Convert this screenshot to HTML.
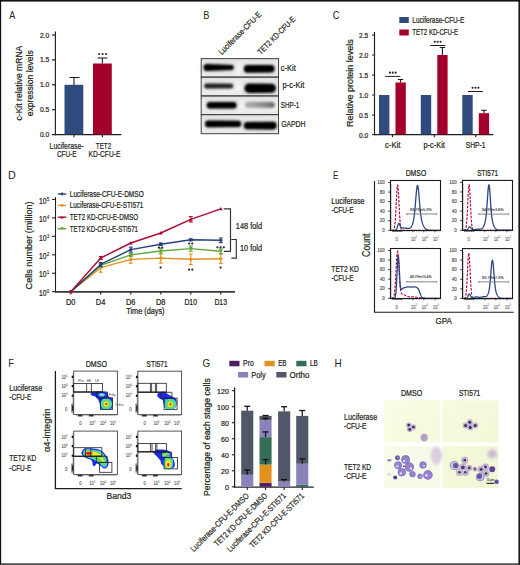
<!DOCTYPE html>
<html><head><meta charset="utf-8"><style>
html,body{margin:0;padding:0;background:#fff;overflow:hidden;}
svg{display:block;}
text{font-family:"Liberation Sans",sans-serif;}
</style></head><body>
<svg width="520" height="565" viewBox="0 0 520 565">
<rect x="0" y="0" width="520" height="565" fill="#fff"/>
<text x="9.18" y="19.00" font-size="11.2" fill="#231f20" textLength="6.02" lengthAdjust="spacingAndGlyphs">A</text>
<line x1="55.40" y1="31.50" x2="55.40" y2="135.20" stroke="#231f20" stroke-width="1.15"/>
<line x1="54.60" y1="134.60" x2="121.20" y2="134.60" stroke="#231f20" stroke-width="1.3"/>
<line x1="52.00" y1="35.00" x2="55.00" y2="35.00" stroke="#231f20" stroke-width="1.2"/>
<text x="39.90" y="37.55" font-size="7.2" fill="#231f20" textLength="9.30" lengthAdjust="spacingAndGlyphs" stroke="#231f20" stroke-width="0.22">2.0</text>
<line x1="52.00" y1="59.90" x2="55.00" y2="59.90" stroke="#231f20" stroke-width="1.2"/>
<text x="39.90" y="62.45" font-size="7.2" fill="#231f20" textLength="9.30" lengthAdjust="spacingAndGlyphs" stroke="#231f20" stroke-width="0.22">1.5</text>
<line x1="52.00" y1="84.80" x2="55.00" y2="84.80" stroke="#231f20" stroke-width="1.2"/>
<text x="39.90" y="87.35" font-size="7.2" fill="#231f20" textLength="9.30" lengthAdjust="spacingAndGlyphs" stroke="#231f20" stroke-width="0.22">1.0</text>
<line x1="52.00" y1="109.70" x2="55.00" y2="109.70" stroke="#231f20" stroke-width="1.2"/>
<text x="39.90" y="112.25" font-size="7.2" fill="#231f20" textLength="9.30" lengthAdjust="spacingAndGlyphs" stroke="#231f20" stroke-width="0.22">0.5</text>
<line x1="52.00" y1="134.60" x2="55.00" y2="134.60" stroke="#231f20" stroke-width="1.2"/>
<text x="39.90" y="137.15" font-size="7.2" fill="#231f20" textLength="9.30" lengthAdjust="spacingAndGlyphs" stroke="#231f20" stroke-width="0.22">0.0</text>
<rect x="64.50" y="84.80" width="18.80" height="49.60" fill="#2f4b7d"/>
<rect x="93.00" y="63.50" width="18.80" height="70.90" fill="#a3012b"/>
<line x1="74.00" y1="85.00" x2="74.00" y2="77.50" stroke="#231f20" stroke-width="1.1"/>
<line x1="69.50" y1="77.50" x2="79.50" y2="77.50" stroke="#231f20" stroke-width="1.1"/>
<line x1="102.40" y1="63.50" x2="102.40" y2="58.00" stroke="#231f20" stroke-width="1.1"/>
<line x1="97.50" y1="58.00" x2="107.50" y2="58.00" stroke="#231f20" stroke-width="1.1"/>
<line x1="74.00" y1="134.60" x2="74.00" y2="137.30" stroke="#231f20" stroke-width="1.1"/>
<line x1="102.40" y1="134.60" x2="102.40" y2="137.30" stroke="#231f20" stroke-width="1.1"/>
<circle cx="99.15" cy="54.00" r="1.05" fill="#222"/>
<circle cx="102.60" cy="54.00" r="1.05" fill="#222"/>
<circle cx="106.05" cy="54.00" r="1.05" fill="#222"/>
<text x="49.60" y="148.50" font-size="8.7" fill="#231f20" textLength="33.90" lengthAdjust="spacingAndGlyphs" stroke="#231f20" stroke-width="0.22">Luciferase-</text>
<text x="57.00" y="157.20" font-size="8.7" fill="#231f20" textLength="19.50" lengthAdjust="spacingAndGlyphs" stroke="#231f20" stroke-width="0.22">CFU-E</text>
<text x="95.80" y="148.50" font-size="8.7" fill="#231f20" textLength="15.40" lengthAdjust="spacingAndGlyphs" stroke="#231f20" stroke-width="0.22">TET2</text>
<text x="88.50" y="157.20" font-size="8.7" fill="#231f20" textLength="31.90" lengthAdjust="spacingAndGlyphs" stroke="#231f20" stroke-width="0.22">KD-CFU-E</text>
<g transform="translate(21.60,83.10) rotate(-90)"><text x="-37.40" y="0" font-size="9" fill="#231f20" textLength="74.80" lengthAdjust="spacingAndGlyphs" stroke="#231f20" stroke-width="0.22">c-Kit relative mRNA</text></g>
<g transform="translate(32.60,83.25) rotate(-90)"><text x="-33.00" y="0" font-size="9" fill="#231f20" textLength="66.00" lengthAdjust="spacingAndGlyphs" stroke="#231f20" stroke-width="0.22">expression levels</text></g>
<text x="203.24" y="18.90" font-size="11.2" fill="#231f20" textLength="6.16" lengthAdjust="spacingAndGlyphs">B</text>
<g transform="translate(221.80,55.20) rotate(-45)"><text x="0.00" y="0" font-size="8.2" fill="#231f20" textLength="56.50" lengthAdjust="spacingAndGlyphs" stroke="#231f20" stroke-width="0.22">Luciferase-CFU-E</text></g>
<g transform="translate(260.80,55.00) rotate(-45)"><text x="0.00" y="0" font-size="8.2" fill="#231f20" textLength="49.50" lengthAdjust="spacingAndGlyphs" stroke="#231f20" stroke-width="0.22">TET2 KD-CFU-E</text></g>
<defs><filter id="bl1" x="-30%" y="-100%" width="160%" height="300%"><feGaussianBlur stdDeviation="1.25 1.1"/></filter><linearGradient id="blotbg" x1="0" x2="0" y1="0" y2="1"><stop offset="0" stop-color="#dcdcdc"/><stop offset="0.25" stop-color="#eeeeee"/><stop offset="0.6" stop-color="#f6f6f6"/><stop offset="1" stop-color="#e6e6e6"/></linearGradient></defs>
<rect x="201.20" y="58.60" width="77.30" height="18.50" fill="url(#blotbg)"/>
<rect x="201.20" y="77.10" width="77.30" height="18.80" fill="url(#blotbg)"/>
<rect x="201.20" y="95.90" width="77.30" height="18.70" fill="url(#blotbg)"/>
<rect x="201.20" y="114.60" width="77.30" height="19.10" fill="url(#blotbg)"/>
<defs><linearGradient id="shpg" x1="0" x2="1" y1="0" y2="0"><stop offset="0" stop-color="#acacac"/><stop offset="0.5" stop-color="#959595"/><stop offset="1" stop-color="#6a6a6a"/></linearGradient></defs>
<defs><filter id="bl2" x="-30%" y="-150%" width="160%" height="400%"><feGaussianBlur stdDeviation="2.2 1.8"/></filter></defs>
<rect x="202.50" y="62.50" width="32.30" height="10.00" rx="3" fill="#d2d2d2" filter="url(#bl2)"/>
<rect x="242.80" y="63.40" width="32.80" height="10.80" rx="3" fill="#d2d2d2" filter="url(#bl2)"/>
<rect x="203.30" y="82.00" width="30.90" height="8.00" rx="3" fill="#d2d2d2" filter="url(#bl2)"/>
<rect x="243.40" y="82.10" width="33.50" height="12.40" rx="3" fill="#d2d2d2" filter="url(#bl2)"/>
<rect x="205.70" y="100.50" width="31.90" height="9.60" rx="3" fill="#d2d2d2" filter="url(#bl2)"/>
<rect x="244.30" y="100.40" width="31.40" height="8.80" rx="3" fill="#e0e0e0" filter="url(#bl2)"/>
<rect x="204.10" y="119.00" width="38.10" height="9.80" rx="3" fill="#d2d2d2" filter="url(#bl2)"/>
<rect x="242.80" y="120.30" width="34.90" height="10.60" rx="3" fill="#d2d2d2" filter="url(#bl2)"/>
<path d="M207.00,64.00 L231.30,65.00 A2.50,2.50 0 0 1 231.30,70.00 L207.00,71.00 A3.50,3.50 0 0 1 207.00,64.00Z" fill="#000" filter="url(#bl1)"/>
<path d="M247.70,64.90 L270.90,65.10 A3.70,3.70 0 0 1 270.90,72.50 L247.70,72.70 A3.90,3.90 0 0 1 247.70,64.90Z" fill="#000" filter="url(#bl1)"/>
<path d="M206.80,83.50 L231.00,83.80 A2.20,2.20 0 0 1 231.00,88.20 L206.80,88.50 A2.50,2.50 0 0 1 206.80,83.50Z" fill="#222" filter="url(#bl1)"/>
<path d="M249.10,83.60 L271.40,83.80 A4.50,4.50 0 0 1 271.40,92.80 L249.10,93.00 A4.70,4.70 0 0 1 249.10,83.60Z" fill="#000" filter="url(#bl1)"/>
<path d="M210.00,102.00 L233.40,102.10 A3.20,3.20 0 0 1 233.40,108.50 L210.00,108.60 A3.30,3.30 0 0 1 210.00,102.00Z" fill="#000" filter="url(#bl1)"/>
<path d="M248.00,102.10 L271.80,101.90 A2.90,2.90 0 0 1 271.80,107.70 L248.00,107.50 A2.70,2.70 0 0 1 248.00,102.10Z" fill="url(#shpg)" filter="url(#bl1)"/>
<path d="M208.50,120.50 L238.10,120.80 A3.10,3.10 0 0 1 238.10,127.00 L208.50,127.30 A3.40,3.40 0 0 1 208.50,120.50Z" fill="#000" filter="url(#bl1)"/>
<path d="M247.50,121.90 L272.90,121.80 A3.80,3.80 0 0 1 272.90,129.40 L247.50,129.30 A3.70,3.70 0 0 1 247.50,121.90Z" fill="#000" filter="url(#bl1)"/>
<rect x="201.20" y="58.60" width="77.30" height="18.50" fill="none" stroke="#444" stroke-width="1.0"/>
<rect x="201.20" y="77.10" width="77.30" height="18.80" fill="none" stroke="#444" stroke-width="1.0"/>
<rect x="201.20" y="95.90" width="77.30" height="18.70" fill="none" stroke="#444" stroke-width="1.0"/>
<rect x="201.20" y="114.60" width="77.30" height="19.10" fill="none" stroke="#444" stroke-width="1.0"/>
<text x="280.80" y="71.00" font-size="8.5" fill="#231f20" textLength="15.00" lengthAdjust="spacingAndGlyphs" stroke="#231f20" stroke-width="0.22">c-Kit</text>
<text x="282.50" y="87.80" font-size="8.5" fill="#231f20" textLength="21.80" lengthAdjust="spacingAndGlyphs" stroke="#231f20" stroke-width="0.22">p-c-Kit</text>
<text x="280.80" y="108.20" font-size="8.5" fill="#231f20" textLength="18.50" lengthAdjust="spacingAndGlyphs" stroke="#231f20" stroke-width="0.22">SHP-1</text>
<text x="281.20" y="127.30" font-size="8.5" fill="#231f20" textLength="24.30" lengthAdjust="spacingAndGlyphs" stroke="#231f20" stroke-width="0.22">GAPDH</text>
<text x="332.63" y="18.90" font-size="11.2" fill="#231f20" textLength="6.67" lengthAdjust="spacingAndGlyphs">C</text>
<rect x="399.30" y="17.00" width="9.50" height="6.00" fill="#2f4b7d"/>
<text x="412.30" y="22.90" font-size="8.2" fill="#231f20" textLength="52.00" lengthAdjust="spacingAndGlyphs" stroke="#231f20" stroke-width="0.22">Luciferase-CFU-E</text>
<rect x="399.30" y="29.50" width="9.50" height="6.00" fill="#a3012b"/>
<text x="412.30" y="35.30" font-size="8.2" fill="#231f20" textLength="45.70" lengthAdjust="spacingAndGlyphs" stroke="#231f20" stroke-width="0.22">TET2 KD-CFU-E</text>
<line x1="374.50" y1="32.00" x2="374.50" y2="135.20" stroke="#231f20" stroke-width="1.15"/>
<line x1="374.00" y1="134.60" x2="493.30" y2="134.60" stroke="#231f20" stroke-width="1.3"/>
<line x1="372.00" y1="35.00" x2="374.50" y2="35.00" stroke="#231f20" stroke-width="1"/>
<text x="359.10" y="37.90" font-size="7.1" fill="#231f20" textLength="9.20" lengthAdjust="spacingAndGlyphs" stroke="#231f20" stroke-width="0.22">2.5</text>
<line x1="372.00" y1="55.00" x2="374.50" y2="55.00" stroke="#231f20" stroke-width="1"/>
<text x="359.10" y="57.90" font-size="7.1" fill="#231f20" textLength="9.20" lengthAdjust="spacingAndGlyphs" stroke="#231f20" stroke-width="0.22">2.0</text>
<line x1="372.00" y1="75.00" x2="374.50" y2="75.00" stroke="#231f20" stroke-width="1"/>
<text x="359.10" y="77.90" font-size="7.1" fill="#231f20" textLength="9.20" lengthAdjust="spacingAndGlyphs" stroke="#231f20" stroke-width="0.22">1.5</text>
<line x1="372.00" y1="95.00" x2="374.50" y2="95.00" stroke="#231f20" stroke-width="1"/>
<text x="359.10" y="97.90" font-size="7.1" fill="#231f20" textLength="9.20" lengthAdjust="spacingAndGlyphs" stroke="#231f20" stroke-width="0.22">1.0</text>
<line x1="372.00" y1="115.00" x2="374.50" y2="115.00" stroke="#231f20" stroke-width="1"/>
<text x="359.10" y="117.90" font-size="7.1" fill="#231f20" textLength="9.20" lengthAdjust="spacingAndGlyphs" stroke="#231f20" stroke-width="0.22">0.5</text>
<line x1="372.00" y1="134.60" x2="374.50" y2="134.60" stroke="#231f20" stroke-width="1"/>
<text x="359.10" y="137.50" font-size="7.1" fill="#231f20" textLength="9.20" lengthAdjust="spacingAndGlyphs" stroke="#231f20" stroke-width="0.22">0.0</text>
<rect x="379.00" y="95.00" width="10.40" height="39.40" fill="#2f4b7d"/>
<rect x="395.50" y="82.50" width="10.30" height="51.90" fill="#a3012b"/>
<line x1="400.60" y1="82.50" x2="400.60" y2="79.50" stroke="#231f20" stroke-width="1.1"/>
<line x1="397.90" y1="79.50" x2="403.30" y2="79.50" stroke="#231f20" stroke-width="1.1"/>
<line x1="392.50" y1="134.60" x2="392.50" y2="137.20" stroke="#231f20" stroke-width="1.1"/>
<rect x="420.80" y="95.00" width="10.40" height="39.40" fill="#2f4b7d"/>
<rect x="437.30" y="55.00" width="10.30" height="79.40" fill="#a3012b"/>
<line x1="442.40" y1="55.00" x2="442.40" y2="47.50" stroke="#231f20" stroke-width="1.1"/>
<line x1="439.70" y1="47.50" x2="445.10" y2="47.50" stroke="#231f20" stroke-width="1.1"/>
<line x1="434.30" y1="134.60" x2="434.30" y2="137.20" stroke="#231f20" stroke-width="1.1"/>
<rect x="462.30" y="95.00" width="10.40" height="39.40" fill="#2f4b7d"/>
<rect x="478.80" y="113.20" width="10.30" height="21.20" fill="#a3012b"/>
<line x1="483.90" y1="113.20" x2="483.90" y2="110.30" stroke="#231f20" stroke-width="1.1"/>
<line x1="481.20" y1="110.30" x2="486.60" y2="110.30" stroke="#231f20" stroke-width="1.1"/>
<line x1="475.80" y1="134.60" x2="475.80" y2="137.20" stroke="#231f20" stroke-width="1.1"/>
<line x1="385.20" y1="76.40" x2="400.30" y2="76.40" stroke="#231f20" stroke-width="1.0"/>
<circle cx="389.85" cy="72.65" r="1.05" fill="#222"/>
<circle cx="392.75" cy="72.65" r="1.05" fill="#222"/>
<circle cx="395.65" cy="72.65" r="1.05" fill="#222"/>
<line x1="430.20" y1="45.50" x2="445.20" y2="45.50" stroke="#231f20" stroke-width="1.0"/>
<circle cx="434.80" cy="41.75" r="1.05" fill="#222"/>
<circle cx="437.70" cy="41.75" r="1.05" fill="#222"/>
<circle cx="440.60" cy="41.75" r="1.05" fill="#222"/>
<line x1="468.00" y1="91.50" x2="483.00" y2="91.50" stroke="#231f20" stroke-width="1.0"/>
<circle cx="472.60" cy="87.75" r="1.05" fill="#222"/>
<circle cx="475.50" cy="87.75" r="1.05" fill="#222"/>
<circle cx="478.40" cy="87.75" r="1.05" fill="#222"/>
<text x="384.95" y="147.60" font-size="8.5" fill="#231f20" textLength="15.50" lengthAdjust="spacingAndGlyphs" stroke="#231f20" stroke-width="0.22">c-Kit</text>
<text x="423.55" y="147.60" font-size="8.5" fill="#231f20" textLength="21.30" lengthAdjust="spacingAndGlyphs" stroke="#231f20" stroke-width="0.22">p-c-Kit</text>
<text x="465.70" y="147.60" font-size="8.5" fill="#231f20" textLength="19.80" lengthAdjust="spacingAndGlyphs" stroke="#231f20" stroke-width="0.22">SHP-1</text>
<g transform="translate(352.90,83.10) rotate(-90)"><text x="-43.80" y="0" font-size="9" fill="#231f20" textLength="87.60" lengthAdjust="spacingAndGlyphs" stroke="#231f20" stroke-width="0.22">Relative protein levels</text></g>
<text x="8.12" y="179.00" font-size="11.2" fill="#231f20" textLength="7.78" lengthAdjust="spacingAndGlyphs">D</text>
<line x1="55.50" y1="197.10" x2="55.50" y2="291.50" stroke="#231f20" stroke-width="1.1"/>
<line x1="54.90" y1="291.90" x2="235.00" y2="291.90" stroke="#383838" stroke-width="1.8"/>
<line x1="52.10" y1="291.70" x2="55.50" y2="291.70" stroke="#231f20" stroke-width="1.1"/>
<text x="39.00" y="295.90" font-size="8.2" fill="#231f20" textLength="7.50" lengthAdjust="spacingAndGlyphs" stroke="#231f20" stroke-width="0.22">10</text>
<text x="46.80" y="292.90" font-size="6.2" fill="#231f20" textLength="2.60" lengthAdjust="spacingAndGlyphs" stroke="#231f20" stroke-width="0.12">0</text>
<line x1="52.10" y1="273.25" x2="55.50" y2="273.25" stroke="#231f20" stroke-width="1.1"/>
<text x="39.00" y="277.45" font-size="8.2" fill="#231f20" textLength="7.50" lengthAdjust="spacingAndGlyphs" stroke="#231f20" stroke-width="0.22">10</text>
<text x="46.80" y="274.45" font-size="6.2" fill="#231f20" textLength="2.60" lengthAdjust="spacingAndGlyphs" stroke="#231f20" stroke-width="0.12">1</text>
<line x1="52.10" y1="254.80" x2="55.50" y2="254.80" stroke="#231f20" stroke-width="1.1"/>
<text x="39.00" y="259.00" font-size="8.2" fill="#231f20" textLength="7.50" lengthAdjust="spacingAndGlyphs" stroke="#231f20" stroke-width="0.22">10</text>
<text x="46.80" y="256.00" font-size="6.2" fill="#231f20" textLength="2.60" lengthAdjust="spacingAndGlyphs" stroke="#231f20" stroke-width="0.12">2</text>
<line x1="52.10" y1="236.35" x2="55.50" y2="236.35" stroke="#231f20" stroke-width="1.1"/>
<text x="39.00" y="240.55" font-size="8.2" fill="#231f20" textLength="7.50" lengthAdjust="spacingAndGlyphs" stroke="#231f20" stroke-width="0.22">10</text>
<text x="46.80" y="237.55" font-size="6.2" fill="#231f20" textLength="2.60" lengthAdjust="spacingAndGlyphs" stroke="#231f20" stroke-width="0.12">3</text>
<line x1="52.10" y1="217.90" x2="55.50" y2="217.90" stroke="#231f20" stroke-width="1.1"/>
<text x="39.00" y="222.10" font-size="8.2" fill="#231f20" textLength="7.50" lengthAdjust="spacingAndGlyphs" stroke="#231f20" stroke-width="0.22">10</text>
<text x="46.80" y="219.10" font-size="6.2" fill="#231f20" textLength="2.60" lengthAdjust="spacingAndGlyphs" stroke="#231f20" stroke-width="0.12">4</text>
<line x1="52.10" y1="199.45" x2="55.50" y2="199.45" stroke="#231f20" stroke-width="1.1"/>
<text x="39.00" y="203.65" font-size="8.2" fill="#231f20" textLength="7.50" lengthAdjust="spacingAndGlyphs" stroke="#231f20" stroke-width="0.22">10</text>
<text x="46.80" y="200.65" font-size="6.2" fill="#231f20" textLength="2.60" lengthAdjust="spacingAndGlyphs" stroke="#231f20" stroke-width="0.12">5</text>
<line x1="70.80" y1="291.70" x2="70.80" y2="294.50" stroke="#231f20" stroke-width="1.1"/>
<text x="65.95" y="304.60" font-size="8.3" fill="#231f20" textLength="9.50" lengthAdjust="spacingAndGlyphs" stroke="#231f20" stroke-width="0.22">D0</text>
<line x1="100.70" y1="291.70" x2="100.70" y2="294.50" stroke="#231f20" stroke-width="1.1"/>
<text x="95.85" y="304.60" font-size="8.3" fill="#231f20" textLength="9.50" lengthAdjust="spacingAndGlyphs" stroke="#231f20" stroke-width="0.22">D4</text>
<line x1="130.80" y1="291.70" x2="130.80" y2="294.50" stroke="#231f20" stroke-width="1.1"/>
<text x="125.95" y="304.60" font-size="8.3" fill="#231f20" textLength="9.50" lengthAdjust="spacingAndGlyphs" stroke="#231f20" stroke-width="0.22">D6</text>
<line x1="160.80" y1="291.70" x2="160.80" y2="294.50" stroke="#231f20" stroke-width="1.1"/>
<text x="155.95" y="304.60" font-size="8.3" fill="#231f20" textLength="9.50" lengthAdjust="spacingAndGlyphs" stroke="#231f20" stroke-width="0.22">D8</text>
<line x1="190.80" y1="291.70" x2="190.80" y2="294.50" stroke="#231f20" stroke-width="1.1"/>
<text x="184.40" y="304.60" font-size="8.3" fill="#231f20" textLength="12.60" lengthAdjust="spacingAndGlyphs" stroke="#231f20" stroke-width="0.22">D10</text>
<line x1="220.80" y1="291.70" x2="220.80" y2="294.50" stroke="#231f20" stroke-width="1.1"/>
<text x="214.40" y="304.60" font-size="8.3" fill="#231f20" textLength="12.60" lengthAdjust="spacingAndGlyphs" stroke="#231f20" stroke-width="0.22">D13</text>
<text x="126.25" y="313.80" font-size="8.3" fill="#231f20" textLength="38.30" lengthAdjust="spacingAndGlyphs" stroke="#231f20" stroke-width="0.22">Time (days)</text>
<g transform="translate(31.70,245.40) rotate(-90)"><text x="-44.00" y="0" font-size="8.6" fill="#231f20" textLength="88.00" lengthAdjust="spacingAndGlyphs" stroke="#231f20" stroke-width="0.22">Cells number (million)</text></g>
<polyline points="70.8,291.7 100.7,267.7 130.8,259.4 160.8,258.1 190.8,259.3 220.8,258.8" fill="none" stroke="#e3901a" stroke-width="1.4" stroke-linejoin="round"/>
<circle cx="70.80" cy="291.70" r="1.61" fill="#e3901a"/>
<line x1="100.70" y1="263.20" x2="100.70" y2="272.20" stroke="#e3901a" stroke-width="1.1"/>
<line x1="98.70" y1="263.20" x2="102.70" y2="263.20" stroke="#e3901a" stroke-width="1.1"/>
<line x1="98.70" y1="272.20" x2="102.70" y2="272.20" stroke="#e3901a" stroke-width="1.1"/>
<circle cx="100.70" cy="267.70" r="1.61" fill="#e3901a"/>
<line x1="130.80" y1="255.60" x2="130.80" y2="263.20" stroke="#e3901a" stroke-width="1.1"/>
<line x1="128.80" y1="255.60" x2="132.80" y2="255.60" stroke="#e3901a" stroke-width="1.1"/>
<line x1="128.80" y1="263.20" x2="132.80" y2="263.20" stroke="#e3901a" stroke-width="1.1"/>
<circle cx="130.80" cy="259.40" r="1.61" fill="#e3901a"/>
<line x1="160.80" y1="253.10" x2="160.80" y2="263.10" stroke="#e3901a" stroke-width="1.1"/>
<line x1="158.80" y1="253.10" x2="162.80" y2="253.10" stroke="#e3901a" stroke-width="1.1"/>
<line x1="158.80" y1="263.10" x2="162.80" y2="263.10" stroke="#e3901a" stroke-width="1.1"/>
<circle cx="160.80" cy="258.10" r="1.61" fill="#e3901a"/>
<line x1="190.80" y1="254.00" x2="190.80" y2="264.60" stroke="#e3901a" stroke-width="1.1"/>
<line x1="188.80" y1="254.00" x2="192.80" y2="254.00" stroke="#e3901a" stroke-width="1.1"/>
<line x1="188.80" y1="264.60" x2="192.80" y2="264.60" stroke="#e3901a" stroke-width="1.1"/>
<circle cx="190.80" cy="259.30" r="1.61" fill="#e3901a"/>
<line x1="220.80" y1="254.20" x2="220.80" y2="263.40" stroke="#e3901a" stroke-width="1.1"/>
<line x1="218.80" y1="254.20" x2="222.80" y2="254.20" stroke="#e3901a" stroke-width="1.1"/>
<line x1="218.80" y1="263.40" x2="222.80" y2="263.40" stroke="#e3901a" stroke-width="1.1"/>
<circle cx="220.80" cy="258.80" r="1.61" fill="#e3901a"/>
<polyline points="70.8,291.7 100.7,265.4 130.8,254.9 160.8,251.0 190.8,248.6 220.8,251.2" fill="none" stroke="#5fa737" stroke-width="1.4" stroke-linejoin="round"/>
<path d="M70.80,293.60 L72.70,290.18 L68.90,290.18Z" fill="#5fa737"/>
<line x1="100.70" y1="263.90" x2="100.70" y2="266.90" stroke="#5fa737" stroke-width="1.1"/>
<line x1="98.70" y1="263.90" x2="102.70" y2="263.90" stroke="#5fa737" stroke-width="1.1"/>
<line x1="98.70" y1="266.90" x2="102.70" y2="266.90" stroke="#5fa737" stroke-width="1.1"/>
<path d="M100.70,267.30 L102.60,263.88 L98.80,263.88Z" fill="#5fa737"/>
<line x1="130.80" y1="253.40" x2="130.80" y2="256.40" stroke="#5fa737" stroke-width="1.1"/>
<line x1="128.80" y1="253.40" x2="132.80" y2="253.40" stroke="#5fa737" stroke-width="1.1"/>
<line x1="128.80" y1="256.40" x2="132.80" y2="256.40" stroke="#5fa737" stroke-width="1.1"/>
<path d="M130.80,256.80 L132.70,253.38 L128.90,253.38Z" fill="#5fa737"/>
<line x1="160.80" y1="248.20" x2="160.80" y2="253.80" stroke="#5fa737" stroke-width="1.1"/>
<line x1="158.80" y1="248.20" x2="162.80" y2="248.20" stroke="#5fa737" stroke-width="1.1"/>
<line x1="158.80" y1="253.80" x2="162.80" y2="253.80" stroke="#5fa737" stroke-width="1.1"/>
<path d="M160.80,252.90 L162.70,249.48 L158.90,249.48Z" fill="#5fa737"/>
<line x1="190.80" y1="246.00" x2="190.80" y2="251.20" stroke="#5fa737" stroke-width="1.1"/>
<line x1="188.80" y1="246.00" x2="192.80" y2="246.00" stroke="#5fa737" stroke-width="1.1"/>
<line x1="188.80" y1="251.20" x2="192.80" y2="251.20" stroke="#5fa737" stroke-width="1.1"/>
<path d="M190.80,250.50 L192.70,247.08 L188.90,247.08Z" fill="#5fa737"/>
<line x1="220.80" y1="248.90" x2="220.80" y2="253.50" stroke="#5fa737" stroke-width="1.1"/>
<line x1="218.80" y1="248.90" x2="222.80" y2="248.90" stroke="#5fa737" stroke-width="1.1"/>
<line x1="218.80" y1="253.50" x2="222.80" y2="253.50" stroke="#5fa737" stroke-width="1.1"/>
<path d="M220.80,253.10 L222.70,249.68 L218.90,249.68Z" fill="#5fa737"/>
<polyline points="70.8,291.7 100.7,264.4 130.8,249.6 160.8,244.2 190.8,239.8 220.8,240.3" fill="none" stroke="#27417f" stroke-width="1.4" stroke-linejoin="round"/>
<circle cx="70.80" cy="291.70" r="1.61" fill="#27417f"/>
<line x1="100.70" y1="262.40" x2="100.70" y2="266.40" stroke="#27417f" stroke-width="1.1"/>
<line x1="98.70" y1="262.40" x2="102.70" y2="262.40" stroke="#27417f" stroke-width="1.1"/>
<line x1="98.70" y1="266.40" x2="102.70" y2="266.40" stroke="#27417f" stroke-width="1.1"/>
<circle cx="100.70" cy="264.40" r="1.61" fill="#27417f"/>
<line x1="130.80" y1="247.10" x2="130.80" y2="252.10" stroke="#27417f" stroke-width="1.1"/>
<line x1="128.80" y1="247.10" x2="132.80" y2="247.10" stroke="#27417f" stroke-width="1.1"/>
<line x1="128.80" y1="252.10" x2="132.80" y2="252.10" stroke="#27417f" stroke-width="1.1"/>
<circle cx="130.80" cy="249.60" r="1.61" fill="#27417f"/>
<line x1="160.80" y1="243.00" x2="160.80" y2="245.40" stroke="#27417f" stroke-width="1.1"/>
<line x1="158.80" y1="243.00" x2="162.80" y2="243.00" stroke="#27417f" stroke-width="1.1"/>
<line x1="158.80" y1="245.40" x2="162.80" y2="245.40" stroke="#27417f" stroke-width="1.1"/>
<circle cx="160.80" cy="244.20" r="1.61" fill="#27417f"/>
<line x1="190.80" y1="238.80" x2="190.80" y2="240.80" stroke="#27417f" stroke-width="1.1"/>
<line x1="188.80" y1="238.80" x2="192.80" y2="238.80" stroke="#27417f" stroke-width="1.1"/>
<line x1="188.80" y1="240.80" x2="192.80" y2="240.80" stroke="#27417f" stroke-width="1.1"/>
<circle cx="190.80" cy="239.80" r="1.61" fill="#27417f"/>
<line x1="220.80" y1="238.00" x2="220.80" y2="242.60" stroke="#27417f" stroke-width="1.1"/>
<line x1="218.80" y1="238.00" x2="222.80" y2="238.00" stroke="#27417f" stroke-width="1.1"/>
<line x1="218.80" y1="242.60" x2="222.80" y2="242.60" stroke="#27417f" stroke-width="1.1"/>
<circle cx="220.80" cy="240.30" r="1.61" fill="#27417f"/>
<polyline points="70.8,291.7 100.7,258.0 130.8,243.0 160.8,233.0 190.8,219.3 220.8,208.8" fill="none" stroke="#ae0a31" stroke-width="1.4" stroke-linejoin="round"/>
<path d="M70.80,289.80 L72.70,293.22 L68.90,293.22Z" fill="#ae0a31"/>
<line x1="100.70" y1="256.50" x2="100.70" y2="259.50" stroke="#ae0a31" stroke-width="1.1"/>
<line x1="98.70" y1="256.50" x2="102.70" y2="256.50" stroke="#ae0a31" stroke-width="1.1"/>
<line x1="98.70" y1="259.50" x2="102.70" y2="259.50" stroke="#ae0a31" stroke-width="1.1"/>
<path d="M100.70,256.10 L102.60,259.52 L98.80,259.52Z" fill="#ae0a31"/>
<path d="M130.80,241.10 L132.70,244.52 L128.90,244.52Z" fill="#ae0a31"/>
<path d="M160.80,231.10 L162.70,234.52 L158.90,234.52Z" fill="#ae0a31"/>
<line x1="190.80" y1="216.60" x2="190.80" y2="222.00" stroke="#ae0a31" stroke-width="1.1"/>
<line x1="188.80" y1="216.60" x2="192.80" y2="216.60" stroke="#ae0a31" stroke-width="1.1"/>
<line x1="188.80" y1="222.00" x2="192.80" y2="222.00" stroke="#ae0a31" stroke-width="1.1"/>
<path d="M190.80,217.40 L192.70,220.82 L188.90,220.82Z" fill="#ae0a31"/>
<path d="M220.80,206.90 L222.70,210.32 L218.90,210.32Z" fill="#ae0a31"/>
<circle cx="160.60" cy="267.60" r="1.1" fill="#222"/>
<circle cx="189.10" cy="269.60" r="1.1" fill="#222"/>
<circle cx="192.30" cy="269.60" r="1.1" fill="#222"/>
<circle cx="220.60" cy="267.60" r="1.1" fill="#222"/>
<circle cx="189.10" cy="243.50" r="1.1" fill="#222"/>
<circle cx="192.30" cy="243.50" r="1.1" fill="#222"/>
<circle cx="217.40" cy="247.30" r="1.1" fill="#222"/>
<circle cx="220.60" cy="247.30" r="1.1" fill="#222"/>
<circle cx="223.80" cy="247.30" r="1.1" fill="#222"/>
<circle cx="159.00" cy="247.60" r="1.1" fill="#222"/>
<circle cx="162.20" cy="247.60" r="1.1" fill="#222"/>
<path d="M223.8,208.8 H230.5 V251.3 H223.8" stroke="#333" stroke-width="1.15" fill="none"/>
<path d="M231.3,239.5 H236.3 V258.1 H231.3" stroke="#333" stroke-width="1.15" fill="none"/>
<text x="235.80" y="229.00" font-size="8.2" fill="#231f20" textLength="26.30" lengthAdjust="spacingAndGlyphs" stroke="#231f20" stroke-width="0.22">148 fold</text>
<text x="240.00" y="251.10" font-size="8.2" fill="#231f20" textLength="22.00" lengthAdjust="spacingAndGlyphs" stroke="#231f20" stroke-width="0.22">10 fold</text>
<line x1="57.80" y1="194.00" x2="66.30" y2="194.00" stroke="#27417f" stroke-width="1.35"/>
<circle cx="62.00" cy="194.00" r="1.44" fill="#27417f"/>
<text x="69.75" y="196.90" font-size="8.5" fill="#231f20" textLength="74.00" lengthAdjust="spacingAndGlyphs" stroke="#231f20" stroke-width="0.22">Luciferase-CFU-E-DMSO</text>
<line x1="57.80" y1="205.40" x2="66.30" y2="205.40" stroke="#e3901a" stroke-width="1.35"/>
<circle cx="62.00" cy="205.40" r="1.44" fill="#e3901a"/>
<text x="69.75" y="208.30" font-size="8.5" fill="#231f20" textLength="73.50" lengthAdjust="spacingAndGlyphs" stroke="#231f20" stroke-width="0.22">Luciferase-CFU-E-STI571</text>
<line x1="57.80" y1="217.20" x2="66.30" y2="217.20" stroke="#ae0a31" stroke-width="1.35"/>
<path d="M62.00,215.50 L63.70,218.56 L60.30,218.56Z" fill="#ae0a31"/>
<text x="69.75" y="220.10" font-size="8.5" fill="#231f20" textLength="68.30" lengthAdjust="spacingAndGlyphs" stroke="#231f20" stroke-width="0.22">TET2 KD-CFU-E-DMSO</text>
<line x1="57.80" y1="228.70" x2="66.30" y2="228.70" stroke="#5fa737" stroke-width="1.35"/>
<path d="M62.00,230.40 L63.70,227.34 L60.30,227.34Z" fill="#5fa737"/>
<text x="69.75" y="231.60" font-size="8.5" fill="#231f20" textLength="68.30" lengthAdjust="spacingAndGlyphs" stroke="#231f20" stroke-width="0.22">TET2 KD-CFU-E-STI571</text>
<text x="333.03" y="179.00" font-size="11.2" fill="#231f20" textLength="5.43" lengthAdjust="spacingAndGlyphs">E</text>
<text x="405.65" y="175.90" font-size="8.4" fill="#231f20" textLength="20.60" lengthAdjust="spacingAndGlyphs" stroke="#231f20" stroke-width="0.22">DMSO</text>
<text x="477.15" y="175.90" font-size="8.4" fill="#231f20" textLength="21.00" lengthAdjust="spacingAndGlyphs" stroke="#231f20" stroke-width="0.22">STI571</text>
<text x="331.30" y="203.80" font-size="8.2" fill="#231f20" textLength="33.20" lengthAdjust="spacingAndGlyphs" stroke="#231f20" stroke-width="0.22">Luciferase</text>
<text x="331.40" y="212.90" font-size="8.2" fill="#231f20" textLength="22.10" lengthAdjust="spacingAndGlyphs" stroke="#231f20" stroke-width="0.22">-CFU-E</text>
<text x="331.30" y="271.60" font-size="8.2" fill="#231f20" textLength="27.50" lengthAdjust="spacingAndGlyphs" stroke="#231f20" stroke-width="0.22">TET2 KD</text>
<text x="331.40" y="281.40" font-size="8.2" fill="#231f20" textLength="22.10" lengthAdjust="spacingAndGlyphs" stroke="#231f20" stroke-width="0.22">-CFU-E</text>
<g transform="translate(370.40,245.20) rotate(-90)"><text x="-11.70" y="0" font-size="10" fill="#231f20" textLength="23.40" lengthAdjust="spacingAndGlyphs" stroke="#231f20" stroke-width="0.22">Count</text></g>
<text x="435.45" y="323.80" font-size="9.2" fill="#231f20" textLength="16.30" lengthAdjust="spacingAndGlyphs" stroke="#231f20" stroke-width="0.22">GPA</text>
<path d="M374.5,180.9 V312.2 H513.7" stroke="#1a1a1a" stroke-width="1.1" fill="none"/>
<line x1="388.00" y1="230.30" x2="390.50" y2="230.30" stroke="#222" stroke-width="0.8"/>
<text x="382.35" y="232.00" font-size="4.9" fill="#444" textLength="2.55" lengthAdjust="spacingAndGlyphs" stroke="#444" stroke-width="0.1">0</text>
<line x1="388.00" y1="220.74" x2="390.50" y2="220.74" stroke="#222" stroke-width="0.8"/>
<text x="379.80" y="222.44" font-size="4.9" fill="#444" textLength="5.10" lengthAdjust="spacingAndGlyphs" stroke="#444" stroke-width="0.1">20</text>
<line x1="388.00" y1="211.18" x2="390.50" y2="211.18" stroke="#222" stroke-width="0.8"/>
<text x="379.80" y="212.88" font-size="4.9" fill="#444" textLength="5.10" lengthAdjust="spacingAndGlyphs" stroke="#444" stroke-width="0.1">40</text>
<line x1="388.00" y1="201.62" x2="390.50" y2="201.62" stroke="#222" stroke-width="0.8"/>
<text x="379.80" y="203.32" font-size="4.9" fill="#444" textLength="5.10" lengthAdjust="spacingAndGlyphs" stroke="#444" stroke-width="0.1">60</text>
<line x1="388.00" y1="192.06" x2="390.50" y2="192.06" stroke="#222" stroke-width="0.8"/>
<text x="379.80" y="193.76" font-size="4.9" fill="#444" textLength="5.10" lengthAdjust="spacingAndGlyphs" stroke="#444" stroke-width="0.1">80</text>
<line x1="388.00" y1="182.50" x2="390.50" y2="182.50" stroke="#222" stroke-width="0.8"/>
<text x="377.25" y="184.20" font-size="4.9" fill="#444" textLength="7.65" lengthAdjust="spacingAndGlyphs" stroke="#444" stroke-width="0.1">100</text>
<line x1="390.50" y1="228.58" x2="391.60" y2="228.58" stroke="#222" stroke-width="0.5"/>
<line x1="390.50" y1="226.66" x2="391.60" y2="226.66" stroke="#222" stroke-width="0.5"/>
<line x1="390.50" y1="224.74" x2="391.60" y2="224.74" stroke="#222" stroke-width="0.5"/>
<line x1="390.50" y1="222.82" x2="391.60" y2="222.82" stroke="#222" stroke-width="0.5"/>
<line x1="390.50" y1="220.90" x2="391.60" y2="220.90" stroke="#222" stroke-width="0.5"/>
<line x1="390.50" y1="218.98" x2="391.60" y2="218.98" stroke="#222" stroke-width="0.5"/>
<line x1="390.50" y1="217.06" x2="391.60" y2="217.06" stroke="#222" stroke-width="0.5"/>
<line x1="390.50" y1="215.14" x2="391.60" y2="215.14" stroke="#222" stroke-width="0.5"/>
<line x1="390.50" y1="213.22" x2="391.60" y2="213.22" stroke="#222" stroke-width="0.5"/>
<line x1="390.50" y1="211.30" x2="391.60" y2="211.30" stroke="#222" stroke-width="0.5"/>
<line x1="390.50" y1="209.38" x2="391.60" y2="209.38" stroke="#222" stroke-width="0.5"/>
<line x1="390.50" y1="207.46" x2="391.60" y2="207.46" stroke="#222" stroke-width="0.5"/>
<line x1="390.50" y1="205.54" x2="391.60" y2="205.54" stroke="#222" stroke-width="0.5"/>
<line x1="390.50" y1="203.62" x2="391.60" y2="203.62" stroke="#222" stroke-width="0.5"/>
<line x1="390.50" y1="201.70" x2="391.60" y2="201.70" stroke="#222" stroke-width="0.5"/>
<line x1="390.50" y1="199.78" x2="391.60" y2="199.78" stroke="#222" stroke-width="0.5"/>
<line x1="390.50" y1="197.86" x2="391.60" y2="197.86" stroke="#222" stroke-width="0.5"/>
<line x1="390.50" y1="195.94" x2="391.60" y2="195.94" stroke="#222" stroke-width="0.5"/>
<line x1="390.50" y1="194.02" x2="391.60" y2="194.02" stroke="#222" stroke-width="0.5"/>
<line x1="390.50" y1="192.10" x2="391.60" y2="192.10" stroke="#222" stroke-width="0.5"/>
<line x1="390.50" y1="190.18" x2="391.60" y2="190.18" stroke="#222" stroke-width="0.5"/>
<line x1="390.50" y1="188.26" x2="391.60" y2="188.26" stroke="#222" stroke-width="0.5"/>
<line x1="390.50" y1="186.34" x2="391.60" y2="186.34" stroke="#222" stroke-width="0.5"/>
<line x1="390.50" y1="184.42" x2="391.60" y2="184.42" stroke="#222" stroke-width="0.5"/>
<path d="M391.50,230.30 L391.74,230.30 L391.98,230.29 L392.22,230.28 L392.46,230.27 L392.70,230.24 L392.94,230.18 L393.18,230.09 L393.42,229.92 L393.66,229.66 L393.90,229.24 L394.14,228.60 L394.38,227.66 L394.62,226.33 L394.86,224.51 L395.10,222.13 L395.34,219.12 L395.58,215.48 L395.82,211.26 L396.06,206.61 L396.30,201.74 L396.54,196.94 L396.78,192.54 L397.02,188.89 L397.26,186.31 L397.50,185.01 L397.74,185.13 L397.98,186.65 L398.22,189.44 L398.46,193.23 L398.70,197.72 L398.94,202.55 L399.18,207.41 L399.42,212.00 L399.66,216.12 L399.90,219.66 L400.14,222.57 L400.38,224.85 L400.62,226.58 L400.86,227.84 L401.10,228.72 L401.34,229.32 L401.58,229.71 L401.82,229.96 L402.06,230.11 L402.30,230.19 L402.54,230.24 L402.78,230.27 L403.02,230.29 L403.26,230.29 L403.50,230.30 L403.74,230.30 L403.98,230.30 L404.22,230.30 L404.46,230.30 L404.70,230.30 L404.94,230.30 L405.18,230.30 L405.42,230.30 L405.66,230.30 L405.90,230.30 L406.14,230.30 L406.38,230.30 L406.62,230.30 L406.86,230.30 L407.10,230.30 L407.34,230.30 L407.58,230.30 L407.82,230.30 L408.06,230.30 L408.30,230.30 L408.54,230.30 L408.78,230.30 L409.02,230.30 L409.26,230.30 L409.50,230.30 L409.74,230.30 L409.98,230.30 L410.22,230.30 L410.46,230.30 L410.70,230.30 L410.94,230.30 L411.18,230.30 L411.42,230.30 L411.66,230.30 L411.90,230.30 L412.14,230.30 L412.38,230.30 L412.62,230.30 L412.86,230.30 L413.10,230.30 L413.34,230.30 L413.58,230.30 L413.82,230.30 L414.06,230.30 L414.30,230.30 L414.54,230.30 L414.78,230.30 L415.02,230.30 L415.26,230.30 L415.50,230.30 L415.74,230.30 L415.98,230.30 L416.22,230.30 L416.46,230.30 L416.70,230.30 L416.94,230.30 L417.18,230.30 L417.42,230.30 L417.66,230.30 L417.90,230.30 L418.14,230.30 L418.38,230.30 L418.62,230.30 L418.86,230.30 L419.10,230.30 L419.34,230.30 L419.58,230.30 L419.82,230.30 L420.06,230.30 L420.30,230.30 L420.54,230.30 L420.78,230.30 L421.02,230.30 L421.26,230.30 L421.50,230.30 L421.74,230.30 L421.98,230.30 L422.22,230.30 L422.46,230.30 L422.70,230.30 L422.94,230.30 L423.18,230.30 L423.42,230.30 L423.66,230.30 L423.90,230.30 L424.14,230.30 L424.38,230.30 L424.62,230.30 L424.86,230.30 L425.10,230.30 L425.34,230.30 L425.58,230.30 L425.82,230.30 L426.06,230.30 L426.30,230.30 L426.54,230.30 L426.78,230.30 L427.02,230.30 L427.26,230.30 L427.50,230.30 L427.74,230.30 L427.98,230.30 L428.22,230.30 L428.46,230.30 L428.70,230.30 L428.94,230.30 L429.18,230.30 L429.42,230.30 L429.66,230.30 L429.90,230.30 L430.14,230.30 L430.38,230.30 L430.62,230.30 L430.86,230.30 L431.10,230.30 L431.34,230.30 L431.58,230.30 L431.82,230.30 L432.06,230.30 L432.30,230.30 L432.54,230.30 L432.78,230.30 L433.02,230.30 L433.26,230.30 L433.50,230.30 L433.74,230.30 L433.98,230.30 L434.22,230.30 L434.46,230.30 L434.70,230.30 L434.94,230.30 L435.18,230.30 L435.42,230.30 L435.66,230.30 L435.90,230.30 L436.14,230.30 L436.38,230.30 L436.62,230.30 L436.86,230.30 L437.10,230.30 L437.34,230.30 L437.58,230.30 L437.82,230.30 L438.06,230.30 L438.30,230.30 L438.54,230.30 L438.78,230.30 L439.02,230.30 L439.26,230.30 L439.50,230.30" stroke="#b30632" stroke-width="1.15" fill="none" stroke-dasharray="2.6 1.3"/>
<path d="M391.50,230.30 L391.74,230.30 L391.98,230.30 L392.22,230.30 L392.46,230.30 L392.70,230.30 L392.94,230.30 L393.18,230.30 L393.42,230.30 L393.66,230.30 L393.90,230.30 L394.14,230.30 L394.38,230.29 L394.62,230.28 L394.86,230.27 L395.10,230.24 L395.34,230.19 L395.58,230.12 L395.82,229.99 L396.06,229.80 L396.30,229.53 L396.54,229.16 L396.78,228.67 L397.02,228.05 L397.26,227.34 L397.50,226.54 L397.74,225.71 L397.98,224.91 L398.22,224.22 L398.46,223.70 L398.70,223.39 L398.94,223.34 L399.18,223.52 L399.42,223.91 L399.66,224.45 L399.90,225.07 L400.14,225.71 L400.38,226.30 L400.62,226.80 L400.86,227.20 L401.10,227.48 L401.34,227.67 L401.58,227.77 L401.82,227.83 L402.06,227.85 L402.30,227.86 L402.54,227.88 L402.78,227.90 L403.02,227.92 L403.26,227.96 L403.50,228.01 L403.74,228.05 L403.98,228.09 L404.22,228.13 L404.46,228.16 L404.70,228.18 L404.94,228.20 L405.18,228.21 L405.42,228.21 L405.66,228.22 L405.90,228.22 L406.14,228.23 L406.38,228.24 L406.62,228.26 L406.86,228.29 L407.10,228.31 L407.34,228.34 L407.58,228.37 L407.82,228.40 L408.06,228.43 L408.30,228.44 L408.54,228.44 L408.78,228.43 L409.02,228.40 L409.26,228.35 L409.50,228.27 L409.74,228.17 L409.98,228.03 L410.22,227.87 L410.46,227.66 L410.70,227.43 L410.94,227.15 L411.18,226.83 L411.42,226.47 L411.66,226.06 L411.90,225.60 L412.14,225.08 L412.38,224.49 L412.62,223.82 L412.86,223.05 L413.10,222.17 L413.34,221.16 L413.58,219.98 L413.82,218.61 L414.06,217.03 L414.30,215.21 L414.54,213.15 L414.78,210.84 L415.02,208.29 L415.26,205.54 L415.50,202.63 L415.74,199.66 L415.98,196.70 L416.22,193.86 L416.46,191.28 L416.70,189.05 L416.94,187.29 L417.18,186.09 L417.42,185.50 L417.66,185.57 L417.90,186.28 L418.14,187.60 L418.38,189.44 L418.62,191.72 L418.86,194.33 L419.10,197.15 L419.34,200.06 L419.58,202.96 L419.82,205.76 L420.06,208.40 L420.30,210.83 L420.54,213.03 L420.78,214.98 L421.02,216.69 L421.26,218.19 L421.50,219.49 L421.74,220.62 L421.98,221.60 L422.22,222.47 L422.46,223.24 L422.70,223.92 L422.94,224.54 L423.18,225.10 L423.42,225.62 L423.66,226.09 L423.90,226.53 L424.14,226.93 L424.38,227.30 L424.62,227.64 L424.86,227.95 L425.10,228.24 L425.34,228.49 L425.58,228.73 L425.82,228.94 L426.06,229.12 L426.30,229.29 L426.54,229.43 L426.78,229.56 L427.02,229.68 L427.26,229.77 L427.50,229.86 L427.74,229.93 L427.98,229.99 L428.22,230.05 L428.46,230.09 L428.70,230.13 L428.94,230.16 L429.18,230.19 L429.42,230.21 L429.66,230.23 L429.90,230.24 L430.14,230.25 L430.38,230.26 L430.62,230.27 L430.86,230.28 L431.10,230.28 L431.34,230.29 L431.58,230.29 L431.82,230.29 L432.06,230.29 L432.30,230.30 L432.54,230.30 L432.78,230.30 L433.02,230.30 L433.26,230.30 L433.50,230.30 L433.74,230.30 L433.98,230.30 L434.22,230.30 L434.46,230.30 L434.70,230.30 L434.94,230.30 L435.18,230.30 L435.42,230.30 L435.66,230.30 L435.90,230.30 L436.14,230.30 L436.38,230.30 L436.62,230.30 L436.86,230.30 L437.10,230.30 L437.34,230.30 L437.58,230.30 L437.82,230.30 L438.06,230.30 L438.30,230.30 L438.54,230.30 L438.78,230.30 L439.02,230.30 L439.26,230.30 L439.50,230.30" stroke="#2a4785" stroke-width="1.3" fill="none" stroke-linejoin="round"/>
<line x1="392.50" y1="230.50" x2="392.50" y2="231.60" stroke="#333" stroke-width="0.45"/>
<line x1="394.20" y1="230.50" x2="394.20" y2="231.60" stroke="#333" stroke-width="0.45"/>
<line x1="395.90" y1="230.50" x2="395.90" y2="231.60" stroke="#333" stroke-width="0.45"/>
<line x1="397.60" y1="230.50" x2="397.60" y2="231.60" stroke="#333" stroke-width="0.45"/>
<line x1="399.30" y1="230.50" x2="399.30" y2="231.60" stroke="#333" stroke-width="0.45"/>
<line x1="401.00" y1="230.50" x2="401.00" y2="231.60" stroke="#333" stroke-width="0.45"/>
<line x1="402.70" y1="230.50" x2="402.70" y2="231.60" stroke="#333" stroke-width="0.45"/>
<line x1="404.40" y1="230.50" x2="404.40" y2="231.60" stroke="#333" stroke-width="0.45"/>
<line x1="406.10" y1="230.50" x2="406.10" y2="231.60" stroke="#333" stroke-width="0.45"/>
<line x1="407.80" y1="230.50" x2="407.80" y2="231.60" stroke="#333" stroke-width="0.45"/>
<line x1="409.50" y1="230.50" x2="409.50" y2="231.60" stroke="#333" stroke-width="0.45"/>
<line x1="411.20" y1="230.50" x2="411.20" y2="231.60" stroke="#333" stroke-width="0.45"/>
<line x1="412.90" y1="230.50" x2="412.90" y2="231.60" stroke="#333" stroke-width="0.45"/>
<line x1="414.60" y1="230.50" x2="414.60" y2="231.60" stroke="#333" stroke-width="0.45"/>
<line x1="416.30" y1="230.50" x2="416.30" y2="231.60" stroke="#333" stroke-width="0.45"/>
<line x1="418.00" y1="230.50" x2="418.00" y2="231.60" stroke="#333" stroke-width="0.45"/>
<line x1="419.70" y1="230.50" x2="419.70" y2="231.60" stroke="#333" stroke-width="0.45"/>
<line x1="421.40" y1="230.50" x2="421.40" y2="231.60" stroke="#333" stroke-width="0.45"/>
<line x1="423.10" y1="230.50" x2="423.10" y2="231.60" stroke="#333" stroke-width="0.45"/>
<line x1="424.80" y1="230.50" x2="424.80" y2="231.60" stroke="#333" stroke-width="0.45"/>
<line x1="426.50" y1="230.50" x2="426.50" y2="231.60" stroke="#333" stroke-width="0.45"/>
<line x1="428.20" y1="230.50" x2="428.20" y2="231.60" stroke="#333" stroke-width="0.45"/>
<line x1="429.90" y1="230.50" x2="429.90" y2="231.60" stroke="#333" stroke-width="0.45"/>
<line x1="431.60" y1="230.50" x2="431.60" y2="231.60" stroke="#333" stroke-width="0.45"/>
<line x1="433.30" y1="230.50" x2="433.30" y2="231.60" stroke="#333" stroke-width="0.45"/>
<line x1="435.00" y1="230.50" x2="435.00" y2="231.60" stroke="#333" stroke-width="0.45"/>
<line x1="436.70" y1="230.50" x2="436.70" y2="231.60" stroke="#333" stroke-width="0.45"/>
<line x1="438.40" y1="230.50" x2="438.40" y2="231.60" stroke="#333" stroke-width="0.45"/>
<line x1="392.70" y1="230.50" x2="392.70" y2="232.00" stroke="#222" stroke-width="0.5"/>
<line x1="393.55" y1="230.50" x2="393.55" y2="232.00" stroke="#222" stroke-width="0.5"/>
<line x1="394.40" y1="230.50" x2="394.40" y2="232.00" stroke="#222" stroke-width="0.5"/>
<line x1="395.25" y1="230.50" x2="395.25" y2="232.00" stroke="#222" stroke-width="0.5"/>
<line x1="396.10" y1="230.50" x2="396.10" y2="232.00" stroke="#222" stroke-width="0.5"/>
<line x1="396.95" y1="230.50" x2="396.95" y2="232.00" stroke="#222" stroke-width="0.5"/>
<line x1="397.80" y1="230.50" x2="397.80" y2="232.00" stroke="#222" stroke-width="0.5"/>
<line x1="398.65" y1="230.50" x2="398.65" y2="232.00" stroke="#222" stroke-width="0.5"/>
<line x1="399.50" y1="230.50" x2="399.50" y2="232.00" stroke="#222" stroke-width="0.5"/>
<line x1="400.35" y1="230.50" x2="400.35" y2="232.00" stroke="#222" stroke-width="0.5"/>
<line x1="401.20" y1="230.50" x2="401.20" y2="232.00" stroke="#222" stroke-width="0.5"/>
<line x1="402.05" y1="230.50" x2="402.05" y2="232.00" stroke="#222" stroke-width="0.5"/>
<line x1="412.90" y1="230.50" x2="412.90" y2="232.30" stroke="#222" stroke-width="0.7"/>
<line x1="423.80" y1="230.50" x2="423.80" y2="232.30" stroke="#222" stroke-width="0.7"/>
<line x1="435.00" y1="230.50" x2="435.00" y2="232.30" stroke="#222" stroke-width="0.7"/>
<rect x="390.50" y="180.50" width="50.00" height="50.00" fill="none" stroke="#1a1a1a" stroke-width="1.1"/>
<line x1="406.70" y1="214.00" x2="436.70" y2="214.00" stroke="#777" stroke-width="0.9"/>
<line x1="406.70" y1="213.00" x2="406.70" y2="215.00" stroke="#777" stroke-width="0.7"/>
<line x1="436.70" y1="213.00" x2="436.70" y2="215.00" stroke="#777" stroke-width="0.7"/>
<text x="410.05" y="210.60" font-size="4.4" fill="#333" textLength="21.50" lengthAdjust="spacingAndGlyphs" stroke="#333" stroke-width="0.12">89.2%±5.3%</text>
<text x="395.60" y="241.20" font-size="5.3" fill="#555" textLength="2.40" lengthAdjust="spacingAndGlyphs" stroke="#555" stroke-width="0.1">0</text>
<text x="410.95" y="241.20" font-size="5.3" fill="#555" textLength="4.50" lengthAdjust="spacingAndGlyphs" stroke="#555" stroke-width="0.1">10</text>
<text x="415.60" y="238.20" font-size="3.2" fill="#555" textLength="1.20" lengthAdjust="spacingAndGlyphs" stroke="#555" stroke-width="0.05">3</text>
<text x="421.85" y="241.20" font-size="5.3" fill="#555" textLength="4.50" lengthAdjust="spacingAndGlyphs" stroke="#555" stroke-width="0.1">10</text>
<text x="426.50" y="238.20" font-size="3.2" fill="#555" textLength="1.20" lengthAdjust="spacingAndGlyphs" stroke="#555" stroke-width="0.05">4</text>
<text x="433.05" y="241.20" font-size="5.3" fill="#555" textLength="4.50" lengthAdjust="spacingAndGlyphs" stroke="#555" stroke-width="0.1">10</text>
<text x="437.70" y="238.20" font-size="3.2" fill="#555" textLength="1.20" lengthAdjust="spacingAndGlyphs" stroke="#555" stroke-width="0.05">5</text>
<line x1="460.00" y1="230.20" x2="462.50" y2="230.20" stroke="#222" stroke-width="0.8"/>
<text x="454.35" y="231.90" font-size="4.9" fill="#444" textLength="2.55" lengthAdjust="spacingAndGlyphs" stroke="#444" stroke-width="0.1">0</text>
<line x1="460.00" y1="220.64" x2="462.50" y2="220.64" stroke="#222" stroke-width="0.8"/>
<text x="451.80" y="222.34" font-size="4.9" fill="#444" textLength="5.10" lengthAdjust="spacingAndGlyphs" stroke="#444" stroke-width="0.1">20</text>
<line x1="460.00" y1="211.08" x2="462.50" y2="211.08" stroke="#222" stroke-width="0.8"/>
<text x="451.80" y="212.78" font-size="4.9" fill="#444" textLength="5.10" lengthAdjust="spacingAndGlyphs" stroke="#444" stroke-width="0.1">40</text>
<line x1="460.00" y1="201.52" x2="462.50" y2="201.52" stroke="#222" stroke-width="0.8"/>
<text x="451.80" y="203.22" font-size="4.9" fill="#444" textLength="5.10" lengthAdjust="spacingAndGlyphs" stroke="#444" stroke-width="0.1">60</text>
<line x1="460.00" y1="191.96" x2="462.50" y2="191.96" stroke="#222" stroke-width="0.8"/>
<text x="451.80" y="193.66" font-size="4.9" fill="#444" textLength="5.10" lengthAdjust="spacingAndGlyphs" stroke="#444" stroke-width="0.1">80</text>
<line x1="460.00" y1="182.40" x2="462.50" y2="182.40" stroke="#222" stroke-width="0.8"/>
<text x="449.25" y="184.10" font-size="4.9" fill="#444" textLength="7.65" lengthAdjust="spacingAndGlyphs" stroke="#444" stroke-width="0.1">100</text>
<line x1="462.50" y1="228.48" x2="463.60" y2="228.48" stroke="#222" stroke-width="0.5"/>
<line x1="462.50" y1="226.56" x2="463.60" y2="226.56" stroke="#222" stroke-width="0.5"/>
<line x1="462.50" y1="224.64" x2="463.60" y2="224.64" stroke="#222" stroke-width="0.5"/>
<line x1="462.50" y1="222.72" x2="463.60" y2="222.72" stroke="#222" stroke-width="0.5"/>
<line x1="462.50" y1="220.80" x2="463.60" y2="220.80" stroke="#222" stroke-width="0.5"/>
<line x1="462.50" y1="218.88" x2="463.60" y2="218.88" stroke="#222" stroke-width="0.5"/>
<line x1="462.50" y1="216.96" x2="463.60" y2="216.96" stroke="#222" stroke-width="0.5"/>
<line x1="462.50" y1="215.04" x2="463.60" y2="215.04" stroke="#222" stroke-width="0.5"/>
<line x1="462.50" y1="213.12" x2="463.60" y2="213.12" stroke="#222" stroke-width="0.5"/>
<line x1="462.50" y1="211.20" x2="463.60" y2="211.20" stroke="#222" stroke-width="0.5"/>
<line x1="462.50" y1="209.28" x2="463.60" y2="209.28" stroke="#222" stroke-width="0.5"/>
<line x1="462.50" y1="207.36" x2="463.60" y2="207.36" stroke="#222" stroke-width="0.5"/>
<line x1="462.50" y1="205.44" x2="463.60" y2="205.44" stroke="#222" stroke-width="0.5"/>
<line x1="462.50" y1="203.52" x2="463.60" y2="203.52" stroke="#222" stroke-width="0.5"/>
<line x1="462.50" y1="201.60" x2="463.60" y2="201.60" stroke="#222" stroke-width="0.5"/>
<line x1="462.50" y1="199.68" x2="463.60" y2="199.68" stroke="#222" stroke-width="0.5"/>
<line x1="462.50" y1="197.76" x2="463.60" y2="197.76" stroke="#222" stroke-width="0.5"/>
<line x1="462.50" y1="195.84" x2="463.60" y2="195.84" stroke="#222" stroke-width="0.5"/>
<line x1="462.50" y1="193.92" x2="463.60" y2="193.92" stroke="#222" stroke-width="0.5"/>
<line x1="462.50" y1="192.00" x2="463.60" y2="192.00" stroke="#222" stroke-width="0.5"/>
<line x1="462.50" y1="190.08" x2="463.60" y2="190.08" stroke="#222" stroke-width="0.5"/>
<line x1="462.50" y1="188.16" x2="463.60" y2="188.16" stroke="#222" stroke-width="0.5"/>
<line x1="462.50" y1="186.24" x2="463.60" y2="186.24" stroke="#222" stroke-width="0.5"/>
<line x1="462.50" y1="184.32" x2="463.60" y2="184.32" stroke="#222" stroke-width="0.5"/>
<path d="M463.50,230.20 L463.74,230.19 L463.98,230.18 L464.22,230.16 L464.46,230.12 L464.70,230.05 L464.94,229.93 L465.18,229.72 L465.42,229.37 L465.66,228.83 L465.90,228.01 L466.14,226.80 L466.38,225.11 L466.62,222.84 L466.86,219.91 L467.10,216.29 L467.34,212.04 L467.58,207.28 L467.82,202.23 L468.06,197.23 L468.30,192.62 L468.54,188.81 L468.78,186.15 L469.02,184.88 L469.26,185.13 L469.50,186.89 L469.74,189.97 L469.98,194.09 L470.22,198.87 L470.46,203.93 L470.70,208.91 L470.94,213.52 L471.18,217.57 L471.42,220.96 L471.66,223.67 L471.90,225.74 L472.14,227.25 L472.38,228.32 L472.62,229.04 L472.86,229.51 L473.10,229.80 L473.34,229.98 L473.58,230.08 L473.82,230.14 L474.06,230.17 L474.30,230.18 L474.54,230.19 L474.78,230.20 L475.02,230.20 L475.26,230.20 L475.50,230.20 L475.74,230.20 L475.98,230.20 L476.22,230.20 L476.46,230.20 L476.70,230.20 L476.94,230.20 L477.18,230.20 L477.42,230.20 L477.66,230.20 L477.90,230.20 L478.14,230.20 L478.38,230.20 L478.62,230.20 L478.86,230.20 L479.10,230.20 L479.34,230.20 L479.58,230.20 L479.82,230.20 L480.06,230.20 L480.30,230.20 L480.54,230.20 L480.78,230.20 L481.02,230.20 L481.26,230.20 L481.50,230.20 L481.74,230.20 L481.98,230.20 L482.22,230.20 L482.46,230.20 L482.70,230.20 L482.94,230.20 L483.18,230.20 L483.42,230.20 L483.66,230.20 L483.90,230.20 L484.14,230.20 L484.38,230.20 L484.62,230.20 L484.86,230.20 L485.10,230.20 L485.34,230.20 L485.58,230.20 L485.82,230.20 L486.06,230.20 L486.30,230.20 L486.54,230.20 L486.78,230.20 L487.02,230.20 L487.26,230.20 L487.50,230.20 L487.74,230.20 L487.98,230.20 L488.22,230.20 L488.46,230.20 L488.70,230.20 L488.94,230.20 L489.18,230.20 L489.42,230.20 L489.66,230.20 L489.90,230.20 L490.14,230.20 L490.38,230.20 L490.62,230.20 L490.86,230.20 L491.10,230.20 L491.34,230.20 L491.58,230.20 L491.82,230.20 L492.06,230.20 L492.30,230.20 L492.54,230.20 L492.78,230.20 L493.02,230.20 L493.26,230.20 L493.50,230.20 L493.74,230.20 L493.98,230.20 L494.22,230.20 L494.46,230.20 L494.70,230.20 L494.94,230.20 L495.18,230.20 L495.42,230.20 L495.66,230.20 L495.90,230.20 L496.14,230.20 L496.38,230.20 L496.62,230.20 L496.86,230.20 L497.10,230.20 L497.34,230.20 L497.58,230.20 L497.82,230.20 L498.06,230.20 L498.30,230.20 L498.54,230.20 L498.78,230.20 L499.02,230.20 L499.26,230.20 L499.50,230.20 L499.74,230.20 L499.98,230.20 L500.22,230.20 L500.46,230.20 L500.70,230.20 L500.94,230.20 L501.18,230.20 L501.42,230.20 L501.66,230.20 L501.90,230.20 L502.14,230.20 L502.38,230.20 L502.62,230.20 L502.86,230.20 L503.10,230.20 L503.34,230.20 L503.58,230.20 L503.82,230.20 L504.06,230.20 L504.30,230.20 L504.54,230.20 L504.78,230.20 L505.02,230.20 L505.26,230.20 L505.50,230.20 L505.74,230.20 L505.98,230.20 L506.22,230.20 L506.46,230.20 L506.70,230.20 L506.94,230.20 L507.18,230.20 L507.42,230.20 L507.66,230.20 L507.90,230.20 L508.14,230.20 L508.38,230.20 L508.62,230.20 L508.86,230.20 L509.10,230.20 L509.34,230.20 L509.58,230.20 L509.82,230.20 L510.06,230.20 L510.30,230.20 L510.54,230.20 L510.78,230.20 L511.02,230.20 L511.26,230.20 L511.50,230.20" stroke="#b30632" stroke-width="1.15" fill="none" stroke-dasharray="2.6 1.3"/>
<path d="M463.50,230.20 L463.74,230.20 L463.98,230.20 L464.22,230.20 L464.46,230.20 L464.70,230.20 L464.94,230.20 L465.18,230.19 L465.42,230.19 L465.66,230.18 L465.90,230.16 L466.14,230.14 L466.38,230.09 L466.62,230.03 L466.86,229.94 L467.10,229.81 L467.34,229.64 L467.58,229.42 L467.82,229.15 L468.06,228.83 L468.30,228.47 L468.54,228.10 L468.78,227.73 L469.02,227.39 L469.26,227.11 L469.50,226.91 L469.74,226.82 L469.98,226.84 L470.22,226.97 L470.46,227.20 L470.70,227.49 L470.94,227.83 L471.18,228.19 L471.42,228.54 L471.66,228.85 L471.90,229.12 L472.14,229.34 L472.38,229.51 L472.62,229.63 L472.86,229.70 L473.10,229.74 L473.34,229.75 L473.58,229.74 L473.82,229.72 L474.06,229.69 L474.30,229.65 L474.54,229.61 L474.78,229.56 L475.02,229.52 L475.26,229.47 L475.50,229.43 L475.74,229.39 L475.98,229.35 L476.22,229.32 L476.46,229.29 L476.70,229.27 L476.94,229.25 L477.18,229.23 L477.42,229.22 L477.66,229.21 L477.90,229.21 L478.14,229.21 L478.38,229.22 L478.62,229.22 L478.86,229.23 L479.10,229.23 L479.34,229.24 L479.58,229.24 L479.82,229.23 L480.06,229.21 L480.30,229.18 L480.54,229.14 L480.78,229.08 L481.02,229.01 L481.26,228.91 L481.50,228.78 L481.74,228.64 L481.98,228.46 L482.22,228.25 L482.46,228.00 L482.70,227.72 L482.94,227.40 L483.18,227.03 L483.42,226.63 L483.66,226.18 L483.90,225.68 L484.14,225.12 L484.38,224.50 L484.62,223.80 L484.86,223.00 L485.10,222.07 L485.34,220.98 L485.58,219.69 L485.82,218.13 L486.06,216.28 L486.30,214.08 L486.54,211.51 L486.78,208.57 L487.02,205.31 L487.26,201.80 L487.50,198.18 L487.74,194.62 L487.98,191.33 L488.22,188.52 L488.46,186.40 L488.70,185.13 L488.94,184.80 L489.18,185.45 L489.42,187.02 L489.66,189.39 L489.90,192.38 L490.14,195.79 L490.38,199.39 L490.62,202.99 L490.86,206.43 L491.10,209.60 L491.34,212.42 L491.58,214.87 L491.82,216.95 L492.06,218.71 L492.30,220.17 L492.54,221.40 L492.78,222.44 L493.02,223.33 L493.26,224.10 L493.50,224.79 L493.74,225.40 L493.98,225.95 L494.22,226.46 L494.46,226.91 L494.70,227.33 L494.94,227.70 L495.18,228.04 L495.42,228.34 L495.66,228.61 L495.90,228.85 L496.14,229.05 L496.38,229.24 L496.62,229.39 L496.86,229.53 L497.10,229.64 L497.34,229.74 L497.58,229.83 L497.82,229.90 L498.06,229.95 L498.30,230.00 L498.54,230.04 L498.78,230.07 L499.02,230.10 L499.26,230.12 L499.50,230.14 L499.74,230.15 L499.98,230.16 L500.22,230.17 L500.46,230.18 L500.70,230.18 L500.94,230.19 L501.18,230.19 L501.42,230.19 L501.66,230.19 L501.90,230.20 L502.14,230.20 L502.38,230.20 L502.62,230.20 L502.86,230.20 L503.10,230.20 L503.34,230.20 L503.58,230.20 L503.82,230.20 L504.06,230.20 L504.30,230.20 L504.54,230.20 L504.78,230.20 L505.02,230.20 L505.26,230.20 L505.50,230.20 L505.74,230.20 L505.98,230.20 L506.22,230.20 L506.46,230.20 L506.70,230.20 L506.94,230.20 L507.18,230.20 L507.42,230.20 L507.66,230.20 L507.90,230.20 L508.14,230.20 L508.38,230.20 L508.62,230.20 L508.86,230.20 L509.10,230.20 L509.34,230.20 L509.58,230.20 L509.82,230.20 L510.06,230.20 L510.30,230.20 L510.54,230.20 L510.78,230.20 L511.02,230.20 L511.26,230.20 L511.50,230.20" stroke="#2a4785" stroke-width="1.3" fill="none" stroke-linejoin="round"/>
<line x1="464.50" y1="230.40" x2="464.50" y2="231.50" stroke="#333" stroke-width="0.45"/>
<line x1="466.20" y1="230.40" x2="466.20" y2="231.50" stroke="#333" stroke-width="0.45"/>
<line x1="467.90" y1="230.40" x2="467.90" y2="231.50" stroke="#333" stroke-width="0.45"/>
<line x1="469.60" y1="230.40" x2="469.60" y2="231.50" stroke="#333" stroke-width="0.45"/>
<line x1="471.30" y1="230.40" x2="471.30" y2="231.50" stroke="#333" stroke-width="0.45"/>
<line x1="473.00" y1="230.40" x2="473.00" y2="231.50" stroke="#333" stroke-width="0.45"/>
<line x1="474.70" y1="230.40" x2="474.70" y2="231.50" stroke="#333" stroke-width="0.45"/>
<line x1="476.40" y1="230.40" x2="476.40" y2="231.50" stroke="#333" stroke-width="0.45"/>
<line x1="478.10" y1="230.40" x2="478.10" y2="231.50" stroke="#333" stroke-width="0.45"/>
<line x1="479.80" y1="230.40" x2="479.80" y2="231.50" stroke="#333" stroke-width="0.45"/>
<line x1="481.50" y1="230.40" x2="481.50" y2="231.50" stroke="#333" stroke-width="0.45"/>
<line x1="483.20" y1="230.40" x2="483.20" y2="231.50" stroke="#333" stroke-width="0.45"/>
<line x1="484.90" y1="230.40" x2="484.90" y2="231.50" stroke="#333" stroke-width="0.45"/>
<line x1="486.60" y1="230.40" x2="486.60" y2="231.50" stroke="#333" stroke-width="0.45"/>
<line x1="488.30" y1="230.40" x2="488.30" y2="231.50" stroke="#333" stroke-width="0.45"/>
<line x1="490.00" y1="230.40" x2="490.00" y2="231.50" stroke="#333" stroke-width="0.45"/>
<line x1="491.70" y1="230.40" x2="491.70" y2="231.50" stroke="#333" stroke-width="0.45"/>
<line x1="493.40" y1="230.40" x2="493.40" y2="231.50" stroke="#333" stroke-width="0.45"/>
<line x1="495.10" y1="230.40" x2="495.10" y2="231.50" stroke="#333" stroke-width="0.45"/>
<line x1="496.80" y1="230.40" x2="496.80" y2="231.50" stroke="#333" stroke-width="0.45"/>
<line x1="498.50" y1="230.40" x2="498.50" y2="231.50" stroke="#333" stroke-width="0.45"/>
<line x1="500.20" y1="230.40" x2="500.20" y2="231.50" stroke="#333" stroke-width="0.45"/>
<line x1="501.90" y1="230.40" x2="501.90" y2="231.50" stroke="#333" stroke-width="0.45"/>
<line x1="503.60" y1="230.40" x2="503.60" y2="231.50" stroke="#333" stroke-width="0.45"/>
<line x1="505.30" y1="230.40" x2="505.30" y2="231.50" stroke="#333" stroke-width="0.45"/>
<line x1="507.00" y1="230.40" x2="507.00" y2="231.50" stroke="#333" stroke-width="0.45"/>
<line x1="508.70" y1="230.40" x2="508.70" y2="231.50" stroke="#333" stroke-width="0.45"/>
<line x1="510.40" y1="230.40" x2="510.40" y2="231.50" stroke="#333" stroke-width="0.45"/>
<line x1="464.70" y1="230.40" x2="464.70" y2="231.90" stroke="#222" stroke-width="0.5"/>
<line x1="465.55" y1="230.40" x2="465.55" y2="231.90" stroke="#222" stroke-width="0.5"/>
<line x1="466.40" y1="230.40" x2="466.40" y2="231.90" stroke="#222" stroke-width="0.5"/>
<line x1="467.25" y1="230.40" x2="467.25" y2="231.90" stroke="#222" stroke-width="0.5"/>
<line x1="468.10" y1="230.40" x2="468.10" y2="231.90" stroke="#222" stroke-width="0.5"/>
<line x1="468.95" y1="230.40" x2="468.95" y2="231.90" stroke="#222" stroke-width="0.5"/>
<line x1="469.80" y1="230.40" x2="469.80" y2="231.90" stroke="#222" stroke-width="0.5"/>
<line x1="470.65" y1="230.40" x2="470.65" y2="231.90" stroke="#222" stroke-width="0.5"/>
<line x1="471.50" y1="230.40" x2="471.50" y2="231.90" stroke="#222" stroke-width="0.5"/>
<line x1="472.35" y1="230.40" x2="472.35" y2="231.90" stroke="#222" stroke-width="0.5"/>
<line x1="473.20" y1="230.40" x2="473.20" y2="231.90" stroke="#222" stroke-width="0.5"/>
<line x1="474.05" y1="230.40" x2="474.05" y2="231.90" stroke="#222" stroke-width="0.5"/>
<line x1="484.90" y1="230.40" x2="484.90" y2="232.20" stroke="#222" stroke-width="0.7"/>
<line x1="495.80" y1="230.40" x2="495.80" y2="232.20" stroke="#222" stroke-width="0.7"/>
<line x1="507.00" y1="230.40" x2="507.00" y2="232.20" stroke="#222" stroke-width="0.7"/>
<rect x="462.50" y="180.40" width="50.00" height="50.00" fill="none" stroke="#1a1a1a" stroke-width="1.1"/>
<line x1="478.70" y1="214.10" x2="508.70" y2="214.10" stroke="#777" stroke-width="0.9"/>
<line x1="478.70" y1="213.10" x2="478.70" y2="215.10" stroke="#777" stroke-width="0.7"/>
<line x1="508.70" y1="213.10" x2="508.70" y2="215.10" stroke="#777" stroke-width="0.7"/>
<text x="482.05" y="210.70" font-size="4.4" fill="#333" textLength="21.50" lengthAdjust="spacingAndGlyphs" stroke="#333" stroke-width="0.12">94.3%±3.6%</text>
<text x="467.60" y="241.00" font-size="5.3" fill="#555" textLength="2.40" lengthAdjust="spacingAndGlyphs" stroke="#555" stroke-width="0.1">0</text>
<text x="482.95" y="241.00" font-size="5.3" fill="#555" textLength="4.50" lengthAdjust="spacingAndGlyphs" stroke="#555" stroke-width="0.1">10</text>
<text x="487.60" y="238.00" font-size="3.2" fill="#555" textLength="1.20" lengthAdjust="spacingAndGlyphs" stroke="#555" stroke-width="0.05">3</text>
<text x="493.85" y="241.00" font-size="5.3" fill="#555" textLength="4.50" lengthAdjust="spacingAndGlyphs" stroke="#555" stroke-width="0.1">10</text>
<text x="498.50" y="238.00" font-size="3.2" fill="#555" textLength="1.20" lengthAdjust="spacingAndGlyphs" stroke="#555" stroke-width="0.05">4</text>
<text x="505.05" y="241.00" font-size="5.3" fill="#555" textLength="4.50" lengthAdjust="spacingAndGlyphs" stroke="#555" stroke-width="0.1">10</text>
<text x="509.70" y="238.00" font-size="3.2" fill="#555" textLength="1.20" lengthAdjust="spacingAndGlyphs" stroke="#555" stroke-width="0.05">5</text>
<line x1="388.00" y1="298.30" x2="390.50" y2="298.30" stroke="#222" stroke-width="0.8"/>
<text x="382.35" y="300.00" font-size="4.9" fill="#444" textLength="2.55" lengthAdjust="spacingAndGlyphs" stroke="#444" stroke-width="0.1">0</text>
<line x1="388.00" y1="288.74" x2="390.50" y2="288.74" stroke="#222" stroke-width="0.8"/>
<text x="379.80" y="290.44" font-size="4.9" fill="#444" textLength="5.10" lengthAdjust="spacingAndGlyphs" stroke="#444" stroke-width="0.1">20</text>
<line x1="388.00" y1="279.18" x2="390.50" y2="279.18" stroke="#222" stroke-width="0.8"/>
<text x="379.80" y="280.88" font-size="4.9" fill="#444" textLength="5.10" lengthAdjust="spacingAndGlyphs" stroke="#444" stroke-width="0.1">40</text>
<line x1="388.00" y1="269.62" x2="390.50" y2="269.62" stroke="#222" stroke-width="0.8"/>
<text x="379.80" y="271.32" font-size="4.9" fill="#444" textLength="5.10" lengthAdjust="spacingAndGlyphs" stroke="#444" stroke-width="0.1">60</text>
<line x1="388.00" y1="260.06" x2="390.50" y2="260.06" stroke="#222" stroke-width="0.8"/>
<text x="379.80" y="261.76" font-size="4.9" fill="#444" textLength="5.10" lengthAdjust="spacingAndGlyphs" stroke="#444" stroke-width="0.1">80</text>
<line x1="388.00" y1="250.50" x2="390.50" y2="250.50" stroke="#222" stroke-width="0.8"/>
<text x="377.25" y="252.20" font-size="4.9" fill="#444" textLength="7.65" lengthAdjust="spacingAndGlyphs" stroke="#444" stroke-width="0.1">100</text>
<line x1="390.50" y1="296.58" x2="391.60" y2="296.58" stroke="#222" stroke-width="0.5"/>
<line x1="390.50" y1="294.66" x2="391.60" y2="294.66" stroke="#222" stroke-width="0.5"/>
<line x1="390.50" y1="292.74" x2="391.60" y2="292.74" stroke="#222" stroke-width="0.5"/>
<line x1="390.50" y1="290.82" x2="391.60" y2="290.82" stroke="#222" stroke-width="0.5"/>
<line x1="390.50" y1="288.90" x2="391.60" y2="288.90" stroke="#222" stroke-width="0.5"/>
<line x1="390.50" y1="286.98" x2="391.60" y2="286.98" stroke="#222" stroke-width="0.5"/>
<line x1="390.50" y1="285.06" x2="391.60" y2="285.06" stroke="#222" stroke-width="0.5"/>
<line x1="390.50" y1="283.14" x2="391.60" y2="283.14" stroke="#222" stroke-width="0.5"/>
<line x1="390.50" y1="281.22" x2="391.60" y2="281.22" stroke="#222" stroke-width="0.5"/>
<line x1="390.50" y1="279.30" x2="391.60" y2="279.30" stroke="#222" stroke-width="0.5"/>
<line x1="390.50" y1="277.38" x2="391.60" y2="277.38" stroke="#222" stroke-width="0.5"/>
<line x1="390.50" y1="275.46" x2="391.60" y2="275.46" stroke="#222" stroke-width="0.5"/>
<line x1="390.50" y1="273.54" x2="391.60" y2="273.54" stroke="#222" stroke-width="0.5"/>
<line x1="390.50" y1="271.62" x2="391.60" y2="271.62" stroke="#222" stroke-width="0.5"/>
<line x1="390.50" y1="269.70" x2="391.60" y2="269.70" stroke="#222" stroke-width="0.5"/>
<line x1="390.50" y1="267.78" x2="391.60" y2="267.78" stroke="#222" stroke-width="0.5"/>
<line x1="390.50" y1="265.86" x2="391.60" y2="265.86" stroke="#222" stroke-width="0.5"/>
<line x1="390.50" y1="263.94" x2="391.60" y2="263.94" stroke="#222" stroke-width="0.5"/>
<line x1="390.50" y1="262.02" x2="391.60" y2="262.02" stroke="#222" stroke-width="0.5"/>
<line x1="390.50" y1="260.10" x2="391.60" y2="260.10" stroke="#222" stroke-width="0.5"/>
<line x1="390.50" y1="258.18" x2="391.60" y2="258.18" stroke="#222" stroke-width="0.5"/>
<line x1="390.50" y1="256.26" x2="391.60" y2="256.26" stroke="#222" stroke-width="0.5"/>
<line x1="390.50" y1="254.34" x2="391.60" y2="254.34" stroke="#222" stroke-width="0.5"/>
<line x1="390.50" y1="252.42" x2="391.60" y2="252.42" stroke="#222" stroke-width="0.5"/>
<path d="M391.50,298.29 L391.74,298.28 L391.98,298.27 L392.22,298.24 L392.46,298.19 L392.70,298.11 L392.94,297.97 L393.18,297.75 L393.42,297.41 L393.66,296.91 L393.90,296.17 L394.14,295.13 L394.38,293.72 L394.62,291.85 L394.86,289.46 L395.10,286.51 L395.34,283.01 L395.58,279.00 L395.82,274.60 L396.06,269.98 L396.30,265.37 L396.54,261.05 L396.78,257.30 L397.02,254.39 L397.26,252.55 L397.50,251.92 L397.74,251.46 L397.98,253.16 L398.22,255.91 L398.46,259.49 L398.70,263.63 L398.94,268.06 L399.18,272.49 L399.42,276.70 L399.66,280.52 L399.90,283.83 L400.14,286.59 L400.38,288.80 L400.62,290.49 L400.86,291.75 L401.10,292.64 L401.34,293.24 L401.58,293.63 L401.82,293.88 L402.06,294.02 L402.30,294.11 L402.54,294.17 L402.78,294.21 L403.02,294.26 L403.26,294.32 L403.50,294.39 L403.74,294.48 L403.98,294.58 L404.22,294.69 L404.46,294.82 L404.70,294.95 L404.94,295.10 L405.18,295.24 L405.42,295.39 L405.66,295.54 L405.90,295.69 L406.14,295.83 L406.38,295.97 L406.62,296.09 L406.86,296.21 L407.10,296.32 L407.34,296.42 L407.58,296.50 L407.82,296.58 L408.06,296.65 L408.30,296.70 L408.54,296.75 L408.78,296.79 L409.02,296.81 L409.26,296.84 L409.50,296.85 L409.74,296.86 L409.98,296.87 L410.22,296.87 L410.46,296.87 L410.70,296.86 L410.94,296.86 L411.18,296.86 L411.42,296.85 L411.66,296.85 L411.90,296.85 L412.14,296.85 L412.38,296.85 L412.62,296.85 L412.86,296.86 L413.10,296.87 L413.34,296.88 L413.58,296.89 L413.82,296.91 L414.06,296.93 L414.30,296.95 L414.54,296.98 L414.78,297.01 L415.02,297.04 L415.26,297.07 L415.50,297.10 L415.74,297.14 L415.98,297.17 L416.22,297.21 L416.46,297.25 L416.70,297.29 L416.94,297.33 L417.18,297.37 L417.42,297.42 L417.66,297.46 L417.90,297.50 L418.14,297.54 L418.38,297.58 L418.62,297.62 L418.86,297.66 L419.10,297.70 L419.34,297.74 L419.58,297.77 L419.82,297.81 L420.06,297.84 L420.30,297.88 L420.54,297.91 L420.78,297.94 L421.02,297.96 L421.26,297.99 L421.50,298.02 L421.74,298.04 L421.98,298.06 L422.22,298.08 L422.46,298.10 L422.70,298.12 L422.94,298.14 L423.18,298.15 L423.42,298.17 L423.66,298.18 L423.90,298.19 L424.14,298.20 L424.38,298.21 L424.62,298.22 L424.86,298.23 L425.10,298.24 L425.34,298.25 L425.58,298.25 L425.82,298.26 L426.06,298.26 L426.30,298.27 L426.54,298.27 L426.78,298.28 L427.02,298.28 L427.26,298.28 L427.50,298.28 L427.74,298.29 L427.98,298.29 L428.22,298.29 L428.46,298.29 L428.70,298.29 L428.94,298.29 L429.18,298.29 L429.42,298.30 L429.66,298.30 L429.90,298.30 L430.14,298.30 L430.38,298.30 L430.62,298.30 L430.86,298.30 L431.10,298.30 L431.34,298.30 L431.58,298.30 L431.82,298.30 L432.06,298.30 L432.30,298.30 L432.54,298.30 L432.78,298.30 L433.02,298.30 L433.26,298.30 L433.50,298.30 L433.74,298.30 L433.98,298.30 L434.22,298.30 L434.46,298.30 L434.70,298.30 L434.94,298.30 L435.18,298.30 L435.42,298.30 L435.66,298.30 L435.90,298.30 L436.14,298.30 L436.38,298.30 L436.62,298.30 L436.86,298.30 L437.10,298.30 L437.34,298.30 L437.58,298.30 L437.82,298.30 L438.06,298.30 L438.30,298.30 L438.54,298.30 L438.78,298.30 L439.02,298.30 L439.26,298.30 L439.50,298.30" stroke="#b30632" stroke-width="1.15" fill="none" stroke-dasharray="2.6 1.3"/>
<path d="M391.50,298.30 L391.74,298.30 L391.98,298.30 L392.22,298.30 L392.46,298.30 L392.70,298.30 L392.94,298.30 L393.18,298.30 L393.42,298.29 L393.66,298.28 L393.90,298.26 L394.14,298.21 L394.38,298.13 L394.62,297.96 L394.86,297.67 L395.10,297.18 L395.34,296.37 L395.58,295.14 L395.82,293.33 L396.06,290.81 L396.30,287.50 L396.54,283.39 L396.78,278.57 L397.02,273.32 L397.26,268.00 L397.50,263.11 L397.74,259.15 L397.98,256.57 L398.22,255.67 L398.46,256.54 L398.70,259.03 L398.94,262.79 L399.18,267.35 L399.42,272.17 L399.66,276.78 L399.90,280.82 L400.14,284.07 L400.38,286.46 L400.62,288.05 L400.86,288.98 L401.10,289.41 L401.34,289.50 L401.58,289.39 L401.82,289.18 L402.06,288.94 L402.30,288.71 L402.54,288.50 L402.78,288.33 L403.02,288.19 L403.26,288.07 L403.50,287.98 L403.74,287.91 L403.98,287.84 L404.22,287.79 L404.46,287.73 L404.70,287.68 L404.94,287.63 L405.18,287.57 L405.42,287.51 L405.66,287.45 L405.90,287.39 L406.14,287.32 L406.38,287.25 L406.62,287.17 L406.86,287.10 L407.10,287.04 L407.34,286.98 L407.58,286.92 L407.82,286.88 L408.06,286.85 L408.30,286.83 L408.54,286.82 L408.78,286.82 L409.02,286.84 L409.26,286.86 L409.50,286.90 L409.74,286.94 L409.98,286.98 L410.22,287.03 L410.46,287.07 L410.70,287.11 L410.94,287.13 L411.18,287.15 L411.42,287.16 L411.66,287.16 L411.90,287.15 L412.14,287.13 L412.38,287.10 L412.62,287.06 L412.86,287.02 L413.10,286.97 L413.34,286.93 L413.58,286.89 L413.82,286.86 L414.06,286.85 L414.30,286.84 L414.54,286.84 L414.78,286.86 L415.02,286.90 L415.26,286.95 L415.50,287.01 L415.74,287.09 L415.98,287.18 L416.22,287.28 L416.46,287.39 L416.70,287.52 L416.94,287.67 L417.18,287.83 L417.42,288.02 L417.66,288.24 L417.90,288.49 L418.14,288.78 L418.38,289.13 L418.62,289.54 L418.86,290.01 L419.10,290.54 L419.34,291.14 L419.58,291.80 L419.82,292.49 L420.06,293.20 L420.30,293.90 L420.54,294.56 L420.78,295.18 L421.02,295.73 L421.26,296.22 L421.50,296.63 L421.74,296.97 L421.98,297.25 L422.22,297.48 L422.46,297.66 L422.70,297.80 L422.94,297.91 L423.18,298.00 L423.42,298.07 L423.66,298.12 L423.90,298.16 L424.14,298.20 L424.38,298.22 L424.62,298.24 L424.86,298.25 L425.10,298.26 L425.34,298.27 L425.58,298.28 L425.82,298.28 L426.06,298.29 L426.30,298.29 L426.54,298.29 L426.78,298.29 L427.02,298.30 L427.26,298.30 L427.50,298.30 L427.74,298.30 L427.98,298.30 L428.22,298.30 L428.46,298.30 L428.70,298.30 L428.94,298.30 L429.18,298.30 L429.42,298.30 L429.66,298.30 L429.90,298.30 L430.14,298.30 L430.38,298.30 L430.62,298.30 L430.86,298.30 L431.10,298.30 L431.34,298.30 L431.58,298.30 L431.82,298.30 L432.06,298.30 L432.30,298.30 L432.54,298.30 L432.78,298.30 L433.02,298.30 L433.26,298.30 L433.50,298.30 L433.74,298.30 L433.98,298.30 L434.22,298.30 L434.46,298.30 L434.70,298.30 L434.94,298.30 L435.18,298.30 L435.42,298.30 L435.66,298.30 L435.90,298.30 L436.14,298.30 L436.38,298.30 L436.62,298.30 L436.86,298.30 L437.10,298.30 L437.34,298.30 L437.58,298.30 L437.82,298.30 L438.06,298.30 L438.30,298.30 L438.54,298.30 L438.78,298.30 L439.02,298.30 L439.26,298.30 L439.50,298.30" stroke="#2a4785" stroke-width="1.3" fill="none" stroke-linejoin="round"/>
<line x1="392.50" y1="298.50" x2="392.50" y2="299.60" stroke="#333" stroke-width="0.45"/>
<line x1="394.20" y1="298.50" x2="394.20" y2="299.60" stroke="#333" stroke-width="0.45"/>
<line x1="395.90" y1="298.50" x2="395.90" y2="299.60" stroke="#333" stroke-width="0.45"/>
<line x1="397.60" y1="298.50" x2="397.60" y2="299.60" stroke="#333" stroke-width="0.45"/>
<line x1="399.30" y1="298.50" x2="399.30" y2="299.60" stroke="#333" stroke-width="0.45"/>
<line x1="401.00" y1="298.50" x2="401.00" y2="299.60" stroke="#333" stroke-width="0.45"/>
<line x1="402.70" y1="298.50" x2="402.70" y2="299.60" stroke="#333" stroke-width="0.45"/>
<line x1="404.40" y1="298.50" x2="404.40" y2="299.60" stroke="#333" stroke-width="0.45"/>
<line x1="406.10" y1="298.50" x2="406.10" y2="299.60" stroke="#333" stroke-width="0.45"/>
<line x1="407.80" y1="298.50" x2="407.80" y2="299.60" stroke="#333" stroke-width="0.45"/>
<line x1="409.50" y1="298.50" x2="409.50" y2="299.60" stroke="#333" stroke-width="0.45"/>
<line x1="411.20" y1="298.50" x2="411.20" y2="299.60" stroke="#333" stroke-width="0.45"/>
<line x1="412.90" y1="298.50" x2="412.90" y2="299.60" stroke="#333" stroke-width="0.45"/>
<line x1="414.60" y1="298.50" x2="414.60" y2="299.60" stroke="#333" stroke-width="0.45"/>
<line x1="416.30" y1="298.50" x2="416.30" y2="299.60" stroke="#333" stroke-width="0.45"/>
<line x1="418.00" y1="298.50" x2="418.00" y2="299.60" stroke="#333" stroke-width="0.45"/>
<line x1="419.70" y1="298.50" x2="419.70" y2="299.60" stroke="#333" stroke-width="0.45"/>
<line x1="421.40" y1="298.50" x2="421.40" y2="299.60" stroke="#333" stroke-width="0.45"/>
<line x1="423.10" y1="298.50" x2="423.10" y2="299.60" stroke="#333" stroke-width="0.45"/>
<line x1="424.80" y1="298.50" x2="424.80" y2="299.60" stroke="#333" stroke-width="0.45"/>
<line x1="426.50" y1="298.50" x2="426.50" y2="299.60" stroke="#333" stroke-width="0.45"/>
<line x1="428.20" y1="298.50" x2="428.20" y2="299.60" stroke="#333" stroke-width="0.45"/>
<line x1="429.90" y1="298.50" x2="429.90" y2="299.60" stroke="#333" stroke-width="0.45"/>
<line x1="431.60" y1="298.50" x2="431.60" y2="299.60" stroke="#333" stroke-width="0.45"/>
<line x1="433.30" y1="298.50" x2="433.30" y2="299.60" stroke="#333" stroke-width="0.45"/>
<line x1="435.00" y1="298.50" x2="435.00" y2="299.60" stroke="#333" stroke-width="0.45"/>
<line x1="436.70" y1="298.50" x2="436.70" y2="299.60" stroke="#333" stroke-width="0.45"/>
<line x1="438.40" y1="298.50" x2="438.40" y2="299.60" stroke="#333" stroke-width="0.45"/>
<line x1="392.70" y1="298.50" x2="392.70" y2="300.00" stroke="#222" stroke-width="0.5"/>
<line x1="393.55" y1="298.50" x2="393.55" y2="300.00" stroke="#222" stroke-width="0.5"/>
<line x1="394.40" y1="298.50" x2="394.40" y2="300.00" stroke="#222" stroke-width="0.5"/>
<line x1="395.25" y1="298.50" x2="395.25" y2="300.00" stroke="#222" stroke-width="0.5"/>
<line x1="396.10" y1="298.50" x2="396.10" y2="300.00" stroke="#222" stroke-width="0.5"/>
<line x1="396.95" y1="298.50" x2="396.95" y2="300.00" stroke="#222" stroke-width="0.5"/>
<line x1="397.80" y1="298.50" x2="397.80" y2="300.00" stroke="#222" stroke-width="0.5"/>
<line x1="398.65" y1="298.50" x2="398.65" y2="300.00" stroke="#222" stroke-width="0.5"/>
<line x1="399.50" y1="298.50" x2="399.50" y2="300.00" stroke="#222" stroke-width="0.5"/>
<line x1="400.35" y1="298.50" x2="400.35" y2="300.00" stroke="#222" stroke-width="0.5"/>
<line x1="401.20" y1="298.50" x2="401.20" y2="300.00" stroke="#222" stroke-width="0.5"/>
<line x1="402.05" y1="298.50" x2="402.05" y2="300.00" stroke="#222" stroke-width="0.5"/>
<line x1="412.90" y1="298.50" x2="412.90" y2="300.30" stroke="#222" stroke-width="0.7"/>
<line x1="423.80" y1="298.50" x2="423.80" y2="300.30" stroke="#222" stroke-width="0.7"/>
<line x1="435.00" y1="298.50" x2="435.00" y2="300.30" stroke="#222" stroke-width="0.7"/>
<rect x="390.50" y="248.50" width="50.00" height="50.00" fill="none" stroke="#1a1a1a" stroke-width="1.1"/>
<line x1="406.70" y1="281.80" x2="436.70" y2="281.80" stroke="#777" stroke-width="0.9"/>
<line x1="406.70" y1="280.80" x2="406.70" y2="282.80" stroke="#777" stroke-width="0.7"/>
<line x1="436.70" y1="280.80" x2="436.70" y2="282.80" stroke="#777" stroke-width="0.7"/>
<text x="410.05" y="278.40" font-size="4.4" fill="#333" textLength="21.50" lengthAdjust="spacingAndGlyphs" stroke="#333" stroke-width="0.12">49.2%±10.4%</text>
<text x="395.60" y="309.20" font-size="5.3" fill="#555" textLength="2.40" lengthAdjust="spacingAndGlyphs" stroke="#555" stroke-width="0.1">0</text>
<text x="410.95" y="309.20" font-size="5.3" fill="#555" textLength="4.50" lengthAdjust="spacingAndGlyphs" stroke="#555" stroke-width="0.1">10</text>
<text x="415.60" y="306.20" font-size="3.2" fill="#555" textLength="1.20" lengthAdjust="spacingAndGlyphs" stroke="#555" stroke-width="0.05">3</text>
<text x="421.85" y="309.20" font-size="5.3" fill="#555" textLength="4.50" lengthAdjust="spacingAndGlyphs" stroke="#555" stroke-width="0.1">10</text>
<text x="426.50" y="306.20" font-size="3.2" fill="#555" textLength="1.20" lengthAdjust="spacingAndGlyphs" stroke="#555" stroke-width="0.05">4</text>
<text x="433.05" y="309.20" font-size="5.3" fill="#555" textLength="4.50" lengthAdjust="spacingAndGlyphs" stroke="#555" stroke-width="0.1">10</text>
<text x="437.70" y="306.20" font-size="3.2" fill="#555" textLength="1.20" lengthAdjust="spacingAndGlyphs" stroke="#555" stroke-width="0.05">5</text>
<line x1="460.00" y1="298.40" x2="462.50" y2="298.40" stroke="#222" stroke-width="0.8"/>
<text x="454.35" y="300.10" font-size="4.9" fill="#444" textLength="2.55" lengthAdjust="spacingAndGlyphs" stroke="#444" stroke-width="0.1">0</text>
<line x1="460.00" y1="288.84" x2="462.50" y2="288.84" stroke="#222" stroke-width="0.8"/>
<text x="451.80" y="290.54" font-size="4.9" fill="#444" textLength="5.10" lengthAdjust="spacingAndGlyphs" stroke="#444" stroke-width="0.1">20</text>
<line x1="460.00" y1="279.28" x2="462.50" y2="279.28" stroke="#222" stroke-width="0.8"/>
<text x="451.80" y="280.98" font-size="4.9" fill="#444" textLength="5.10" lengthAdjust="spacingAndGlyphs" stroke="#444" stroke-width="0.1">40</text>
<line x1="460.00" y1="269.72" x2="462.50" y2="269.72" stroke="#222" stroke-width="0.8"/>
<text x="451.80" y="271.42" font-size="4.9" fill="#444" textLength="5.10" lengthAdjust="spacingAndGlyphs" stroke="#444" stroke-width="0.1">60</text>
<line x1="460.00" y1="260.16" x2="462.50" y2="260.16" stroke="#222" stroke-width="0.8"/>
<text x="451.80" y="261.86" font-size="4.9" fill="#444" textLength="5.10" lengthAdjust="spacingAndGlyphs" stroke="#444" stroke-width="0.1">80</text>
<line x1="460.00" y1="250.60" x2="462.50" y2="250.60" stroke="#222" stroke-width="0.8"/>
<text x="449.25" y="252.30" font-size="4.9" fill="#444" textLength="7.65" lengthAdjust="spacingAndGlyphs" stroke="#444" stroke-width="0.1">100</text>
<line x1="462.50" y1="296.68" x2="463.60" y2="296.68" stroke="#222" stroke-width="0.5"/>
<line x1="462.50" y1="294.76" x2="463.60" y2="294.76" stroke="#222" stroke-width="0.5"/>
<line x1="462.50" y1="292.84" x2="463.60" y2="292.84" stroke="#222" stroke-width="0.5"/>
<line x1="462.50" y1="290.92" x2="463.60" y2="290.92" stroke="#222" stroke-width="0.5"/>
<line x1="462.50" y1="289.00" x2="463.60" y2="289.00" stroke="#222" stroke-width="0.5"/>
<line x1="462.50" y1="287.08" x2="463.60" y2="287.08" stroke="#222" stroke-width="0.5"/>
<line x1="462.50" y1="285.16" x2="463.60" y2="285.16" stroke="#222" stroke-width="0.5"/>
<line x1="462.50" y1="283.24" x2="463.60" y2="283.24" stroke="#222" stroke-width="0.5"/>
<line x1="462.50" y1="281.32" x2="463.60" y2="281.32" stroke="#222" stroke-width="0.5"/>
<line x1="462.50" y1="279.40" x2="463.60" y2="279.40" stroke="#222" stroke-width="0.5"/>
<line x1="462.50" y1="277.48" x2="463.60" y2="277.48" stroke="#222" stroke-width="0.5"/>
<line x1="462.50" y1="275.56" x2="463.60" y2="275.56" stroke="#222" stroke-width="0.5"/>
<line x1="462.50" y1="273.64" x2="463.60" y2="273.64" stroke="#222" stroke-width="0.5"/>
<line x1="462.50" y1="271.72" x2="463.60" y2="271.72" stroke="#222" stroke-width="0.5"/>
<line x1="462.50" y1="269.80" x2="463.60" y2="269.80" stroke="#222" stroke-width="0.5"/>
<line x1="462.50" y1="267.88" x2="463.60" y2="267.88" stroke="#222" stroke-width="0.5"/>
<line x1="462.50" y1="265.96" x2="463.60" y2="265.96" stroke="#222" stroke-width="0.5"/>
<line x1="462.50" y1="264.04" x2="463.60" y2="264.04" stroke="#222" stroke-width="0.5"/>
<line x1="462.50" y1="262.12" x2="463.60" y2="262.12" stroke="#222" stroke-width="0.5"/>
<line x1="462.50" y1="260.20" x2="463.60" y2="260.20" stroke="#222" stroke-width="0.5"/>
<line x1="462.50" y1="258.28" x2="463.60" y2="258.28" stroke="#222" stroke-width="0.5"/>
<line x1="462.50" y1="256.36" x2="463.60" y2="256.36" stroke="#222" stroke-width="0.5"/>
<line x1="462.50" y1="254.44" x2="463.60" y2="254.44" stroke="#222" stroke-width="0.5"/>
<line x1="462.50" y1="252.52" x2="463.60" y2="252.52" stroke="#222" stroke-width="0.5"/>
<path d="M463.50,298.39 L463.74,298.38 L463.98,298.35 L464.22,298.31 L464.46,298.23 L464.70,298.09 L464.94,297.85 L465.18,297.46 L465.42,296.85 L465.66,295.94 L465.90,294.63 L466.14,292.80 L466.38,290.37 L466.62,287.27 L466.86,283.49 L467.10,279.09 L467.34,274.23 L467.58,269.16 L467.82,264.22 L468.06,259.78 L468.30,256.23 L468.54,253.89 L468.78,253.00 L469.02,253.64 L469.26,255.75 L469.50,259.12 L469.74,263.44 L469.98,268.32 L470.22,273.39 L470.46,278.31 L470.70,282.79 L470.94,286.69 L471.18,289.90 L471.42,292.44 L471.66,294.36 L471.90,295.76 L472.14,296.73 L472.38,297.38 L472.62,297.79 L472.86,298.05 L473.10,298.21 L473.34,298.30 L473.58,298.35 L473.82,298.37 L474.06,298.39 L474.30,298.39 L474.54,298.40 L474.78,298.40 L475.02,298.40 L475.26,298.40 L475.50,298.40 L475.74,298.40 L475.98,298.40 L476.22,298.40 L476.46,298.40 L476.70,298.40 L476.94,298.40 L477.18,298.40 L477.42,298.40 L477.66,298.40 L477.90,298.40 L478.14,298.40 L478.38,298.40 L478.62,298.40 L478.86,298.40 L479.10,298.40 L479.34,298.40 L479.58,298.40 L479.82,298.40 L480.06,298.40 L480.30,298.40 L480.54,298.40 L480.78,298.40 L481.02,298.40 L481.26,298.40 L481.50,298.40 L481.74,298.40 L481.98,298.40 L482.22,298.40 L482.46,298.40 L482.70,298.40 L482.94,298.40 L483.18,298.40 L483.42,298.40 L483.66,298.40 L483.90,298.40 L484.14,298.40 L484.38,298.40 L484.62,298.40 L484.86,298.40 L485.10,298.40 L485.34,298.40 L485.58,298.40 L485.82,298.40 L486.06,298.40 L486.30,298.40 L486.54,298.40 L486.78,298.40 L487.02,298.40 L487.26,298.40 L487.50,298.40 L487.74,298.40 L487.98,298.40 L488.22,298.40 L488.46,298.40 L488.70,298.40 L488.94,298.40 L489.18,298.40 L489.42,298.40 L489.66,298.40 L489.90,298.40 L490.14,298.40 L490.38,298.40 L490.62,298.40 L490.86,298.40 L491.10,298.40 L491.34,298.40 L491.58,298.40 L491.82,298.40 L492.06,298.40 L492.30,298.40 L492.54,298.40 L492.78,298.40 L493.02,298.40 L493.26,298.40 L493.50,298.40 L493.74,298.40 L493.98,298.40 L494.22,298.40 L494.46,298.40 L494.70,298.40 L494.94,298.40 L495.18,298.40 L495.42,298.40 L495.66,298.40 L495.90,298.40 L496.14,298.40 L496.38,298.40 L496.62,298.40 L496.86,298.40 L497.10,298.40 L497.34,298.40 L497.58,298.40 L497.82,298.40 L498.06,298.40 L498.30,298.40 L498.54,298.40 L498.78,298.40 L499.02,298.40 L499.26,298.40 L499.50,298.40 L499.74,298.40 L499.98,298.40 L500.22,298.40 L500.46,298.40 L500.70,298.40 L500.94,298.40 L501.18,298.40 L501.42,298.40 L501.66,298.40 L501.90,298.40 L502.14,298.40 L502.38,298.40 L502.62,298.40 L502.86,298.40 L503.10,298.40 L503.34,298.40 L503.58,298.40 L503.82,298.40 L504.06,298.40 L504.30,298.40 L504.54,298.40 L504.78,298.40 L505.02,298.40 L505.26,298.40 L505.50,298.40 L505.74,298.40 L505.98,298.40 L506.22,298.40 L506.46,298.40 L506.70,298.40 L506.94,298.40 L507.18,298.40 L507.42,298.40 L507.66,298.40 L507.90,298.40 L508.14,298.40 L508.38,298.40 L508.62,298.40 L508.86,298.40 L509.10,298.40 L509.34,298.40 L509.58,298.40 L509.82,298.40 L510.06,298.40 L510.30,298.40 L510.54,298.40 L510.78,298.40 L511.02,298.40 L511.26,298.40 L511.50,298.40" stroke="#b30632" stroke-width="1.15" fill="none" stroke-dasharray="2.6 1.3"/>
<path d="M463.50,298.40 L463.74,298.40 L463.98,298.40 L464.22,298.40 L464.46,298.40 L464.70,298.40 L464.94,298.39 L465.18,298.39 L465.42,298.38 L465.66,298.35 L465.90,298.32 L466.14,298.26 L466.38,298.17 L466.62,298.04 L466.86,297.85 L467.10,297.59 L467.34,297.25 L467.58,296.84 L467.82,296.37 L468.06,295.85 L468.30,295.33 L468.54,294.84 L468.78,294.43 L469.02,294.15 L469.26,294.02 L469.50,294.06 L469.74,294.26 L469.98,294.60 L470.22,295.03 L470.46,295.51 L470.70,296.00 L470.94,296.45 L471.18,296.84 L471.42,297.15 L471.66,297.39 L471.90,297.55 L472.14,297.64 L472.38,297.68 L472.62,297.69 L472.86,297.66 L473.10,297.62 L473.34,297.56 L473.58,297.50 L473.82,297.43 L474.06,297.37 L474.30,297.30 L474.54,297.24 L474.78,297.18 L475.02,297.13 L475.26,297.08 L475.50,297.04 L475.74,297.01 L475.98,296.99 L476.22,296.97 L476.46,296.96 L476.70,296.96 L476.94,296.97 L477.18,296.99 L477.42,297.02 L477.66,297.05 L477.90,297.09 L478.14,297.13 L478.38,297.17 L478.62,297.21 L478.86,297.25 L479.10,297.29 L479.34,297.32 L479.58,297.34 L479.82,297.36 L480.06,297.36 L480.30,297.35 L480.54,297.34 L480.78,297.31 L481.02,297.27 L481.26,297.21 L481.50,297.16 L481.74,297.09 L481.98,297.03 L482.22,296.96 L482.46,296.90 L482.70,296.84 L482.94,296.80 L483.18,296.76 L483.42,296.73 L483.66,296.72 L483.90,296.71 L484.14,296.71 L484.38,296.72 L484.62,296.72 L484.86,296.72 L485.10,296.72 L485.34,296.69 L485.58,296.65 L485.82,296.58 L486.06,296.48 L486.30,296.34 L486.54,296.17 L486.78,295.95 L487.02,295.68 L487.26,295.37 L487.50,295.00 L487.74,294.57 L487.98,294.07 L488.22,293.48 L488.46,292.79 L488.70,291.97 L488.94,290.98 L489.18,289.79 L489.42,288.36 L489.66,286.64 L489.90,284.61 L490.14,282.25 L490.38,279.59 L490.62,276.66 L490.86,273.57 L491.10,270.44 L491.34,267.43 L491.58,264.74 L491.82,262.54 L492.06,261.00 L492.30,260.23 L492.54,260.30 L492.78,261.21 L493.02,262.87 L493.26,265.16 L493.50,267.92 L493.74,270.96 L493.98,274.09 L494.22,277.17 L494.46,280.05 L494.70,282.67 L494.94,284.98 L495.18,286.96 L495.42,288.63 L495.66,290.03 L495.90,291.19 L496.14,292.16 L496.38,292.98 L496.62,293.68 L496.86,294.28 L497.10,294.80 L497.34,295.27 L497.58,295.68 L497.82,296.05 L498.06,296.38 L498.30,296.67 L498.54,296.93 L498.78,297.15 L499.02,297.35 L499.26,297.52 L499.50,297.67 L499.74,297.80 L499.98,297.91 L500.22,298.00 L500.46,298.08 L500.70,298.14 L500.94,298.19 L501.18,298.24 L501.42,298.27 L501.66,298.30 L501.90,298.32 L502.14,298.34 L502.38,298.35 L502.62,298.36 L502.86,298.37 L503.10,298.38 L503.34,298.38 L503.58,298.39 L503.82,298.39 L504.06,298.39 L504.30,298.40 L504.54,298.40 L504.78,298.40 L505.02,298.40 L505.26,298.40 L505.50,298.40 L505.74,298.40 L505.98,298.40 L506.22,298.40 L506.46,298.40 L506.70,298.40 L506.94,298.40 L507.18,298.40 L507.42,298.40 L507.66,298.40 L507.90,298.40 L508.14,298.40 L508.38,298.40 L508.62,298.40 L508.86,298.40 L509.10,298.40 L509.34,298.40 L509.58,298.40 L509.82,298.40 L510.06,298.40 L510.30,298.40 L510.54,298.40 L510.78,298.40 L511.02,298.40 L511.26,298.40 L511.50,298.40" stroke="#2a4785" stroke-width="1.3" fill="none" stroke-linejoin="round"/>
<line x1="464.50" y1="298.60" x2="464.50" y2="299.70" stroke="#333" stroke-width="0.45"/>
<line x1="466.20" y1="298.60" x2="466.20" y2="299.70" stroke="#333" stroke-width="0.45"/>
<line x1="467.90" y1="298.60" x2="467.90" y2="299.70" stroke="#333" stroke-width="0.45"/>
<line x1="469.60" y1="298.60" x2="469.60" y2="299.70" stroke="#333" stroke-width="0.45"/>
<line x1="471.30" y1="298.60" x2="471.30" y2="299.70" stroke="#333" stroke-width="0.45"/>
<line x1="473.00" y1="298.60" x2="473.00" y2="299.70" stroke="#333" stroke-width="0.45"/>
<line x1="474.70" y1="298.60" x2="474.70" y2="299.70" stroke="#333" stroke-width="0.45"/>
<line x1="476.40" y1="298.60" x2="476.40" y2="299.70" stroke="#333" stroke-width="0.45"/>
<line x1="478.10" y1="298.60" x2="478.10" y2="299.70" stroke="#333" stroke-width="0.45"/>
<line x1="479.80" y1="298.60" x2="479.80" y2="299.70" stroke="#333" stroke-width="0.45"/>
<line x1="481.50" y1="298.60" x2="481.50" y2="299.70" stroke="#333" stroke-width="0.45"/>
<line x1="483.20" y1="298.60" x2="483.20" y2="299.70" stroke="#333" stroke-width="0.45"/>
<line x1="484.90" y1="298.60" x2="484.90" y2="299.70" stroke="#333" stroke-width="0.45"/>
<line x1="486.60" y1="298.60" x2="486.60" y2="299.70" stroke="#333" stroke-width="0.45"/>
<line x1="488.30" y1="298.60" x2="488.30" y2="299.70" stroke="#333" stroke-width="0.45"/>
<line x1="490.00" y1="298.60" x2="490.00" y2="299.70" stroke="#333" stroke-width="0.45"/>
<line x1="491.70" y1="298.60" x2="491.70" y2="299.70" stroke="#333" stroke-width="0.45"/>
<line x1="493.40" y1="298.60" x2="493.40" y2="299.70" stroke="#333" stroke-width="0.45"/>
<line x1="495.10" y1="298.60" x2="495.10" y2="299.70" stroke="#333" stroke-width="0.45"/>
<line x1="496.80" y1="298.60" x2="496.80" y2="299.70" stroke="#333" stroke-width="0.45"/>
<line x1="498.50" y1="298.60" x2="498.50" y2="299.70" stroke="#333" stroke-width="0.45"/>
<line x1="500.20" y1="298.60" x2="500.20" y2="299.70" stroke="#333" stroke-width="0.45"/>
<line x1="501.90" y1="298.60" x2="501.90" y2="299.70" stroke="#333" stroke-width="0.45"/>
<line x1="503.60" y1="298.60" x2="503.60" y2="299.70" stroke="#333" stroke-width="0.45"/>
<line x1="505.30" y1="298.60" x2="505.30" y2="299.70" stroke="#333" stroke-width="0.45"/>
<line x1="507.00" y1="298.60" x2="507.00" y2="299.70" stroke="#333" stroke-width="0.45"/>
<line x1="508.70" y1="298.60" x2="508.70" y2="299.70" stroke="#333" stroke-width="0.45"/>
<line x1="510.40" y1="298.60" x2="510.40" y2="299.70" stroke="#333" stroke-width="0.45"/>
<line x1="464.70" y1="298.60" x2="464.70" y2="300.10" stroke="#222" stroke-width="0.5"/>
<line x1="465.55" y1="298.60" x2="465.55" y2="300.10" stroke="#222" stroke-width="0.5"/>
<line x1="466.40" y1="298.60" x2="466.40" y2="300.10" stroke="#222" stroke-width="0.5"/>
<line x1="467.25" y1="298.60" x2="467.25" y2="300.10" stroke="#222" stroke-width="0.5"/>
<line x1="468.10" y1="298.60" x2="468.10" y2="300.10" stroke="#222" stroke-width="0.5"/>
<line x1="468.95" y1="298.60" x2="468.95" y2="300.10" stroke="#222" stroke-width="0.5"/>
<line x1="469.80" y1="298.60" x2="469.80" y2="300.10" stroke="#222" stroke-width="0.5"/>
<line x1="470.65" y1="298.60" x2="470.65" y2="300.10" stroke="#222" stroke-width="0.5"/>
<line x1="471.50" y1="298.60" x2="471.50" y2="300.10" stroke="#222" stroke-width="0.5"/>
<line x1="472.35" y1="298.60" x2="472.35" y2="300.10" stroke="#222" stroke-width="0.5"/>
<line x1="473.20" y1="298.60" x2="473.20" y2="300.10" stroke="#222" stroke-width="0.5"/>
<line x1="474.05" y1="298.60" x2="474.05" y2="300.10" stroke="#222" stroke-width="0.5"/>
<line x1="484.90" y1="298.60" x2="484.90" y2="300.40" stroke="#222" stroke-width="0.7"/>
<line x1="495.80" y1="298.60" x2="495.80" y2="300.40" stroke="#222" stroke-width="0.7"/>
<line x1="507.00" y1="298.60" x2="507.00" y2="300.40" stroke="#222" stroke-width="0.7"/>
<rect x="462.50" y="248.60" width="50.00" height="50.00" fill="none" stroke="#1a1a1a" stroke-width="1.1"/>
<line x1="478.70" y1="281.90" x2="508.70" y2="281.90" stroke="#777" stroke-width="0.9"/>
<line x1="478.70" y1="280.90" x2="478.70" y2="282.90" stroke="#777" stroke-width="0.7"/>
<line x1="508.70" y1="280.90" x2="508.70" y2="282.90" stroke="#777" stroke-width="0.7"/>
<text x="482.05" y="278.50" font-size="4.4" fill="#333" textLength="21.50" lengthAdjust="spacingAndGlyphs" stroke="#333" stroke-width="0.12">93.7%±2.3%</text>
<text x="467.60" y="309.20" font-size="5.3" fill="#555" textLength="2.40" lengthAdjust="spacingAndGlyphs" stroke="#555" stroke-width="0.1">0</text>
<text x="482.95" y="309.20" font-size="5.3" fill="#555" textLength="4.50" lengthAdjust="spacingAndGlyphs" stroke="#555" stroke-width="0.1">10</text>
<text x="487.60" y="306.20" font-size="3.2" fill="#555" textLength="1.20" lengthAdjust="spacingAndGlyphs" stroke="#555" stroke-width="0.05">3</text>
<text x="493.85" y="309.20" font-size="5.3" fill="#555" textLength="4.50" lengthAdjust="spacingAndGlyphs" stroke="#555" stroke-width="0.1">10</text>
<text x="498.50" y="306.20" font-size="3.2" fill="#555" textLength="1.20" lengthAdjust="spacingAndGlyphs" stroke="#555" stroke-width="0.05">4</text>
<text x="505.05" y="309.20" font-size="5.3" fill="#555" textLength="4.50" lengthAdjust="spacingAndGlyphs" stroke="#555" stroke-width="0.1">10</text>
<text x="509.70" y="306.20" font-size="3.2" fill="#555" textLength="1.20" lengthAdjust="spacingAndGlyphs" stroke="#555" stroke-width="0.05">5</text>
<defs><filter id="fb1" x="-20%" y="-20%" width="140%" height="140%"><feGaussianBlur stdDeviation="0.35"/></filter><filter id="fb2" x="-20%" y="-20%" width="140%" height="140%"><feGaussianBlur stdDeviation="0.6"/></filter><filter id="fb3" x="-30%" y="-30%" width="160%" height="160%"><feGaussianBlur stdDeviation="0.9"/></filter><filter id="fcell" x="-30%" y="-30%" width="160%" height="160%"><feGaussianBlur stdDeviation="0.45"/></filter><filter id="fsm" x="-50%" y="-50%" width="200%" height="200%"><feGaussianBlur stdDeviation="1.6"/></filter></defs>
<defs><radialGradient id="gFull" cx="0.5" cy="0.5" r="0.5"><stop offset="0" stop-color="#d80c10"/><stop offset="0.1" stop-color="#f01810"/><stop offset="0.17" stop-color="#ffa020"/><stop offset="0.25" stop-color="#f4ee30"/><stop offset="0.37" stop-color="#a8ec48"/><stop offset="0.5" stop-color="#64da5c"/><stop offset="0.66" stop-color="#5cd874"/><stop offset="0.8" stop-color="#48d4ec"/><stop offset="0.9" stop-color="#3a70f4" stop-opacity="0.7"/><stop offset="1" stop-color="#1a2cf0" stop-opacity="0"/></radialGradient><radialGradient id="gFullLow" cx="0.5" cy="0.5" r="0.5" fx="0.5" fy="0.66"><stop offset="0" stop-color="#d80c10"/><stop offset="0.12" stop-color="#f01810"/><stop offset="0.22" stop-color="#ffa020"/><stop offset="0.34" stop-color="#f4ee30"/><stop offset="0.5" stop-color="#a8ec48"/><stop offset="0.64" stop-color="#58d860"/><stop offset="0.8" stop-color="#48d4ec"/><stop offset="0.92" stop-color="#3a70f4" stop-opacity="0.7"/><stop offset="1" stop-color="#1a2cf0" stop-opacity="0"/></radialGradient><radialGradient id="gCyan" cx="0.5" cy="0.5" r="0.5"><stop offset="0" stop-color="#bff4fc"/><stop offset="0.45" stop-color="#62d2f4"/><stop offset="0.8" stop-color="#3a80f4" stop-opacity="0.6"/><stop offset="1" stop-color="#1a2cf0" stop-opacity="0"/></radialGradient><radialGradient id="gGrn" cx="0.5" cy="0.5" r="0.5"><stop offset="0" stop-color="#a8e848"/><stop offset="0.45" stop-color="#7ce058"/><stop offset="0.75" stop-color="#50d4e0" stop-opacity="0.8"/><stop offset="1" stop-color="#1a2cf0" stop-opacity="0"/></radialGradient></defs>
<text x="8.25" y="366.60" font-size="11.2" fill="#231f20" textLength="5.58" lengthAdjust="spacingAndGlyphs">F</text>
<text x="85.70" y="366.60" font-size="8.5" fill="#231f20" textLength="21.20" lengthAdjust="spacingAndGlyphs" stroke="#231f20" stroke-width="0.22">DMSO</text>
<text x="146.60" y="366.60" font-size="8.5" fill="#231f20" textLength="21.00" lengthAdjust="spacingAndGlyphs" stroke="#231f20" stroke-width="0.22">STI571</text>
<text x="9.30" y="390.90" font-size="8.2" fill="#231f20" textLength="32.80" lengthAdjust="spacingAndGlyphs" stroke="#231f20" stroke-width="0.22">Luciferase</text>
<text x="9.30" y="400.40" font-size="8.2" fill="#231f20" textLength="22.00" lengthAdjust="spacingAndGlyphs" stroke="#231f20" stroke-width="0.22">-CFU-E</text>
<text x="9.30" y="461.10" font-size="8.2" fill="#231f20" textLength="27.00" lengthAdjust="spacingAndGlyphs" stroke="#231f20" stroke-width="0.22">TET2 KD</text>
<text x="9.30" y="471.20" font-size="8.2" fill="#231f20" textLength="22.00" lengthAdjust="spacingAndGlyphs" stroke="#231f20" stroke-width="0.22">-CFU-E</text>
<g transform="translate(50.10,430.30) rotate(-90)"><text x="-21.70" y="0" font-size="9" fill="#231f20" textLength="43.40" lengthAdjust="spacingAndGlyphs" stroke="#231f20" stroke-width="0.22">α4-integrin</text></g>
<text x="106.50" y="498.60" font-size="9.2" fill="#231f20" textLength="24.70" lengthAdjust="spacingAndGlyphs" stroke="#231f20" stroke-width="0.22">Band3</text>
<path d="M55.4,371.1 V488.6 H181.7" stroke="#1a1a1a" stroke-width="1.3" fill="none"/>
<text x="61.50" y="378.50" font-size="4.6" fill="#555" textLength="4.60" lengthAdjust="spacingAndGlyphs" stroke="#555" stroke-width="0.1">10</text>
<text x="66.30" y="376.50" font-size="2.9899999999999998" fill="#555" textLength="1.30" lengthAdjust="spacingAndGlyphs" stroke="#555" stroke-width="0.05">5</text>
<rect x="71.70" y="375.80" width="2" height="2.2" fill="#111"/>
<text x="61.50" y="387.70" font-size="4.6" fill="#555" textLength="4.60" lengthAdjust="spacingAndGlyphs" stroke="#555" stroke-width="0.1">10</text>
<text x="66.30" y="385.70" font-size="2.9899999999999998" fill="#555" textLength="1.30" lengthAdjust="spacingAndGlyphs" stroke="#555" stroke-width="0.05">4</text>
<rect x="71.70" y="385.00" width="2" height="2.2" fill="#111"/>
<text x="61.50" y="397.30" font-size="4.6" fill="#555" textLength="4.60" lengthAdjust="spacingAndGlyphs" stroke="#555" stroke-width="0.1">10</text>
<text x="66.30" y="395.30" font-size="2.9899999999999998" fill="#555" textLength="1.30" lengthAdjust="spacingAndGlyphs" stroke="#555" stroke-width="0.05">3</text>
<rect x="71.70" y="394.60" width="2" height="2.2" fill="#111"/>
<text x="65.05" y="410.50" font-size="4.6" fill="#555" textLength="2.40" lengthAdjust="spacingAndGlyphs" stroke="#555" stroke-width="0.1">0</text>
<rect x="72.10" y="405.60" width="1.6" height="5" fill="#111"/>
<line x1="71.10" y1="404.10" x2="73.70" y2="404.10" stroke="#222" stroke-width="0.5"/>
<line x1="71.10" y1="405.00" x2="73.70" y2="405.00" stroke="#222" stroke-width="0.5"/>
<line x1="71.10" y1="405.90" x2="73.70" y2="405.90" stroke="#222" stroke-width="0.5"/>
<line x1="71.10" y1="406.80" x2="73.70" y2="406.80" stroke="#222" stroke-width="0.5"/>
<line x1="71.10" y1="407.70" x2="73.70" y2="407.70" stroke="#222" stroke-width="0.5"/>
<line x1="71.10" y1="408.60" x2="73.70" y2="408.60" stroke="#222" stroke-width="0.5"/>
<line x1="71.10" y1="409.50" x2="73.70" y2="409.50" stroke="#222" stroke-width="0.5"/>
<line x1="71.10" y1="410.40" x2="73.70" y2="410.40" stroke="#222" stroke-width="0.5"/>
<line x1="71.10" y1="411.30" x2="73.70" y2="411.30" stroke="#222" stroke-width="0.5"/>
<line x1="71.10" y1="412.20" x2="73.70" y2="412.20" stroke="#222" stroke-width="0.5"/>
<rect x="78.20" y="414.60" width="4" height="1.3" fill="#222"/>
<line x1="78.20" y1="414.60" x2="78.20" y2="416.80" stroke="#222" stroke-width="0.5"/>
<line x1="79.00" y1="414.60" x2="79.00" y2="416.80" stroke="#222" stroke-width="0.5"/>
<line x1="79.80" y1="414.60" x2="79.80" y2="416.80" stroke="#222" stroke-width="0.5"/>
<line x1="80.60" y1="414.60" x2="80.60" y2="416.80" stroke="#222" stroke-width="0.5"/>
<line x1="81.40" y1="414.60" x2="81.40" y2="416.80" stroke="#222" stroke-width="0.5"/>
<line x1="82.20" y1="414.60" x2="82.20" y2="416.80" stroke="#222" stroke-width="0.5"/>
<rect x="89.20" y="414.60" width="4" height="1.3" fill="#222"/>
<line x1="89.20" y1="414.60" x2="89.20" y2="416.80" stroke="#222" stroke-width="0.5"/>
<line x1="90.00" y1="414.60" x2="90.00" y2="416.80" stroke="#222" stroke-width="0.5"/>
<line x1="90.80" y1="414.60" x2="90.80" y2="416.80" stroke="#222" stroke-width="0.5"/>
<line x1="91.60" y1="414.60" x2="91.60" y2="416.80" stroke="#222" stroke-width="0.5"/>
<line x1="92.40" y1="414.60" x2="92.40" y2="416.80" stroke="#222" stroke-width="0.5"/>
<line x1="93.20" y1="414.60" x2="93.20" y2="416.80" stroke="#222" stroke-width="0.5"/>
<line x1="72.50" y1="374.10" x2="73.70" y2="374.10" stroke="#333" stroke-width="0.45"/>
<line x1="72.50" y1="375.45" x2="73.70" y2="375.45" stroke="#333" stroke-width="0.45"/>
<line x1="72.50" y1="376.80" x2="73.70" y2="376.80" stroke="#333" stroke-width="0.45"/>
<line x1="72.50" y1="378.15" x2="73.70" y2="378.15" stroke="#333" stroke-width="0.45"/>
<line x1="72.50" y1="379.50" x2="73.70" y2="379.50" stroke="#333" stroke-width="0.45"/>
<line x1="72.50" y1="380.85" x2="73.70" y2="380.85" stroke="#333" stroke-width="0.45"/>
<line x1="72.50" y1="382.20" x2="73.70" y2="382.20" stroke="#333" stroke-width="0.45"/>
<line x1="72.50" y1="383.55" x2="73.70" y2="383.55" stroke="#333" stroke-width="0.45"/>
<line x1="72.50" y1="384.90" x2="73.70" y2="384.90" stroke="#333" stroke-width="0.45"/>
<line x1="72.50" y1="386.25" x2="73.70" y2="386.25" stroke="#333" stroke-width="0.45"/>
<line x1="72.50" y1="387.60" x2="73.70" y2="387.60" stroke="#333" stroke-width="0.45"/>
<line x1="72.50" y1="388.95" x2="73.70" y2="388.95" stroke="#333" stroke-width="0.45"/>
<line x1="72.50" y1="390.30" x2="73.70" y2="390.30" stroke="#333" stroke-width="0.45"/>
<line x1="72.50" y1="391.65" x2="73.70" y2="391.65" stroke="#333" stroke-width="0.45"/>
<line x1="72.50" y1="393.00" x2="73.70" y2="393.00" stroke="#333" stroke-width="0.45"/>
<line x1="72.50" y1="394.35" x2="73.70" y2="394.35" stroke="#333" stroke-width="0.45"/>
<line x1="72.50" y1="395.70" x2="73.70" y2="395.70" stroke="#333" stroke-width="0.45"/>
<line x1="72.50" y1="397.05" x2="73.70" y2="397.05" stroke="#333" stroke-width="0.45"/>
<line x1="72.50" y1="398.40" x2="73.70" y2="398.40" stroke="#333" stroke-width="0.45"/>
<line x1="72.50" y1="399.75" x2="73.70" y2="399.75" stroke="#333" stroke-width="0.45"/>
<line x1="72.50" y1="401.10" x2="73.70" y2="401.10" stroke="#333" stroke-width="0.45"/>
<line x1="72.50" y1="402.45" x2="73.70" y2="402.45" stroke="#333" stroke-width="0.45"/>
<line x1="72.50" y1="403.80" x2="73.70" y2="403.80" stroke="#333" stroke-width="0.45"/>
<line x1="72.50" y1="405.15" x2="73.70" y2="405.15" stroke="#333" stroke-width="0.45"/>
<line x1="72.50" y1="406.50" x2="73.70" y2="406.50" stroke="#333" stroke-width="0.45"/>
<line x1="72.50" y1="407.85" x2="73.70" y2="407.85" stroke="#333" stroke-width="0.45"/>
<line x1="72.50" y1="409.20" x2="73.70" y2="409.20" stroke="#333" stroke-width="0.45"/>
<line x1="72.50" y1="410.55" x2="73.70" y2="410.55" stroke="#333" stroke-width="0.45"/>
<line x1="72.50" y1="411.90" x2="73.70" y2="411.90" stroke="#333" stroke-width="0.45"/>
<line x1="72.50" y1="413.25" x2="73.70" y2="413.25" stroke="#333" stroke-width="0.45"/>
<line x1="76.70" y1="414.60" x2="76.70" y2="415.80" stroke="#333" stroke-width="0.45"/>
<line x1="78.05" y1="414.60" x2="78.05" y2="415.80" stroke="#333" stroke-width="0.45"/>
<line x1="79.40" y1="414.60" x2="79.40" y2="415.80" stroke="#333" stroke-width="0.45"/>
<line x1="80.75" y1="414.60" x2="80.75" y2="415.80" stroke="#333" stroke-width="0.45"/>
<line x1="82.10" y1="414.60" x2="82.10" y2="415.80" stroke="#333" stroke-width="0.45"/>
<line x1="83.45" y1="414.60" x2="83.45" y2="415.80" stroke="#333" stroke-width="0.45"/>
<line x1="84.80" y1="414.60" x2="84.80" y2="415.80" stroke="#333" stroke-width="0.45"/>
<line x1="86.15" y1="414.60" x2="86.15" y2="415.80" stroke="#333" stroke-width="0.45"/>
<line x1="87.50" y1="414.60" x2="87.50" y2="415.80" stroke="#333" stroke-width="0.45"/>
<line x1="88.85" y1="414.60" x2="88.85" y2="415.80" stroke="#333" stroke-width="0.45"/>
<line x1="90.20" y1="414.60" x2="90.20" y2="415.80" stroke="#333" stroke-width="0.45"/>
<line x1="91.55" y1="414.60" x2="91.55" y2="415.80" stroke="#333" stroke-width="0.45"/>
<line x1="92.90" y1="414.60" x2="92.90" y2="415.80" stroke="#333" stroke-width="0.45"/>
<line x1="94.25" y1="414.60" x2="94.25" y2="415.80" stroke="#333" stroke-width="0.45"/>
<line x1="95.60" y1="414.60" x2="95.60" y2="415.80" stroke="#333" stroke-width="0.45"/>
<line x1="96.95" y1="414.60" x2="96.95" y2="415.80" stroke="#333" stroke-width="0.45"/>
<line x1="98.30" y1="414.60" x2="98.30" y2="415.80" stroke="#333" stroke-width="0.45"/>
<line x1="99.65" y1="414.60" x2="99.65" y2="415.80" stroke="#333" stroke-width="0.45"/>
<line x1="101.00" y1="414.60" x2="101.00" y2="415.80" stroke="#333" stroke-width="0.45"/>
<line x1="102.35" y1="414.60" x2="102.35" y2="415.80" stroke="#333" stroke-width="0.45"/>
<line x1="103.70" y1="414.60" x2="103.70" y2="415.80" stroke="#333" stroke-width="0.45"/>
<line x1="105.05" y1="414.60" x2="105.05" y2="415.80" stroke="#333" stroke-width="0.45"/>
<line x1="106.40" y1="414.60" x2="106.40" y2="415.80" stroke="#333" stroke-width="0.45"/>
<line x1="107.75" y1="414.60" x2="107.75" y2="415.80" stroke="#333" stroke-width="0.45"/>
<line x1="109.10" y1="414.60" x2="109.10" y2="415.80" stroke="#333" stroke-width="0.45"/>
<line x1="110.45" y1="414.60" x2="110.45" y2="415.80" stroke="#333" stroke-width="0.45"/>
<line x1="111.80" y1="414.60" x2="111.80" y2="415.80" stroke="#333" stroke-width="0.45"/>
<line x1="113.15" y1="414.60" x2="113.15" y2="415.80" stroke="#333" stroke-width="0.45"/>
<line x1="114.50" y1="414.60" x2="114.50" y2="415.80" stroke="#333" stroke-width="0.45"/>
<line x1="115.85" y1="414.60" x2="115.85" y2="415.80" stroke="#333" stroke-width="0.45"/>
<text x="79.30" y="424.60" font-size="4.6" fill="#555" textLength="2.40" lengthAdjust="spacingAndGlyphs" stroke="#555" stroke-width="0.1">0</text>
<text x="89.20" y="424.60" font-size="4.6" fill="#555" textLength="4.60" lengthAdjust="spacingAndGlyphs" stroke="#555" stroke-width="0.1">10</text>
<text x="93.90" y="422.50" font-size="3.0" fill="#555" textLength="1.30" lengthAdjust="spacingAndGlyphs" stroke="#555" stroke-width="0.05">3</text>
<text x="100.00" y="424.60" font-size="4.6" fill="#555" textLength="4.60" lengthAdjust="spacingAndGlyphs" stroke="#555" stroke-width="0.1">10</text>
<text x="104.70" y="422.50" font-size="3.0" fill="#555" textLength="1.30" lengthAdjust="spacingAndGlyphs" stroke="#555" stroke-width="0.05">4</text>
<text x="109.90" y="424.60" font-size="4.6" fill="#555" textLength="4.60" lengthAdjust="spacingAndGlyphs" stroke="#555" stroke-width="0.1">10</text>
<text x="114.60" y="422.50" font-size="3.0" fill="#555" textLength="1.30" lengthAdjust="spacingAndGlyphs" stroke="#555" stroke-width="0.05">5</text>
<defs><clipPath id="cb1"><path d="M90.60,394.10 C90.60,393.55 91.27,392.68 92.00,392.30 C92.73,391.92 93.67,391.90 95.00,391.80 C96.33,391.70 98.33,391.70 100.00,391.70 C101.67,391.70 103.78,391.58 105.00,391.80 C106.22,392.02 106.72,392.27 107.30,393.00 C107.88,393.73 107.85,395.40 108.50,396.20 C109.15,397.00 110.52,397.25 111.20,397.80 C111.88,398.35 112.33,398.58 112.60,399.50 C112.87,400.42 112.83,402.05 112.80,403.30 C112.77,404.55 112.67,406.08 112.40,407.00 C112.13,407.92 112.10,408.40 111.20,408.80 C110.30,409.20 108.45,409.33 107.00,409.40 C105.55,409.47 103.60,409.47 102.50,409.20 C101.40,408.93 100.90,408.78 100.40,407.80 C99.90,406.82 99.93,404.78 99.50,403.30 C99.07,401.82 98.55,400.02 97.80,398.90 C97.05,397.78 95.97,397.15 95.00,396.60 C94.03,396.05 92.73,396.02 92.00,395.60 C91.27,395.18 90.60,394.65 90.60,394.10Z"/></clipPath></defs><path d="M90.60,394.10 C90.60,393.55 91.27,392.68 92.00,392.30 C92.73,391.92 93.67,391.90 95.00,391.80 C96.33,391.70 98.33,391.70 100.00,391.70 C101.67,391.70 103.78,391.58 105.00,391.80 C106.22,392.02 106.72,392.27 107.30,393.00 C107.88,393.73 107.85,395.40 108.50,396.20 C109.15,397.00 110.52,397.25 111.20,397.80 C111.88,398.35 112.33,398.58 112.60,399.50 C112.87,400.42 112.83,402.05 112.80,403.30 C112.77,404.55 112.67,406.08 112.40,407.00 C112.13,407.92 112.10,408.40 111.20,408.80 C110.30,409.20 108.45,409.33 107.00,409.40 C105.55,409.47 103.60,409.47 102.50,409.20 C101.40,408.93 100.90,408.78 100.40,407.80 C99.90,406.82 99.93,404.78 99.50,403.30 C99.07,401.82 98.55,400.02 97.80,398.90 C97.05,397.78 95.97,397.15 95.00,396.60 C94.03,396.05 92.73,396.02 92.00,395.60 C91.27,395.18 90.60,394.65 90.60,394.10Z" fill="#1a2cf0" filter="url(#fb1)"/><g clip-path="url(#cb1)"><ellipse cx="101.8" cy="394.8" rx="4.4" ry="2.5" fill="url(#gCyan)"/><ellipse cx="106.3" cy="404.0" rx="6.6" ry="6.6" fill="url(#gFull)"/></g>
<rect x="73.70" y="371.10" width="43.70" height="43.50" fill="none" stroke="#444" stroke-width="0.9"/>
<rect x="73.70" y="383.40" width="28.70" height="8.60" fill="none" stroke="#222" stroke-width="0.8"/>
<line x1="73.70" y1="392.00" x2="102.40" y2="392.00" stroke="#222" stroke-width="1.3"/>
<line x1="86.60" y1="383.40" x2="86.60" y2="392.00" stroke="#222" stroke-width="0.8"/>
<line x1="91.40" y1="383.40" x2="91.40" y2="392.00" stroke="#222" stroke-width="0.8"/>
<path d="M96.7,392 L107.5,392 L107.5,397.9 L96.7,397.9Z" fill="none" stroke="#222" stroke-width="0.8"/>
<rect x="100.40" y="397.90" width="12.20" height="11.50" fill="none" stroke="#222" stroke-width="0.8"/>
<text x="78.20" y="382.00" font-size="4.2" fill="#555" textLength="5.60" lengthAdjust="spacingAndGlyphs" stroke="#555" stroke-width="0.05">Pro</text>
<text x="87.05" y="382.00" font-size="4.2" fill="#555" textLength="4.10" lengthAdjust="spacingAndGlyphs" stroke="#555" stroke-width="0.05">EB</text>
<text x="95.00" y="382.00" font-size="4.2" fill="#555" textLength="3.80" lengthAdjust="spacingAndGlyphs" stroke="#555" stroke-width="0.05">LB</text>
<text x="108.80" y="396.20" font-size="4.2" fill="#555" textLength="6.80" lengthAdjust="spacingAndGlyphs" stroke="#555" stroke-width="0.05">Poly</text>
<text x="114.90" y="406.30" font-size="4.2" fill="#555" textLength="8.50" lengthAdjust="spacingAndGlyphs" stroke="#555" stroke-width="0.05">Ortho</text>
<text x="125.70" y="378.60" font-size="4.6" fill="#555" textLength="4.60" lengthAdjust="spacingAndGlyphs" stroke="#555" stroke-width="0.1">10</text>
<text x="130.50" y="376.60" font-size="2.9899999999999998" fill="#555" textLength="1.30" lengthAdjust="spacingAndGlyphs" stroke="#555" stroke-width="0.05">5</text>
<rect x="135.90" y="375.90" width="2" height="2.2" fill="#111"/>
<text x="125.70" y="387.80" font-size="4.6" fill="#555" textLength="4.60" lengthAdjust="spacingAndGlyphs" stroke="#555" stroke-width="0.1">10</text>
<text x="130.50" y="385.80" font-size="2.9899999999999998" fill="#555" textLength="1.30" lengthAdjust="spacingAndGlyphs" stroke="#555" stroke-width="0.05">4</text>
<rect x="135.90" y="385.10" width="2" height="2.2" fill="#111"/>
<text x="125.70" y="397.40" font-size="4.6" fill="#555" textLength="4.60" lengthAdjust="spacingAndGlyphs" stroke="#555" stroke-width="0.1">10</text>
<text x="130.50" y="395.40" font-size="2.9899999999999998" fill="#555" textLength="1.30" lengthAdjust="spacingAndGlyphs" stroke="#555" stroke-width="0.05">3</text>
<rect x="135.90" y="394.70" width="2" height="2.2" fill="#111"/>
<text x="129.25" y="410.60" font-size="4.6" fill="#555" textLength="2.40" lengthAdjust="spacingAndGlyphs" stroke="#555" stroke-width="0.1">0</text>
<rect x="136.30" y="405.70" width="1.6" height="5" fill="#111"/>
<line x1="135.30" y1="404.20" x2="137.90" y2="404.20" stroke="#222" stroke-width="0.5"/>
<line x1="135.30" y1="405.10" x2="137.90" y2="405.10" stroke="#222" stroke-width="0.5"/>
<line x1="135.30" y1="406.00" x2="137.90" y2="406.00" stroke="#222" stroke-width="0.5"/>
<line x1="135.30" y1="406.90" x2="137.90" y2="406.90" stroke="#222" stroke-width="0.5"/>
<line x1="135.30" y1="407.80" x2="137.90" y2="407.80" stroke="#222" stroke-width="0.5"/>
<line x1="135.30" y1="408.70" x2="137.90" y2="408.70" stroke="#222" stroke-width="0.5"/>
<line x1="135.30" y1="409.60" x2="137.90" y2="409.60" stroke="#222" stroke-width="0.5"/>
<line x1="135.30" y1="410.50" x2="137.90" y2="410.50" stroke="#222" stroke-width="0.5"/>
<line x1="135.30" y1="411.40" x2="137.90" y2="411.40" stroke="#222" stroke-width="0.5"/>
<line x1="135.30" y1="412.30" x2="137.90" y2="412.30" stroke="#222" stroke-width="0.5"/>
<rect x="142.40" y="414.70" width="4" height="1.3" fill="#222"/>
<line x1="142.40" y1="414.70" x2="142.40" y2="416.90" stroke="#222" stroke-width="0.5"/>
<line x1="143.20" y1="414.70" x2="143.20" y2="416.90" stroke="#222" stroke-width="0.5"/>
<line x1="144.00" y1="414.70" x2="144.00" y2="416.90" stroke="#222" stroke-width="0.5"/>
<line x1="144.80" y1="414.70" x2="144.80" y2="416.90" stroke="#222" stroke-width="0.5"/>
<line x1="145.60" y1="414.70" x2="145.60" y2="416.90" stroke="#222" stroke-width="0.5"/>
<line x1="146.40" y1="414.70" x2="146.40" y2="416.90" stroke="#222" stroke-width="0.5"/>
<rect x="153.40" y="414.70" width="4" height="1.3" fill="#222"/>
<line x1="153.40" y1="414.70" x2="153.40" y2="416.90" stroke="#222" stroke-width="0.5"/>
<line x1="154.20" y1="414.70" x2="154.20" y2="416.90" stroke="#222" stroke-width="0.5"/>
<line x1="155.00" y1="414.70" x2="155.00" y2="416.90" stroke="#222" stroke-width="0.5"/>
<line x1="155.80" y1="414.70" x2="155.80" y2="416.90" stroke="#222" stroke-width="0.5"/>
<line x1="156.60" y1="414.70" x2="156.60" y2="416.90" stroke="#222" stroke-width="0.5"/>
<line x1="157.40" y1="414.70" x2="157.40" y2="416.90" stroke="#222" stroke-width="0.5"/>
<line x1="136.70" y1="374.20" x2="137.90" y2="374.20" stroke="#333" stroke-width="0.45"/>
<line x1="136.70" y1="375.55" x2="137.90" y2="375.55" stroke="#333" stroke-width="0.45"/>
<line x1="136.70" y1="376.90" x2="137.90" y2="376.90" stroke="#333" stroke-width="0.45"/>
<line x1="136.70" y1="378.25" x2="137.90" y2="378.25" stroke="#333" stroke-width="0.45"/>
<line x1="136.70" y1="379.60" x2="137.90" y2="379.60" stroke="#333" stroke-width="0.45"/>
<line x1="136.70" y1="380.95" x2="137.90" y2="380.95" stroke="#333" stroke-width="0.45"/>
<line x1="136.70" y1="382.30" x2="137.90" y2="382.30" stroke="#333" stroke-width="0.45"/>
<line x1="136.70" y1="383.65" x2="137.90" y2="383.65" stroke="#333" stroke-width="0.45"/>
<line x1="136.70" y1="385.00" x2="137.90" y2="385.00" stroke="#333" stroke-width="0.45"/>
<line x1="136.70" y1="386.35" x2="137.90" y2="386.35" stroke="#333" stroke-width="0.45"/>
<line x1="136.70" y1="387.70" x2="137.90" y2="387.70" stroke="#333" stroke-width="0.45"/>
<line x1="136.70" y1="389.05" x2="137.90" y2="389.05" stroke="#333" stroke-width="0.45"/>
<line x1="136.70" y1="390.40" x2="137.90" y2="390.40" stroke="#333" stroke-width="0.45"/>
<line x1="136.70" y1="391.75" x2="137.90" y2="391.75" stroke="#333" stroke-width="0.45"/>
<line x1="136.70" y1="393.10" x2="137.90" y2="393.10" stroke="#333" stroke-width="0.45"/>
<line x1="136.70" y1="394.45" x2="137.90" y2="394.45" stroke="#333" stroke-width="0.45"/>
<line x1="136.70" y1="395.80" x2="137.90" y2="395.80" stroke="#333" stroke-width="0.45"/>
<line x1="136.70" y1="397.15" x2="137.90" y2="397.15" stroke="#333" stroke-width="0.45"/>
<line x1="136.70" y1="398.50" x2="137.90" y2="398.50" stroke="#333" stroke-width="0.45"/>
<line x1="136.70" y1="399.85" x2="137.90" y2="399.85" stroke="#333" stroke-width="0.45"/>
<line x1="136.70" y1="401.20" x2="137.90" y2="401.20" stroke="#333" stroke-width="0.45"/>
<line x1="136.70" y1="402.55" x2="137.90" y2="402.55" stroke="#333" stroke-width="0.45"/>
<line x1="136.70" y1="403.90" x2="137.90" y2="403.90" stroke="#333" stroke-width="0.45"/>
<line x1="136.70" y1="405.25" x2="137.90" y2="405.25" stroke="#333" stroke-width="0.45"/>
<line x1="136.70" y1="406.60" x2="137.90" y2="406.60" stroke="#333" stroke-width="0.45"/>
<line x1="136.70" y1="407.95" x2="137.90" y2="407.95" stroke="#333" stroke-width="0.45"/>
<line x1="136.70" y1="409.30" x2="137.90" y2="409.30" stroke="#333" stroke-width="0.45"/>
<line x1="136.70" y1="410.65" x2="137.90" y2="410.65" stroke="#333" stroke-width="0.45"/>
<line x1="136.70" y1="412.00" x2="137.90" y2="412.00" stroke="#333" stroke-width="0.45"/>
<line x1="136.70" y1="413.35" x2="137.90" y2="413.35" stroke="#333" stroke-width="0.45"/>
<line x1="140.90" y1="414.70" x2="140.90" y2="415.90" stroke="#333" stroke-width="0.45"/>
<line x1="142.25" y1="414.70" x2="142.25" y2="415.90" stroke="#333" stroke-width="0.45"/>
<line x1="143.60" y1="414.70" x2="143.60" y2="415.90" stroke="#333" stroke-width="0.45"/>
<line x1="144.95" y1="414.70" x2="144.95" y2="415.90" stroke="#333" stroke-width="0.45"/>
<line x1="146.30" y1="414.70" x2="146.30" y2="415.90" stroke="#333" stroke-width="0.45"/>
<line x1="147.65" y1="414.70" x2="147.65" y2="415.90" stroke="#333" stroke-width="0.45"/>
<line x1="149.00" y1="414.70" x2="149.00" y2="415.90" stroke="#333" stroke-width="0.45"/>
<line x1="150.35" y1="414.70" x2="150.35" y2="415.90" stroke="#333" stroke-width="0.45"/>
<line x1="151.70" y1="414.70" x2="151.70" y2="415.90" stroke="#333" stroke-width="0.45"/>
<line x1="153.05" y1="414.70" x2="153.05" y2="415.90" stroke="#333" stroke-width="0.45"/>
<line x1="154.40" y1="414.70" x2="154.40" y2="415.90" stroke="#333" stroke-width="0.45"/>
<line x1="155.75" y1="414.70" x2="155.75" y2="415.90" stroke="#333" stroke-width="0.45"/>
<line x1="157.10" y1="414.70" x2="157.10" y2="415.90" stroke="#333" stroke-width="0.45"/>
<line x1="158.45" y1="414.70" x2="158.45" y2="415.90" stroke="#333" stroke-width="0.45"/>
<line x1="159.80" y1="414.70" x2="159.80" y2="415.90" stroke="#333" stroke-width="0.45"/>
<line x1="161.15" y1="414.70" x2="161.15" y2="415.90" stroke="#333" stroke-width="0.45"/>
<line x1="162.50" y1="414.70" x2="162.50" y2="415.90" stroke="#333" stroke-width="0.45"/>
<line x1="163.85" y1="414.70" x2="163.85" y2="415.90" stroke="#333" stroke-width="0.45"/>
<line x1="165.20" y1="414.70" x2="165.20" y2="415.90" stroke="#333" stroke-width="0.45"/>
<line x1="166.55" y1="414.70" x2="166.55" y2="415.90" stroke="#333" stroke-width="0.45"/>
<line x1="167.90" y1="414.70" x2="167.90" y2="415.90" stroke="#333" stroke-width="0.45"/>
<line x1="169.25" y1="414.70" x2="169.25" y2="415.90" stroke="#333" stroke-width="0.45"/>
<line x1="170.60" y1="414.70" x2="170.60" y2="415.90" stroke="#333" stroke-width="0.45"/>
<line x1="171.95" y1="414.70" x2="171.95" y2="415.90" stroke="#333" stroke-width="0.45"/>
<line x1="173.30" y1="414.70" x2="173.30" y2="415.90" stroke="#333" stroke-width="0.45"/>
<line x1="174.65" y1="414.70" x2="174.65" y2="415.90" stroke="#333" stroke-width="0.45"/>
<line x1="176.00" y1="414.70" x2="176.00" y2="415.90" stroke="#333" stroke-width="0.45"/>
<line x1="177.35" y1="414.70" x2="177.35" y2="415.90" stroke="#333" stroke-width="0.45"/>
<line x1="178.70" y1="414.70" x2="178.70" y2="415.90" stroke="#333" stroke-width="0.45"/>
<line x1="180.05" y1="414.70" x2="180.05" y2="415.90" stroke="#333" stroke-width="0.45"/>
<text x="143.50" y="424.70" font-size="4.6" fill="#555" textLength="2.40" lengthAdjust="spacingAndGlyphs" stroke="#555" stroke-width="0.1">0</text>
<text x="153.40" y="424.70" font-size="4.6" fill="#555" textLength="4.60" lengthAdjust="spacingAndGlyphs" stroke="#555" stroke-width="0.1">10</text>
<text x="158.10" y="422.60" font-size="3.0" fill="#555" textLength="1.30" lengthAdjust="spacingAndGlyphs" stroke="#555" stroke-width="0.05">3</text>
<text x="164.20" y="424.70" font-size="4.6" fill="#555" textLength="4.60" lengthAdjust="spacingAndGlyphs" stroke="#555" stroke-width="0.1">10</text>
<text x="168.90" y="422.60" font-size="3.0" fill="#555" textLength="1.30" lengthAdjust="spacingAndGlyphs" stroke="#555" stroke-width="0.05">4</text>
<text x="174.10" y="424.70" font-size="4.6" fill="#555" textLength="4.60" lengthAdjust="spacingAndGlyphs" stroke="#555" stroke-width="0.1">10</text>
<text x="178.80" y="422.60" font-size="3.0" fill="#555" textLength="1.30" lengthAdjust="spacingAndGlyphs" stroke="#555" stroke-width="0.05">5</text>
<defs><clipPath id="cb2"><path d="M157.20,395.50 C157.10,394.53 158.03,393.15 158.90,392.60 C159.77,392.05 161.22,392.13 162.40,392.20 C163.58,392.27 164.85,392.53 166.00,393.00 C167.15,393.47 168.13,394.33 169.30,395.00 C170.47,395.67 171.95,396.42 173.00,397.00 C174.05,397.58 175.00,397.83 175.60,398.50 C176.20,399.17 176.48,399.82 176.60,401.00 C176.72,402.18 176.65,404.38 176.30,405.60 C175.95,406.82 175.55,407.70 174.50,408.30 C173.45,408.90 171.42,409.18 170.00,409.20 C168.58,409.22 166.97,408.80 166.00,408.40 C165.03,408.00 164.63,407.65 164.20,406.80 C163.77,405.95 163.70,404.47 163.40,403.30 C163.10,402.13 163.05,400.62 162.40,399.80 C161.75,398.98 160.37,399.12 159.50,398.40 C158.63,397.68 157.30,396.47 157.20,395.50Z"/></clipPath></defs><path d="M157.20,395.50 C157.10,394.53 158.03,393.15 158.90,392.60 C159.77,392.05 161.22,392.13 162.40,392.20 C163.58,392.27 164.85,392.53 166.00,393.00 C167.15,393.47 168.13,394.33 169.30,395.00 C170.47,395.67 171.95,396.42 173.00,397.00 C174.05,397.58 175.00,397.83 175.60,398.50 C176.20,399.17 176.48,399.82 176.60,401.00 C176.72,402.18 176.65,404.38 176.30,405.60 C175.95,406.82 175.55,407.70 174.50,408.30 C173.45,408.90 171.42,409.18 170.00,409.20 C168.58,409.22 166.97,408.80 166.00,408.40 C165.03,408.00 164.63,407.65 164.20,406.80 C163.77,405.95 163.70,404.47 163.40,403.30 C163.10,402.13 163.05,400.62 162.40,399.80 C161.75,398.98 160.37,399.12 159.50,398.40 C158.63,397.68 157.30,396.47 157.20,395.50Z" fill="#1a2cf0" filter="url(#fb1)"/><g clip-path="url(#cb2)"><ellipse cx="166.2" cy="400.4" rx="2.6" ry="2.0" fill="url(#gCyan)"/><ellipse cx="170.4" cy="404.4" rx="7.0" ry="6.6" fill="url(#gFull)"/></g>
<rect x="137.90" y="371.20" width="43.70" height="43.50" fill="none" stroke="#444" stroke-width="0.9"/>
<rect x="137.90" y="383.30" width="28.40" height="8.90" fill="none" stroke="#222" stroke-width="0.8"/>
<line x1="137.90" y1="392.20" x2="166.30" y2="392.20" stroke="#222" stroke-width="1.3"/>
<line x1="150.40" y1="383.30" x2="150.40" y2="392.20" stroke="#222" stroke-width="0.8"/>
<line x1="151.60" y1="383.30" x2="151.60" y2="392.20" stroke="#222" stroke-width="0.8"/>
<line x1="155.40" y1="383.30" x2="155.40" y2="392.20" stroke="#222" stroke-width="0.8"/>
<line x1="156.60" y1="383.30" x2="156.60" y2="392.20" stroke="#222" stroke-width="0.8"/>
<path d="M161.2,392.3 L171.9,392.3 L171.9,398.2 L161.2,398.2Z" fill="none" stroke="#222" stroke-width="0.8"/>
<rect x="164.10" y="398.20" width="13.00" height="11.20" fill="none" stroke="#222" stroke-width="0.8"/>
<text x="61.50" y="438.50" font-size="4.6" fill="#555" textLength="4.60" lengthAdjust="spacingAndGlyphs" stroke="#555" stroke-width="0.1">10</text>
<text x="66.30" y="436.50" font-size="2.9899999999999998" fill="#555" textLength="1.30" lengthAdjust="spacingAndGlyphs" stroke="#555" stroke-width="0.05">5</text>
<rect x="71.70" y="435.80" width="2" height="2.2" fill="#111"/>
<text x="61.50" y="447.70" font-size="4.6" fill="#555" textLength="4.60" lengthAdjust="spacingAndGlyphs" stroke="#555" stroke-width="0.1">10</text>
<text x="66.30" y="445.70" font-size="2.9899999999999998" fill="#555" textLength="1.30" lengthAdjust="spacingAndGlyphs" stroke="#555" stroke-width="0.05">4</text>
<rect x="71.70" y="445.00" width="2" height="2.2" fill="#111"/>
<text x="61.50" y="457.30" font-size="4.6" fill="#555" textLength="4.60" lengthAdjust="spacingAndGlyphs" stroke="#555" stroke-width="0.1">10</text>
<text x="66.30" y="455.30" font-size="2.9899999999999998" fill="#555" textLength="1.30" lengthAdjust="spacingAndGlyphs" stroke="#555" stroke-width="0.05">3</text>
<rect x="71.70" y="454.60" width="2" height="2.2" fill="#111"/>
<text x="65.05" y="470.50" font-size="4.6" fill="#555" textLength="2.40" lengthAdjust="spacingAndGlyphs" stroke="#555" stroke-width="0.1">0</text>
<rect x="72.10" y="465.60" width="1.6" height="5" fill="#111"/>
<line x1="71.10" y1="464.10" x2="73.70" y2="464.10" stroke="#222" stroke-width="0.5"/>
<line x1="71.10" y1="465.00" x2="73.70" y2="465.00" stroke="#222" stroke-width="0.5"/>
<line x1="71.10" y1="465.90" x2="73.70" y2="465.90" stroke="#222" stroke-width="0.5"/>
<line x1="71.10" y1="466.80" x2="73.70" y2="466.80" stroke="#222" stroke-width="0.5"/>
<line x1="71.10" y1="467.70" x2="73.70" y2="467.70" stroke="#222" stroke-width="0.5"/>
<line x1="71.10" y1="468.60" x2="73.70" y2="468.60" stroke="#222" stroke-width="0.5"/>
<line x1="71.10" y1="469.50" x2="73.70" y2="469.50" stroke="#222" stroke-width="0.5"/>
<line x1="71.10" y1="470.40" x2="73.70" y2="470.40" stroke="#222" stroke-width="0.5"/>
<line x1="71.10" y1="471.30" x2="73.70" y2="471.30" stroke="#222" stroke-width="0.5"/>
<line x1="71.10" y1="472.20" x2="73.70" y2="472.20" stroke="#222" stroke-width="0.5"/>
<rect x="78.20" y="474.60" width="4" height="1.3" fill="#222"/>
<line x1="78.20" y1="474.60" x2="78.20" y2="476.80" stroke="#222" stroke-width="0.5"/>
<line x1="79.00" y1="474.60" x2="79.00" y2="476.80" stroke="#222" stroke-width="0.5"/>
<line x1="79.80" y1="474.60" x2="79.80" y2="476.80" stroke="#222" stroke-width="0.5"/>
<line x1="80.60" y1="474.60" x2="80.60" y2="476.80" stroke="#222" stroke-width="0.5"/>
<line x1="81.40" y1="474.60" x2="81.40" y2="476.80" stroke="#222" stroke-width="0.5"/>
<line x1="82.20" y1="474.60" x2="82.20" y2="476.80" stroke="#222" stroke-width="0.5"/>
<rect x="89.20" y="474.60" width="4" height="1.3" fill="#222"/>
<line x1="89.20" y1="474.60" x2="89.20" y2="476.80" stroke="#222" stroke-width="0.5"/>
<line x1="90.00" y1="474.60" x2="90.00" y2="476.80" stroke="#222" stroke-width="0.5"/>
<line x1="90.80" y1="474.60" x2="90.80" y2="476.80" stroke="#222" stroke-width="0.5"/>
<line x1="91.60" y1="474.60" x2="91.60" y2="476.80" stroke="#222" stroke-width="0.5"/>
<line x1="92.40" y1="474.60" x2="92.40" y2="476.80" stroke="#222" stroke-width="0.5"/>
<line x1="93.20" y1="474.60" x2="93.20" y2="476.80" stroke="#222" stroke-width="0.5"/>
<line x1="72.50" y1="434.10" x2="73.70" y2="434.10" stroke="#333" stroke-width="0.45"/>
<line x1="72.50" y1="435.45" x2="73.70" y2="435.45" stroke="#333" stroke-width="0.45"/>
<line x1="72.50" y1="436.80" x2="73.70" y2="436.80" stroke="#333" stroke-width="0.45"/>
<line x1="72.50" y1="438.15" x2="73.70" y2="438.15" stroke="#333" stroke-width="0.45"/>
<line x1="72.50" y1="439.50" x2="73.70" y2="439.50" stroke="#333" stroke-width="0.45"/>
<line x1="72.50" y1="440.85" x2="73.70" y2="440.85" stroke="#333" stroke-width="0.45"/>
<line x1="72.50" y1="442.20" x2="73.70" y2="442.20" stroke="#333" stroke-width="0.45"/>
<line x1="72.50" y1="443.55" x2="73.70" y2="443.55" stroke="#333" stroke-width="0.45"/>
<line x1="72.50" y1="444.90" x2="73.70" y2="444.90" stroke="#333" stroke-width="0.45"/>
<line x1="72.50" y1="446.25" x2="73.70" y2="446.25" stroke="#333" stroke-width="0.45"/>
<line x1="72.50" y1="447.60" x2="73.70" y2="447.60" stroke="#333" stroke-width="0.45"/>
<line x1="72.50" y1="448.95" x2="73.70" y2="448.95" stroke="#333" stroke-width="0.45"/>
<line x1="72.50" y1="450.30" x2="73.70" y2="450.30" stroke="#333" stroke-width="0.45"/>
<line x1="72.50" y1="451.65" x2="73.70" y2="451.65" stroke="#333" stroke-width="0.45"/>
<line x1="72.50" y1="453.00" x2="73.70" y2="453.00" stroke="#333" stroke-width="0.45"/>
<line x1="72.50" y1="454.35" x2="73.70" y2="454.35" stroke="#333" stroke-width="0.45"/>
<line x1="72.50" y1="455.70" x2="73.70" y2="455.70" stroke="#333" stroke-width="0.45"/>
<line x1="72.50" y1="457.05" x2="73.70" y2="457.05" stroke="#333" stroke-width="0.45"/>
<line x1="72.50" y1="458.40" x2="73.70" y2="458.40" stroke="#333" stroke-width="0.45"/>
<line x1="72.50" y1="459.75" x2="73.70" y2="459.75" stroke="#333" stroke-width="0.45"/>
<line x1="72.50" y1="461.10" x2="73.70" y2="461.10" stroke="#333" stroke-width="0.45"/>
<line x1="72.50" y1="462.45" x2="73.70" y2="462.45" stroke="#333" stroke-width="0.45"/>
<line x1="72.50" y1="463.80" x2="73.70" y2="463.80" stroke="#333" stroke-width="0.45"/>
<line x1="72.50" y1="465.15" x2="73.70" y2="465.15" stroke="#333" stroke-width="0.45"/>
<line x1="72.50" y1="466.50" x2="73.70" y2="466.50" stroke="#333" stroke-width="0.45"/>
<line x1="72.50" y1="467.85" x2="73.70" y2="467.85" stroke="#333" stroke-width="0.45"/>
<line x1="72.50" y1="469.20" x2="73.70" y2="469.20" stroke="#333" stroke-width="0.45"/>
<line x1="72.50" y1="470.55" x2="73.70" y2="470.55" stroke="#333" stroke-width="0.45"/>
<line x1="72.50" y1="471.90" x2="73.70" y2="471.90" stroke="#333" stroke-width="0.45"/>
<line x1="72.50" y1="473.25" x2="73.70" y2="473.25" stroke="#333" stroke-width="0.45"/>
<line x1="76.70" y1="474.60" x2="76.70" y2="475.80" stroke="#333" stroke-width="0.45"/>
<line x1="78.05" y1="474.60" x2="78.05" y2="475.80" stroke="#333" stroke-width="0.45"/>
<line x1="79.40" y1="474.60" x2="79.40" y2="475.80" stroke="#333" stroke-width="0.45"/>
<line x1="80.75" y1="474.60" x2="80.75" y2="475.80" stroke="#333" stroke-width="0.45"/>
<line x1="82.10" y1="474.60" x2="82.10" y2="475.80" stroke="#333" stroke-width="0.45"/>
<line x1="83.45" y1="474.60" x2="83.45" y2="475.80" stroke="#333" stroke-width="0.45"/>
<line x1="84.80" y1="474.60" x2="84.80" y2="475.80" stroke="#333" stroke-width="0.45"/>
<line x1="86.15" y1="474.60" x2="86.15" y2="475.80" stroke="#333" stroke-width="0.45"/>
<line x1="87.50" y1="474.60" x2="87.50" y2="475.80" stroke="#333" stroke-width="0.45"/>
<line x1="88.85" y1="474.60" x2="88.85" y2="475.80" stroke="#333" stroke-width="0.45"/>
<line x1="90.20" y1="474.60" x2="90.20" y2="475.80" stroke="#333" stroke-width="0.45"/>
<line x1="91.55" y1="474.60" x2="91.55" y2="475.80" stroke="#333" stroke-width="0.45"/>
<line x1="92.90" y1="474.60" x2="92.90" y2="475.80" stroke="#333" stroke-width="0.45"/>
<line x1="94.25" y1="474.60" x2="94.25" y2="475.80" stroke="#333" stroke-width="0.45"/>
<line x1="95.60" y1="474.60" x2="95.60" y2="475.80" stroke="#333" stroke-width="0.45"/>
<line x1="96.95" y1="474.60" x2="96.95" y2="475.80" stroke="#333" stroke-width="0.45"/>
<line x1="98.30" y1="474.60" x2="98.30" y2="475.80" stroke="#333" stroke-width="0.45"/>
<line x1="99.65" y1="474.60" x2="99.65" y2="475.80" stroke="#333" stroke-width="0.45"/>
<line x1="101.00" y1="474.60" x2="101.00" y2="475.80" stroke="#333" stroke-width="0.45"/>
<line x1="102.35" y1="474.60" x2="102.35" y2="475.80" stroke="#333" stroke-width="0.45"/>
<line x1="103.70" y1="474.60" x2="103.70" y2="475.80" stroke="#333" stroke-width="0.45"/>
<line x1="105.05" y1="474.60" x2="105.05" y2="475.80" stroke="#333" stroke-width="0.45"/>
<line x1="106.40" y1="474.60" x2="106.40" y2="475.80" stroke="#333" stroke-width="0.45"/>
<line x1="107.75" y1="474.60" x2="107.75" y2="475.80" stroke="#333" stroke-width="0.45"/>
<line x1="109.10" y1="474.60" x2="109.10" y2="475.80" stroke="#333" stroke-width="0.45"/>
<line x1="110.45" y1="474.60" x2="110.45" y2="475.80" stroke="#333" stroke-width="0.45"/>
<line x1="111.80" y1="474.60" x2="111.80" y2="475.80" stroke="#333" stroke-width="0.45"/>
<line x1="113.15" y1="474.60" x2="113.15" y2="475.80" stroke="#333" stroke-width="0.45"/>
<line x1="114.50" y1="474.60" x2="114.50" y2="475.80" stroke="#333" stroke-width="0.45"/>
<line x1="115.85" y1="474.60" x2="115.85" y2="475.80" stroke="#333" stroke-width="0.45"/>
<text x="79.30" y="484.60" font-size="4.6" fill="#555" textLength="2.40" lengthAdjust="spacingAndGlyphs" stroke="#555" stroke-width="0.1">0</text>
<text x="89.20" y="484.60" font-size="4.6" fill="#555" textLength="4.60" lengthAdjust="spacingAndGlyphs" stroke="#555" stroke-width="0.1">10</text>
<text x="93.90" y="482.50" font-size="3.0" fill="#555" textLength="1.30" lengthAdjust="spacingAndGlyphs" stroke="#555" stroke-width="0.05">3</text>
<text x="100.00" y="484.60" font-size="4.6" fill="#555" textLength="4.60" lengthAdjust="spacingAndGlyphs" stroke="#555" stroke-width="0.1">10</text>
<text x="104.70" y="482.50" font-size="3.0" fill="#555" textLength="1.30" lengthAdjust="spacingAndGlyphs" stroke="#555" stroke-width="0.05">4</text>
<text x="109.90" y="484.60" font-size="4.6" fill="#555" textLength="4.60" lengthAdjust="spacingAndGlyphs" stroke="#555" stroke-width="0.1">10</text>
<text x="114.60" y="482.50" font-size="3.0" fill="#555" textLength="1.30" lengthAdjust="spacingAndGlyphs" stroke="#555" stroke-width="0.05">5</text>
<defs><clipPath id="cb3"><path d="M81.50,453.40 C81.30,452.30 82.03,451.02 82.60,450.20 C83.17,449.38 83.50,448.82 84.90,448.50 C86.30,448.18 88.68,448.15 91.00,448.30 C93.32,448.45 96.88,448.87 98.80,449.40 C100.72,449.93 101.50,450.73 102.50,451.50 C103.50,452.27 103.97,452.92 104.80,454.00 C105.63,455.08 106.87,456.75 107.50,458.00 C108.13,459.25 108.48,460.25 108.60,461.50 C108.72,462.75 108.60,464.42 108.20,465.50 C107.80,466.58 106.93,467.52 106.20,468.00 C105.47,468.48 104.67,468.70 103.80,468.40 C102.93,468.10 101.93,466.93 101.00,466.20 C100.07,465.47 98.95,464.45 98.20,464.00 C97.45,463.55 97.00,463.23 96.50,463.50 C96.00,463.77 95.65,465.13 95.20,465.60 C94.75,466.07 94.23,466.48 93.80,466.30 C93.37,466.12 92.87,465.30 92.60,464.50 C92.33,463.70 92.60,462.32 92.20,461.50 C91.80,460.68 91.07,460.12 90.20,459.60 C89.33,459.08 88.07,458.87 87.00,458.40 C85.93,457.93 84.72,457.63 83.80,456.80 C82.88,455.97 81.70,454.50 81.50,453.40Z"/></clipPath></defs><path d="M81.50,453.40 C81.30,452.30 82.03,451.02 82.60,450.20 C83.17,449.38 83.50,448.82 84.90,448.50 C86.30,448.18 88.68,448.15 91.00,448.30 C93.32,448.45 96.88,448.87 98.80,449.40 C100.72,449.93 101.50,450.73 102.50,451.50 C103.50,452.27 103.97,452.92 104.80,454.00 C105.63,455.08 106.87,456.75 107.50,458.00 C108.13,459.25 108.48,460.25 108.60,461.50 C108.72,462.75 108.60,464.42 108.20,465.50 C107.80,466.58 106.93,467.52 106.20,468.00 C105.47,468.48 104.67,468.70 103.80,468.40 C102.93,468.10 101.93,466.93 101.00,466.20 C100.07,465.47 98.95,464.45 98.20,464.00 C97.45,463.55 97.00,463.23 96.50,463.50 C96.00,463.77 95.65,465.13 95.20,465.60 C94.75,466.07 94.23,466.48 93.80,466.30 C93.37,466.12 92.87,465.30 92.60,464.50 C92.33,463.70 92.60,462.32 92.20,461.50 C91.80,460.68 91.07,460.12 90.20,459.60 C89.33,459.08 88.07,458.87 87.00,458.40 C85.93,457.93 84.72,457.63 83.80,456.80 C82.88,455.97 81.70,454.50 81.50,453.40Z" fill="#1a2cf0" filter="url(#fb1)"/><g clip-path="url(#cb3)"><path d="M83.00,453.30 C82.90,452.40 83.50,451.22 84.00,450.60 C84.50,449.98 84.83,449.80 86.00,449.60 C87.17,449.40 88.92,449.25 91.00,449.40 C93.08,449.55 96.70,450.02 98.50,450.50 C100.30,450.98 100.88,451.55 101.80,452.30 C102.72,453.05 103.22,453.88 104.00,455.00 C104.78,456.12 105.95,457.83 106.50,459.00 C107.05,460.17 107.23,460.97 107.30,462.00 C107.37,463.03 107.20,464.38 106.90,465.20 C106.60,466.02 106.05,466.60 105.50,466.90 C104.95,467.20 104.27,467.28 103.60,467.00 C102.93,466.72 102.35,465.93 101.50,465.20 C100.65,464.47 99.50,463.33 98.50,462.60 C97.50,461.87 96.58,461.40 95.50,460.80 C94.42,460.20 93.25,459.53 92.00,459.00 C90.75,458.47 89.23,458.10 88.00,457.60 C86.77,457.10 85.43,456.72 84.60,456.00 C83.77,455.28 83.10,454.20 83.00,453.30Z" fill="#48d0ec" filter="url(#fb1)"/><path d="M84.00,453.20 C84.03,452.50 84.50,451.67 85.00,451.20 C85.50,450.73 85.83,450.53 87.00,450.40 C88.17,450.27 90.17,450.23 92.00,450.40 C93.83,450.57 96.47,450.93 98.00,451.40 C99.53,451.87 100.33,452.50 101.20,453.20 C102.07,453.90 102.50,454.57 103.20,455.60 C103.90,456.63 104.88,458.30 105.40,459.40 C105.92,460.50 106.22,461.30 106.30,462.20 C106.38,463.10 106.18,464.20 105.90,464.80 C105.62,465.40 105.08,465.70 104.60,465.80 C104.12,465.90 103.60,465.83 103.00,465.40 C102.40,464.97 101.83,463.93 101.00,463.20 C100.17,462.47 99.08,461.67 98.00,461.00 C96.92,460.33 95.75,459.73 94.50,459.20 C93.25,458.67 91.83,458.23 90.50,457.80 C89.17,457.37 87.45,457.00 86.50,456.60 C85.55,456.20 85.22,455.97 84.80,455.40 C84.38,454.83 83.97,453.90 84.00,453.20Z" fill="#60d858" filter="url(#fb1)"/><path d="M100.00,456.20 C100.40,455.97 101.33,456.37 102.00,457.00 C102.67,457.63 103.57,459.03 104.00,460.00 C104.43,460.97 104.67,462.23 104.60,462.80 C104.53,463.37 104.07,463.63 103.60,463.40 C103.13,463.17 102.47,462.23 101.80,461.40 C101.13,460.57 99.90,459.27 99.60,458.40 C99.30,457.53 99.60,456.43 100.00,456.20Z" fill="#b4ea48" filter="url(#fb2)"/><path d="M85.00,453.00 C85.15,452.53 85.67,451.87 86.50,451.60 C87.33,451.33 88.58,451.30 90.00,451.40 C91.42,451.50 93.50,451.83 95.00,452.20 C96.50,452.57 98.03,453.10 99.00,453.60 C99.97,454.10 100.55,454.73 100.80,455.20 C101.05,455.67 101.13,456.27 100.50,456.40 C99.87,456.53 98.42,456.17 97.00,456.00 C95.58,455.83 93.58,455.57 92.00,455.40 C90.42,455.23 88.57,455.17 87.50,455.00 C86.43,454.83 86.02,454.73 85.60,454.40 C85.18,454.07 84.85,453.47 85.00,453.00Z" fill="#f2ea34" filter="url(#fb2)"/><ellipse cx="89.0" cy="453.4" rx="4.0" ry="1.9" fill="#ff9a20" filter="url(#fb2)"/><ellipse cx="88.7" cy="453.4" rx="2.9" ry="1.3" fill="#e01410" filter="url(#fb1)"/></g>
<rect x="73.70" y="431.10" width="43.70" height="43.50" fill="none" stroke="#444" stroke-width="0.9"/>
<rect x="73.70" y="447.70" width="28.20" height="8.60" fill="none" stroke="#222" stroke-width="0.8"/>
<line x1="73.70" y1="456.30" x2="101.90" y2="456.30" stroke="#222" stroke-width="1.3"/>
<line x1="85.40" y1="447.70" x2="85.40" y2="456.30" stroke="#222" stroke-width="0.8"/>
<line x1="90.80" y1="447.70" x2="90.80" y2="456.30" stroke="#222" stroke-width="0.8"/>
<path d="M96.4,456.3 L107.1,456.3 L107.1,462.4 L96.4,462.4Z" fill="none" stroke="#222" stroke-width="0.8"/>
<rect x="99.50" y="462.40" width="12.40" height="9.90" fill="none" stroke="#222" stroke-width="0.8"/>
<text x="125.70" y="438.50" font-size="4.6" fill="#555" textLength="4.60" lengthAdjust="spacingAndGlyphs" stroke="#555" stroke-width="0.1">10</text>
<text x="130.50" y="436.50" font-size="2.9899999999999998" fill="#555" textLength="1.30" lengthAdjust="spacingAndGlyphs" stroke="#555" stroke-width="0.05">5</text>
<rect x="135.90" y="435.80" width="2" height="2.2" fill="#111"/>
<text x="125.70" y="447.70" font-size="4.6" fill="#555" textLength="4.60" lengthAdjust="spacingAndGlyphs" stroke="#555" stroke-width="0.1">10</text>
<text x="130.50" y="445.70" font-size="2.9899999999999998" fill="#555" textLength="1.30" lengthAdjust="spacingAndGlyphs" stroke="#555" stroke-width="0.05">4</text>
<rect x="135.90" y="445.00" width="2" height="2.2" fill="#111"/>
<text x="125.70" y="457.30" font-size="4.6" fill="#555" textLength="4.60" lengthAdjust="spacingAndGlyphs" stroke="#555" stroke-width="0.1">10</text>
<text x="130.50" y="455.30" font-size="2.9899999999999998" fill="#555" textLength="1.30" lengthAdjust="spacingAndGlyphs" stroke="#555" stroke-width="0.05">3</text>
<rect x="135.90" y="454.60" width="2" height="2.2" fill="#111"/>
<text x="129.25" y="470.50" font-size="4.6" fill="#555" textLength="2.40" lengthAdjust="spacingAndGlyphs" stroke="#555" stroke-width="0.1">0</text>
<rect x="136.30" y="465.60" width="1.6" height="5" fill="#111"/>
<line x1="135.30" y1="464.10" x2="137.90" y2="464.10" stroke="#222" stroke-width="0.5"/>
<line x1="135.30" y1="465.00" x2="137.90" y2="465.00" stroke="#222" stroke-width="0.5"/>
<line x1="135.30" y1="465.90" x2="137.90" y2="465.90" stroke="#222" stroke-width="0.5"/>
<line x1="135.30" y1="466.80" x2="137.90" y2="466.80" stroke="#222" stroke-width="0.5"/>
<line x1="135.30" y1="467.70" x2="137.90" y2="467.70" stroke="#222" stroke-width="0.5"/>
<line x1="135.30" y1="468.60" x2="137.90" y2="468.60" stroke="#222" stroke-width="0.5"/>
<line x1="135.30" y1="469.50" x2="137.90" y2="469.50" stroke="#222" stroke-width="0.5"/>
<line x1="135.30" y1="470.40" x2="137.90" y2="470.40" stroke="#222" stroke-width="0.5"/>
<line x1="135.30" y1="471.30" x2="137.90" y2="471.30" stroke="#222" stroke-width="0.5"/>
<line x1="135.30" y1="472.20" x2="137.90" y2="472.20" stroke="#222" stroke-width="0.5"/>
<rect x="142.40" y="474.60" width="4" height="1.3" fill="#222"/>
<line x1="142.40" y1="474.60" x2="142.40" y2="476.80" stroke="#222" stroke-width="0.5"/>
<line x1="143.20" y1="474.60" x2="143.20" y2="476.80" stroke="#222" stroke-width="0.5"/>
<line x1="144.00" y1="474.60" x2="144.00" y2="476.80" stroke="#222" stroke-width="0.5"/>
<line x1="144.80" y1="474.60" x2="144.80" y2="476.80" stroke="#222" stroke-width="0.5"/>
<line x1="145.60" y1="474.60" x2="145.60" y2="476.80" stroke="#222" stroke-width="0.5"/>
<line x1="146.40" y1="474.60" x2="146.40" y2="476.80" stroke="#222" stroke-width="0.5"/>
<rect x="153.40" y="474.60" width="4" height="1.3" fill="#222"/>
<line x1="153.40" y1="474.60" x2="153.40" y2="476.80" stroke="#222" stroke-width="0.5"/>
<line x1="154.20" y1="474.60" x2="154.20" y2="476.80" stroke="#222" stroke-width="0.5"/>
<line x1="155.00" y1="474.60" x2="155.00" y2="476.80" stroke="#222" stroke-width="0.5"/>
<line x1="155.80" y1="474.60" x2="155.80" y2="476.80" stroke="#222" stroke-width="0.5"/>
<line x1="156.60" y1="474.60" x2="156.60" y2="476.80" stroke="#222" stroke-width="0.5"/>
<line x1="157.40" y1="474.60" x2="157.40" y2="476.80" stroke="#222" stroke-width="0.5"/>
<line x1="136.70" y1="434.10" x2="137.90" y2="434.10" stroke="#333" stroke-width="0.45"/>
<line x1="136.70" y1="435.45" x2="137.90" y2="435.45" stroke="#333" stroke-width="0.45"/>
<line x1="136.70" y1="436.80" x2="137.90" y2="436.80" stroke="#333" stroke-width="0.45"/>
<line x1="136.70" y1="438.15" x2="137.90" y2="438.15" stroke="#333" stroke-width="0.45"/>
<line x1="136.70" y1="439.50" x2="137.90" y2="439.50" stroke="#333" stroke-width="0.45"/>
<line x1="136.70" y1="440.85" x2="137.90" y2="440.85" stroke="#333" stroke-width="0.45"/>
<line x1="136.70" y1="442.20" x2="137.90" y2="442.20" stroke="#333" stroke-width="0.45"/>
<line x1="136.70" y1="443.55" x2="137.90" y2="443.55" stroke="#333" stroke-width="0.45"/>
<line x1="136.70" y1="444.90" x2="137.90" y2="444.90" stroke="#333" stroke-width="0.45"/>
<line x1="136.70" y1="446.25" x2="137.90" y2="446.25" stroke="#333" stroke-width="0.45"/>
<line x1="136.70" y1="447.60" x2="137.90" y2="447.60" stroke="#333" stroke-width="0.45"/>
<line x1="136.70" y1="448.95" x2="137.90" y2="448.95" stroke="#333" stroke-width="0.45"/>
<line x1="136.70" y1="450.30" x2="137.90" y2="450.30" stroke="#333" stroke-width="0.45"/>
<line x1="136.70" y1="451.65" x2="137.90" y2="451.65" stroke="#333" stroke-width="0.45"/>
<line x1="136.70" y1="453.00" x2="137.90" y2="453.00" stroke="#333" stroke-width="0.45"/>
<line x1="136.70" y1="454.35" x2="137.90" y2="454.35" stroke="#333" stroke-width="0.45"/>
<line x1="136.70" y1="455.70" x2="137.90" y2="455.70" stroke="#333" stroke-width="0.45"/>
<line x1="136.70" y1="457.05" x2="137.90" y2="457.05" stroke="#333" stroke-width="0.45"/>
<line x1="136.70" y1="458.40" x2="137.90" y2="458.40" stroke="#333" stroke-width="0.45"/>
<line x1="136.70" y1="459.75" x2="137.90" y2="459.75" stroke="#333" stroke-width="0.45"/>
<line x1="136.70" y1="461.10" x2="137.90" y2="461.10" stroke="#333" stroke-width="0.45"/>
<line x1="136.70" y1="462.45" x2="137.90" y2="462.45" stroke="#333" stroke-width="0.45"/>
<line x1="136.70" y1="463.80" x2="137.90" y2="463.80" stroke="#333" stroke-width="0.45"/>
<line x1="136.70" y1="465.15" x2="137.90" y2="465.15" stroke="#333" stroke-width="0.45"/>
<line x1="136.70" y1="466.50" x2="137.90" y2="466.50" stroke="#333" stroke-width="0.45"/>
<line x1="136.70" y1="467.85" x2="137.90" y2="467.85" stroke="#333" stroke-width="0.45"/>
<line x1="136.70" y1="469.20" x2="137.90" y2="469.20" stroke="#333" stroke-width="0.45"/>
<line x1="136.70" y1="470.55" x2="137.90" y2="470.55" stroke="#333" stroke-width="0.45"/>
<line x1="136.70" y1="471.90" x2="137.90" y2="471.90" stroke="#333" stroke-width="0.45"/>
<line x1="136.70" y1="473.25" x2="137.90" y2="473.25" stroke="#333" stroke-width="0.45"/>
<line x1="140.90" y1="474.60" x2="140.90" y2="475.80" stroke="#333" stroke-width="0.45"/>
<line x1="142.25" y1="474.60" x2="142.25" y2="475.80" stroke="#333" stroke-width="0.45"/>
<line x1="143.60" y1="474.60" x2="143.60" y2="475.80" stroke="#333" stroke-width="0.45"/>
<line x1="144.95" y1="474.60" x2="144.95" y2="475.80" stroke="#333" stroke-width="0.45"/>
<line x1="146.30" y1="474.60" x2="146.30" y2="475.80" stroke="#333" stroke-width="0.45"/>
<line x1="147.65" y1="474.60" x2="147.65" y2="475.80" stroke="#333" stroke-width="0.45"/>
<line x1="149.00" y1="474.60" x2="149.00" y2="475.80" stroke="#333" stroke-width="0.45"/>
<line x1="150.35" y1="474.60" x2="150.35" y2="475.80" stroke="#333" stroke-width="0.45"/>
<line x1="151.70" y1="474.60" x2="151.70" y2="475.80" stroke="#333" stroke-width="0.45"/>
<line x1="153.05" y1="474.60" x2="153.05" y2="475.80" stroke="#333" stroke-width="0.45"/>
<line x1="154.40" y1="474.60" x2="154.40" y2="475.80" stroke="#333" stroke-width="0.45"/>
<line x1="155.75" y1="474.60" x2="155.75" y2="475.80" stroke="#333" stroke-width="0.45"/>
<line x1="157.10" y1="474.60" x2="157.10" y2="475.80" stroke="#333" stroke-width="0.45"/>
<line x1="158.45" y1="474.60" x2="158.45" y2="475.80" stroke="#333" stroke-width="0.45"/>
<line x1="159.80" y1="474.60" x2="159.80" y2="475.80" stroke="#333" stroke-width="0.45"/>
<line x1="161.15" y1="474.60" x2="161.15" y2="475.80" stroke="#333" stroke-width="0.45"/>
<line x1="162.50" y1="474.60" x2="162.50" y2="475.80" stroke="#333" stroke-width="0.45"/>
<line x1="163.85" y1="474.60" x2="163.85" y2="475.80" stroke="#333" stroke-width="0.45"/>
<line x1="165.20" y1="474.60" x2="165.20" y2="475.80" stroke="#333" stroke-width="0.45"/>
<line x1="166.55" y1="474.60" x2="166.55" y2="475.80" stroke="#333" stroke-width="0.45"/>
<line x1="167.90" y1="474.60" x2="167.90" y2="475.80" stroke="#333" stroke-width="0.45"/>
<line x1="169.25" y1="474.60" x2="169.25" y2="475.80" stroke="#333" stroke-width="0.45"/>
<line x1="170.60" y1="474.60" x2="170.60" y2="475.80" stroke="#333" stroke-width="0.45"/>
<line x1="171.95" y1="474.60" x2="171.95" y2="475.80" stroke="#333" stroke-width="0.45"/>
<line x1="173.30" y1="474.60" x2="173.30" y2="475.80" stroke="#333" stroke-width="0.45"/>
<line x1="174.65" y1="474.60" x2="174.65" y2="475.80" stroke="#333" stroke-width="0.45"/>
<line x1="176.00" y1="474.60" x2="176.00" y2="475.80" stroke="#333" stroke-width="0.45"/>
<line x1="177.35" y1="474.60" x2="177.35" y2="475.80" stroke="#333" stroke-width="0.45"/>
<line x1="178.70" y1="474.60" x2="178.70" y2="475.80" stroke="#333" stroke-width="0.45"/>
<line x1="180.05" y1="474.60" x2="180.05" y2="475.80" stroke="#333" stroke-width="0.45"/>
<text x="143.50" y="484.60" font-size="4.6" fill="#555" textLength="2.40" lengthAdjust="spacingAndGlyphs" stroke="#555" stroke-width="0.1">0</text>
<text x="153.40" y="484.60" font-size="4.6" fill="#555" textLength="4.60" lengthAdjust="spacingAndGlyphs" stroke="#555" stroke-width="0.1">10</text>
<text x="158.10" y="482.50" font-size="3.0" fill="#555" textLength="1.30" lengthAdjust="spacingAndGlyphs" stroke="#555" stroke-width="0.05">3</text>
<text x="164.20" y="484.60" font-size="4.6" fill="#555" textLength="4.60" lengthAdjust="spacingAndGlyphs" stroke="#555" stroke-width="0.1">10</text>
<text x="168.90" y="482.50" font-size="3.0" fill="#555" textLength="1.30" lengthAdjust="spacingAndGlyphs" stroke="#555" stroke-width="0.05">4</text>
<text x="174.10" y="484.60" font-size="4.6" fill="#555" textLength="4.60" lengthAdjust="spacingAndGlyphs" stroke="#555" stroke-width="0.1">10</text>
<text x="178.80" y="482.50" font-size="3.0" fill="#555" textLength="1.30" lengthAdjust="spacingAndGlyphs" stroke="#555" stroke-width="0.05">5</text>
<defs><clipPath id="cb4"><path d="M153.20,452.20 C152.97,451.18 154.58,450.83 155.50,450.40 C156.42,449.97 157.02,449.68 158.70,449.60 C160.38,449.52 163.80,449.62 165.60,449.90 C167.40,450.18 168.53,450.72 169.50,451.30 C170.47,451.88 170.98,452.48 171.40,453.40 C171.82,454.32 171.53,455.50 172.00,456.80 C172.47,458.10 173.73,459.80 174.20,461.20 C174.67,462.60 174.98,464.05 174.80,465.20 C174.62,466.35 174.15,467.43 173.10,468.10 C172.05,468.77 169.85,469.20 168.50,469.20 C167.15,469.20 165.87,468.67 165.00,468.10 C164.13,467.53 163.97,466.57 163.30,465.80 C162.63,465.03 161.48,464.37 161.00,463.50 C160.52,462.63 161.08,461.77 160.40,460.60 C159.72,459.43 158.10,457.90 156.90,456.50 C155.70,455.10 153.43,453.22 153.20,452.20Z"/></clipPath></defs><path d="M153.20,452.20 C152.97,451.18 154.58,450.83 155.50,450.40 C156.42,449.97 157.02,449.68 158.70,449.60 C160.38,449.52 163.80,449.62 165.60,449.90 C167.40,450.18 168.53,450.72 169.50,451.30 C170.47,451.88 170.98,452.48 171.40,453.40 C171.82,454.32 171.53,455.50 172.00,456.80 C172.47,458.10 173.73,459.80 174.20,461.20 C174.67,462.60 174.98,464.05 174.80,465.20 C174.62,466.35 174.15,467.43 173.10,468.10 C172.05,468.77 169.85,469.20 168.50,469.20 C167.15,469.20 165.87,468.67 165.00,468.10 C164.13,467.53 163.97,466.57 163.30,465.80 C162.63,465.03 161.48,464.37 161.00,463.50 C160.52,462.63 161.08,461.77 160.40,460.60 C159.72,459.43 158.10,457.90 156.90,456.50 C155.70,455.10 153.43,453.22 153.20,452.20Z" fill="#1a2cf0" filter="url(#fb1)"/><g clip-path="url(#cb4)"><ellipse cx="165.8" cy="454.8" rx="5.4" ry="3.4" fill="url(#gGrn)"/><ellipse cx="168.3" cy="462.6" rx="5.6" ry="8.2" fill="url(#gFullLow)"/></g>
<rect x="137.90" y="431.10" width="43.70" height="43.50" fill="none" stroke="#444" stroke-width="0.9"/>
<rect x="137.90" y="443.60" width="28.50" height="8.20" fill="none" stroke="#222" stroke-width="0.8"/>
<line x1="137.90" y1="451.80" x2="166.40" y2="451.80" stroke="#222" stroke-width="1.3"/>
<line x1="150.40" y1="443.60" x2="150.40" y2="451.80" stroke="#222" stroke-width="0.8"/>
<line x1="152.00" y1="443.60" x2="152.00" y2="451.80" stroke="#222" stroke-width="0.8"/>
<line x1="155.60" y1="443.60" x2="155.60" y2="451.80" stroke="#222" stroke-width="0.8"/>
<line x1="156.90" y1="443.60" x2="156.90" y2="451.80" stroke="#222" stroke-width="0.8"/>
<path d="M161.3,452.2 L171.6,452.2 L171.6,457.4 L161.3,457.4Z" fill="none" stroke="#222" stroke-width="0.8"/>
<rect x="164.10" y="457.40" width="13.30" height="11.50" fill="none" stroke="#222" stroke-width="0.8"/>
<text x="202.60" y="366.60" font-size="11.2" fill="#231f20" textLength="7.70" lengthAdjust="spacingAndGlyphs">G</text>
<rect x="229.30" y="360.80" width="10.20" height="5.50" fill="#4c1e66"/>
<text x="243.00" y="366.40" font-size="8.3" fill="#231f20" textLength="10.80" lengthAdjust="spacingAndGlyphs" stroke="#231f20" stroke-width="0.22">Pro</text>
<rect x="264.50" y="360.80" width="10.20" height="5.50" fill="#e1921e"/>
<text x="278.20" y="366.40" font-size="8.3" fill="#231f20" textLength="8.30" lengthAdjust="spacingAndGlyphs" stroke="#231f20" stroke-width="0.22">EB</text>
<rect x="296.30" y="360.80" width="10.20" height="5.50" fill="#346e57"/>
<text x="310.00" y="366.40" font-size="8.3" fill="#231f20" textLength="7.80" lengthAdjust="spacingAndGlyphs" stroke="#231f20" stroke-width="0.22">LB</text>
<rect x="238.00" y="372.00" width="10.20" height="5.50" fill="#8a83bb"/>
<text x="251.30" y="377.60" font-size="8.3" fill="#231f20" textLength="14.30" lengthAdjust="spacingAndGlyphs" stroke="#231f20" stroke-width="0.22">Poly</text>
<rect x="276.30" y="372.00" width="10.20" height="5.50" fill="#505768"/>
<text x="289.60" y="377.60" font-size="8.3" fill="#231f20" textLength="19.80" lengthAdjust="spacingAndGlyphs" stroke="#231f20" stroke-width="0.22">Ortho</text>
<line x1="234.60" y1="387.50" x2="234.60" y2="487.80" stroke="#231f20" stroke-width="1.2"/>
<line x1="234.00" y1="487.20" x2="313.80" y2="487.20" stroke="#231f20" stroke-width="1.25"/>
<line x1="231.80" y1="486.80" x2="234.60" y2="486.80" stroke="#231f20" stroke-width="1.1"/>
<text x="224.95" y="489.85" font-size="7.8" fill="#231f20" textLength="3.95" lengthAdjust="spacingAndGlyphs" stroke="#231f20" stroke-width="0.22">0</text>
<line x1="231.80" y1="470.78" x2="234.60" y2="470.78" stroke="#231f20" stroke-width="1.1"/>
<text x="221.00" y="473.83" font-size="7.8" fill="#231f20" textLength="7.90" lengthAdjust="spacingAndGlyphs" stroke="#231f20" stroke-width="0.22">20</text>
<line x1="231.80" y1="454.76" x2="234.60" y2="454.76" stroke="#231f20" stroke-width="1.1"/>
<text x="221.00" y="457.81" font-size="7.8" fill="#231f20" textLength="7.90" lengthAdjust="spacingAndGlyphs" stroke="#231f20" stroke-width="0.22">40</text>
<line x1="231.80" y1="438.74" x2="234.60" y2="438.74" stroke="#231f20" stroke-width="1.1"/>
<text x="221.00" y="441.79" font-size="7.8" fill="#231f20" textLength="7.90" lengthAdjust="spacingAndGlyphs" stroke="#231f20" stroke-width="0.22">60</text>
<line x1="231.80" y1="422.72" x2="234.60" y2="422.72" stroke="#231f20" stroke-width="1.1"/>
<text x="221.00" y="425.77" font-size="7.8" fill="#231f20" textLength="7.90" lengthAdjust="spacingAndGlyphs" stroke="#231f20" stroke-width="0.22">80</text>
<line x1="231.80" y1="406.70" x2="234.60" y2="406.70" stroke="#231f20" stroke-width="1.1"/>
<text x="217.05" y="409.75" font-size="7.8" fill="#231f20" textLength="11.85" lengthAdjust="spacingAndGlyphs" stroke="#231f20" stroke-width="0.22">100</text>
<line x1="231.80" y1="390.68" x2="234.60" y2="390.68" stroke="#231f20" stroke-width="1.1"/>
<text x="217.05" y="393.73" font-size="7.8" fill="#231f20" textLength="11.85" lengthAdjust="spacingAndGlyphs" stroke="#231f20" stroke-width="0.22">120</text>
<g transform="translate(210.00,437.10) rotate(-90)"><text x="-58.80" y="0" font-size="9.4" fill="#231f20" textLength="117.60" lengthAdjust="spacingAndGlyphs" stroke="#231f20" stroke-width="0.22">Percentage of each stage cells</text></g>
<rect x="241.20" y="474.79" width="12.10" height="12.01" fill="#8a83bb"/>
<rect x="241.20" y="410.71" width="12.10" height="64.08" fill="#505768"/>
<line x1="247.25" y1="474.79" x2="247.25" y2="469.98" stroke="#111" stroke-width="1.2"/>
<line x1="244.25" y1="469.98" x2="250.25" y2="469.98" stroke="#111" stroke-width="1.3"/>
<line x1="247.25" y1="410.71" x2="247.25" y2="406.30" stroke="#111" stroke-width="1.2"/>
<line x1="244.25" y1="406.30" x2="250.25" y2="406.30" stroke="#111" stroke-width="1.3"/>
<line x1="247.25" y1="487.20" x2="247.25" y2="490.10" stroke="#231f20" stroke-width="1.1"/>
<rect x="259.50" y="482.80" width="12.10" height="4.00" fill="#4c1e66"/>
<rect x="259.50" y="464.53" width="12.10" height="18.26" fill="#e1921e"/>
<rect x="259.50" y="437.14" width="12.10" height="27.39" fill="#346e57"/>
<rect x="259.50" y="420.32" width="12.10" height="16.82" fill="#8a83bb"/>
<rect x="259.50" y="415.91" width="12.10" height="4.41" fill="#505768"/>
<line x1="265.55" y1="464.53" x2="265.55" y2="459.57" stroke="#111" stroke-width="1.2"/>
<line x1="262.55" y1="459.57" x2="268.55" y2="459.57" stroke="#111" stroke-width="1.3"/>
<line x1="265.55" y1="437.14" x2="265.55" y2="431.93" stroke="#111" stroke-width="1.2"/>
<line x1="262.55" y1="431.93" x2="268.55" y2="431.93" stroke="#111" stroke-width="1.3"/>
<line x1="265.55" y1="420.32" x2="265.55" y2="418.31" stroke="#111" stroke-width="1.2"/>
<line x1="262.55" y1="418.31" x2="268.55" y2="418.31" stroke="#111" stroke-width="1.3"/>
<line x1="265.55" y1="415.91" x2="265.55" y2="415.51" stroke="#111" stroke-width="1.2"/>
<line x1="262.55" y1="415.51" x2="268.55" y2="415.51" stroke="#111" stroke-width="1.3"/>
<line x1="265.55" y1="487.20" x2="265.55" y2="490.10" stroke="#231f20" stroke-width="1.1"/>
<rect x="278.10" y="481.59" width="12.10" height="5.21" fill="#8a83bb"/>
<rect x="278.10" y="411.35" width="12.10" height="70.25" fill="#505768"/>
<line x1="284.15" y1="481.59" x2="284.15" y2="479.59" stroke="#111" stroke-width="1.2"/>
<line x1="281.15" y1="479.59" x2="287.15" y2="479.59" stroke="#111" stroke-width="1.3"/>
<line x1="284.15" y1="411.35" x2="284.15" y2="406.70" stroke="#111" stroke-width="1.2"/>
<line x1="281.15" y1="406.70" x2="287.15" y2="406.70" stroke="#111" stroke-width="1.3"/>
<line x1="284.15" y1="487.20" x2="284.15" y2="490.10" stroke="#231f20" stroke-width="1.1"/>
<rect x="296.20" y="484.80" width="12.10" height="2.00" fill="#346e57"/>
<rect x="296.20" y="463.73" width="12.10" height="21.07" fill="#8a83bb"/>
<rect x="296.20" y="415.91" width="12.10" height="47.82" fill="#505768"/>
<line x1="302.25" y1="463.73" x2="302.25" y2="458.93" stroke="#111" stroke-width="1.2"/>
<line x1="299.25" y1="458.93" x2="305.25" y2="458.93" stroke="#111" stroke-width="1.3"/>
<line x1="302.25" y1="415.91" x2="302.25" y2="410.54" stroke="#111" stroke-width="1.2"/>
<line x1="299.25" y1="410.54" x2="305.25" y2="410.54" stroke="#111" stroke-width="1.3"/>
<line x1="302.25" y1="487.20" x2="302.25" y2="490.10" stroke="#231f20" stroke-width="1.1"/>
<g transform="translate(249.60,496.30) rotate(-45)"><text x="-79.00" y="0" font-size="8.2" fill="#231f20" textLength="79.00" lengthAdjust="spacingAndGlyphs" stroke="#231f20" stroke-width="0.22">Luciferase-CFU-E-DMSO</text></g>
<g transform="translate(267.90,496.30) rotate(-45)"><text x="-71.50" y="0" font-size="8.2" fill="#231f20" textLength="71.50" lengthAdjust="spacingAndGlyphs" stroke="#231f20" stroke-width="0.22">TET2 KD-CFU-E-DMSO</text></g>
<g transform="translate(286.50,496.30) rotate(-45)"><text x="-79.50" y="0" font-size="8.2" fill="#231f20" textLength="79.50" lengthAdjust="spacingAndGlyphs" stroke="#231f20" stroke-width="0.22">Luciferase-CFU-E-STI571</text></g>
<g transform="translate(304.60,496.30) rotate(-45)"><text x="-73.50" y="0" font-size="8.2" fill="#231f20" textLength="73.50" lengthAdjust="spacingAndGlyphs" stroke="#231f20" stroke-width="0.22">TET2 KD-CFU-E-STI571</text></g>
<text x="334.38" y="366.60" font-size="11.2" fill="#231f20" textLength="7.23" lengthAdjust="spacingAndGlyphs">H</text>
<text x="401.00" y="396.00" font-size="8.5" fill="#231f20" textLength="21.20" lengthAdjust="spacingAndGlyphs" stroke="#231f20" stroke-width="0.22">DMSO</text>
<text x="458.90" y="396.00" font-size="8.5" fill="#231f20" textLength="21.40" lengthAdjust="spacingAndGlyphs" stroke="#231f20" stroke-width="0.22">STI571</text>
<text x="344.10" y="419.80" font-size="8.2" fill="#231f20" textLength="33.10" lengthAdjust="spacingAndGlyphs" stroke="#231f20" stroke-width="0.22">Luciferase</text>
<text x="344.10" y="428.90" font-size="8.2" fill="#231f20" textLength="22.40" lengthAdjust="spacingAndGlyphs" stroke="#231f20" stroke-width="0.22">-CFU-E</text>
<text x="344.10" y="469.60" font-size="8.2" fill="#231f20" textLength="27.00" lengthAdjust="spacingAndGlyphs" stroke="#231f20" stroke-width="0.22">TET2 KD</text>
<text x="344.10" y="479.10" font-size="8.2" fill="#231f20" textLength="22.40" lengthAdjust="spacingAndGlyphs" stroke="#231f20" stroke-width="0.22">-CFU-E</text>
<defs><linearGradient id="hbg0" x1="0" x2="1" y1="0" y2="0.3"><stop offset="0" stop-color="#fbfde4"/><stop offset="1" stop-color="#f4fadc"/></linearGradient><linearGradient id="hbg1" x1="0" x2="1" y1="0" y2="0.3"><stop offset="0" stop-color="#f6fbde"/><stop offset="1" stop-color="#f2f8d8"/></linearGradient><linearGradient id="hbg2" x1="0" x2="1" y1="0" y2="0.3"><stop offset="0" stop-color="#fafbe8"/><stop offset="1" stop-color="#f7f9e9"/></linearGradient><linearGradient id="hbg3" x1="0" x2="1" y1="0" y2="0.3"><stop offset="0" stop-color="#f4f9da"/><stop offset="1" stop-color="#f1f7d6"/></linearGradient></defs>
<rect x="384.20" y="400.40" width="56.00" height="42.00" fill="url(#hbg0)"/>
<rect x="442.40" y="400.40" width="56.00" height="42.00" fill="url(#hbg1)"/>
<rect x="384.20" y="446.10" width="56.00" height="42.00" fill="url(#hbg2)"/>
<rect x="442.40" y="446.10" width="56.00" height="42.00" fill="url(#hbg3)"/>
<ellipse cx="424.2" cy="437.6" rx="3.6" ry="3.8" fill="#b4a0c4" filter="url(#fcell)"/>
<g filter="url(#fcell)"><circle cx="408.8" cy="425.1" r="2.7" fill="#d4c8d8"/><circle cx="408.8" cy="425.1" r="1.45" fill="#3d2c70"/><circle cx="408.8" cy="425.1" r="2.35" fill="none" stroke="#b8a8c4" stroke-width="0.75"/></g>
<g filter="url(#fcell)"><circle cx="413.4" cy="427.1" r="2.7" fill="#d4c8d8"/><circle cx="413.4" cy="427.1" r="1.45" fill="#3d2c70"/><circle cx="413.4" cy="427.1" r="2.35" fill="none" stroke="#b8a8c4" stroke-width="0.75"/></g>
<g filter="url(#fcell)"><circle cx="409.7" cy="429.4" r="2.7" fill="#d4c8d8"/><circle cx="409.7" cy="429.4" r="1.45" fill="#3d2c70"/><circle cx="409.7" cy="429.4" r="2.35" fill="none" stroke="#b8a8c4" stroke-width="0.75"/></g>
<g filter="url(#fcell)"><circle cx="465.6" cy="425.5" r="2.9" fill="#d2c6d4"/><circle cx="465.6" cy="425.5" r="1.55" fill="#3a2a6e"/><circle cx="465.6" cy="425.5" r="2.55" fill="none" stroke="#b8a8c0" stroke-width="0.75"/></g>
<g filter="url(#fcell)"><circle cx="469.8" cy="422.2" r="2.9" fill="#d2c6d4"/><circle cx="469.8" cy="422.2" r="1.55" fill="#3a2a6e"/><circle cx="469.8" cy="422.2" r="2.55" fill="none" stroke="#b8a8c0" stroke-width="0.75"/></g>
<g filter="url(#fcell)"><circle cx="470.2" cy="427.4" r="2.9" fill="#d2c6d4"/><circle cx="470.2" cy="427.4" r="1.55" fill="#3a2a6e"/><circle cx="470.2" cy="427.4" r="2.55" fill="none" stroke="#b8a8c0" stroke-width="0.75"/></g>
<g filter="url(#fcell)"><circle cx="475.2" cy="425.5" r="2.9" fill="#d2c6d4"/><circle cx="475.2" cy="425.5" r="1.55" fill="#3a2a6e"/><circle cx="475.2" cy="425.5" r="2.55" fill="none" stroke="#b8a8c0" stroke-width="0.75"/></g>
<ellipse cx="436.5" cy="455.5" rx="5.5" ry="9" fill="#d8cce0" filter="url(#fsm)"/>
<ellipse cx="389.3" cy="460.3" rx="2.2" ry="1.2" fill="#8a90cc" filter="url(#fcell)"/>
<circle cx="389.3" cy="474.2" r="1.8" fill="#dcdcec" filter="url(#fcell)"/>
<g filter="url(#fcell)"><circle cx="405.6" cy="459.5" r="4.3" fill="#9c82ca"/><ellipse cx="404.1" cy="461.0" rx="1.2" ry="0.96" fill="#f4f0f8" opacity="0.85"/><circle cx="405.6" cy="459.5" r="3.9499999999999997" fill="none" stroke="#6a74cc" stroke-width="0.75"/></g>
<g filter="url(#fcell)"><circle cx="398.1" cy="465.3" r="3.75" fill="#9c82ca"/><ellipse cx="397.1" cy="466.3" rx="1.3" ry="1.04" fill="#f4f0f8" opacity="0.85"/><circle cx="398.1" cy="465.3" r="3.4" fill="none" stroke="#6a74cc" stroke-width="0.75"/></g>
<g filter="url(#fcell)"><circle cx="409.3" cy="467.0" r="4.6" fill="#9c82ca"/><ellipse cx="410.90000000000003" cy="468.6" rx="1.4" ry="1.1199999999999999" fill="#f4f0f8" opacity="0.85"/><circle cx="409.3" cy="467.0" r="4.25" fill="none" stroke="#6a74cc" stroke-width="0.75"/></g>
<g filter="url(#fcell)"><circle cx="401.8" cy="472.2" r="4.0" fill="#9c82ca"/><ellipse cx="400.8" cy="473.4" rx="1.3" ry="1.04" fill="#f4f0f8" opacity="0.85"/><circle cx="401.8" cy="472.2" r="3.65" fill="none" stroke="#6a74cc" stroke-width="0.75"/></g>
<g filter="url(#fcell)"><circle cx="412.5" cy="474.2" r="3.0" fill="#9c82ca"/><circle cx="412.5" cy="474.2" r="2.65" fill="none" stroke="#6a74cc" stroke-width="0.75"/></g>
<g filter="url(#fcell)"><circle cx="423.0" cy="465.0" r="3.5" fill="#9c82ca"/><ellipse cx="424.0" cy="466.0" rx="1.0" ry="0.8" fill="#f4f0f8" opacity="0.85"/><circle cx="423.0" cy="465.0" r="3.15" fill="none" stroke="#6a74cc" stroke-width="0.75"/></g>
<g filter="url(#fcell)"><circle cx="420.1" cy="476.3" r="2.6" fill="#9c82ca"/><ellipse cx="420.90000000000003" cy="476.90000000000003" rx="0.8" ry="0.6400000000000001" fill="#f4f0f8" opacity="0.85"/><circle cx="420.1" cy="476.3" r="2.25" fill="none" stroke="#6a74cc" stroke-width="0.75"/></g>
<g filter="url(#fcell)"><circle cx="427.9" cy="474.9" r="4.6" fill="#9c82ca"/><ellipse cx="426.4" cy="475.4" rx="1.4" ry="1.1199999999999999" fill="#f4f0f8" opacity="0.85"/><circle cx="427.9" cy="474.9" r="4.25" fill="none" stroke="#6a74cc" stroke-width="0.75"/></g>
<g filter="url(#fcell)"><circle cx="397.5" cy="457.8" r="2.3" fill="#6a58b0"/><ellipse cx="398.1" cy="457.40000000000003" rx="0.7" ry="0.5599999999999999" fill="#f4f0f8" opacity="0.85"/><circle cx="397.5" cy="457.8" r="1.9499999999999997" fill="none" stroke="#5048a8" stroke-width="0.75"/></g>
<g filter="url(#fcell)"><circle cx="395.2" cy="477.4" r="2.0" fill="#5d4ca6"/><circle cx="395.2" cy="477.4" r="1.0" fill="#3e2e88"/></g>
<circle cx="403.8" cy="466.2" r="0.8" fill="#222"/>
<ellipse cx="492.2" cy="454.0" rx="4.8" ry="4.6" fill="#cdbcd6" filter="url(#fsm)"/>
<g filter="url(#fcell)"><circle cx="464.8" cy="460.2" r="3.5" fill="#d0c4ce"/><circle cx="464.8" cy="460.2" r="1.4080000000000001" fill="#4a3084"/><circle cx="464.8" cy="460.2" r="3.15" fill="none" stroke="#b4a4b8" stroke-width="0.75"/></g>
<g filter="url(#fcell)"><circle cx="462.9" cy="467.4" r="4.0" fill="#d0c4ce"/><circle cx="462.9" cy="467.4" r="1.9360000000000002" fill="#4a3084"/><circle cx="462.9" cy="467.4" r="3.65" fill="none" stroke="#b4a4b8" stroke-width="0.75"/></g>
<g filter="url(#fcell)"><circle cx="469.2" cy="467.9" r="3.0" fill="#d0c4ce"/><circle cx="469.2" cy="467.9" r="1.4080000000000001" fill="#4a3084"/><circle cx="469.2" cy="467.9" r="2.65" fill="none" stroke="#b4a4b8" stroke-width="0.75"/></g>
<g filter="url(#fcell)"><circle cx="474.9" cy="469.1" r="2.3" fill="#d0c4ce"/><circle cx="474.9" cy="469.1" r="1.056" fill="#4a3084"/><circle cx="474.9" cy="469.1" r="1.9499999999999997" fill="none" stroke="#b4a4b8" stroke-width="0.75"/></g>
<g filter="url(#fcell)"><circle cx="459.5" cy="472.2" r="3.6" fill="#d0c4ce"/><circle cx="459.5" cy="472.2" r="1.32" fill="#4a3084"/><circle cx="459.5" cy="472.2" r="3.25" fill="none" stroke="#b4a4b8" stroke-width="0.75"/></g>
<g filter="url(#fcell)"><circle cx="465.3" cy="472.2" r="3.6" fill="#d0c4ce"/><circle cx="465.3" cy="472.2" r="1.32" fill="#4a3084"/><circle cx="465.3" cy="472.2" r="3.25" fill="none" stroke="#b4a4b8" stroke-width="0.75"/></g>
<g filter="url(#fcell)"><circle cx="481.2" cy="469.3" r="3.6" fill="#d0c4ce"/><circle cx="481.2" cy="469.3" r="1.584" fill="#4a3084"/><circle cx="481.2" cy="469.3" r="3.25" fill="none" stroke="#b4a4b8" stroke-width="0.75"/></g>
<g filter="url(#fcell)"><circle cx="485.5" cy="466.9" r="3.4" fill="#d0c4ce"/><circle cx="485.5" cy="466.9" r="1.496" fill="#4a3084"/><circle cx="485.5" cy="466.9" r="3.05" fill="none" stroke="#b4a4b8" stroke-width="0.75"/></g>
<g filter="url(#fcell)"><circle cx="486.0" cy="473.6" r="3.4" fill="#d0c4ce"/><circle cx="486.0" cy="473.6" r="1.4080000000000001" fill="#4a3084"/><circle cx="486.0" cy="473.6" r="3.05" fill="none" stroke="#b4a4b8" stroke-width="0.75"/></g>
<g filter="url(#fcell)"><circle cx="454.3" cy="465.5" r="4.5" fill="#c8c4dc"/><circle cx="455.7" cy="465.5" r="2.6" fill="#7050a8"/><circle cx="454.3" cy="465.5" r="4.15" fill="none" stroke="#8a90c4" stroke-width="0.75"/></g>
<g filter="url(#fcell)"><circle cx="480.2" cy="477.0" r="4.3" fill="#c6c2dc"/><circle cx="479.4" cy="476.2" r="2.6" fill="#6a50a8"/><circle cx="480.2" cy="477.0" r="3.9499999999999997" fill="none" stroke="#8a90c4" stroke-width="0.75"/></g>
<g filter="url(#fcell)"><circle cx="492.2" cy="469.3" r="3.0" fill="#5e4298"/></g>
<g filter="url(#fcell)"><circle cx="496.6" cy="481.8" r="2.3" fill="#6a4ea0"/></g>
<rect x="486.5" y="482.8" width="7.7" height="1.0" fill="#111"/>
<text x="486.55" y="481.20" font-size="2.6" fill="#222" textLength="7.50" lengthAdjust="spacingAndGlyphs" stroke="#222" stroke-width="0.05">10 µm</text>
<rect x="0.5" y="0.5" width="518.6" height="563.6" fill="none" stroke="#111" stroke-width="1.3"/><rect x="518.9" y="0" width="1.1" height="565" fill="#1a1a1a"/><rect x="0" y="0" width="520" height="1.5" fill="#111"/>
</svg></body></html>
